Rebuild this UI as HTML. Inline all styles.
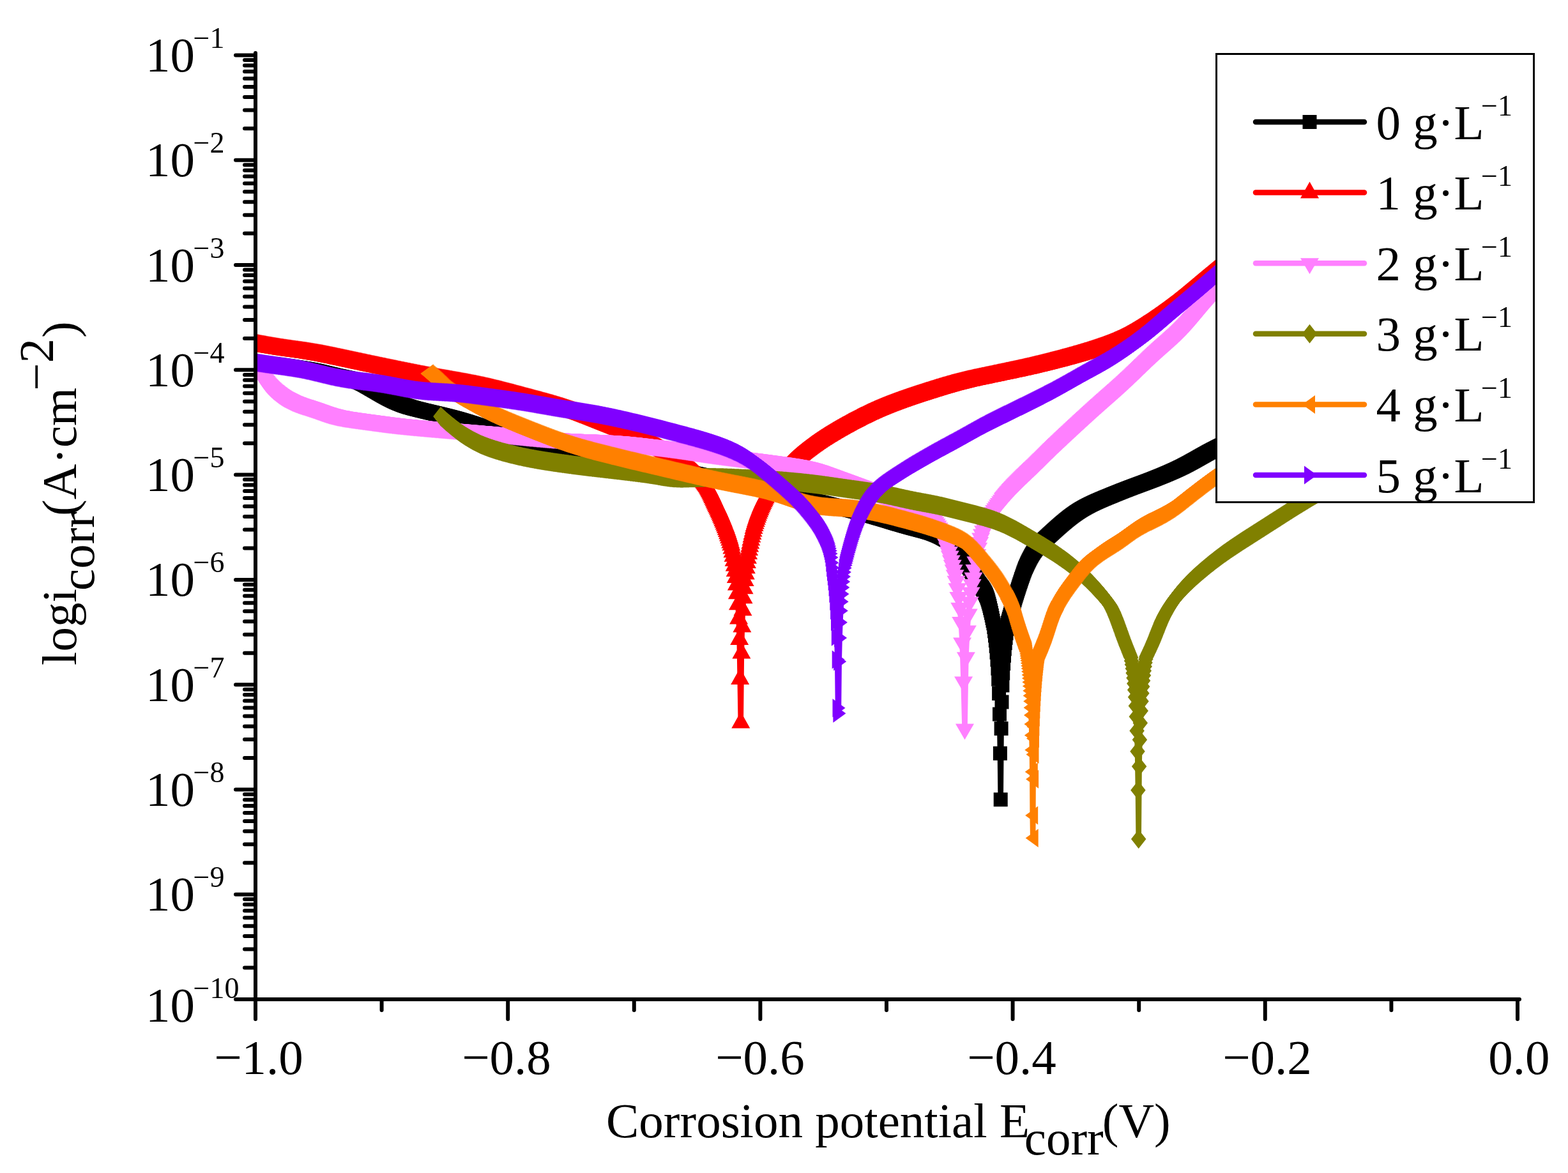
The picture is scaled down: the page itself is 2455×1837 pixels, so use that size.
<!DOCTYPE html><html><head><meta charset="utf-8"><title>Tafel plot</title><style>html,body{margin:0;padding:0;background:#fff;}svg{display:block}</style></head><body>
<svg width="2455" height="1837" viewBox="0 0 2455 1837" xmlns="http://www.w3.org/2000/svg">
<rect width="100%" height="100%" fill="#fff"/>
<defs><clipPath id="pc"><rect x="400" y="0" width="1976" height="1565"/></clipPath>
<marker id="m_black" markerUnits="userSpaceOnUse" markerWidth="40" markerHeight="40" refX="0" refY="0" viewBox="-20 -20 40 40" overflow="visible"><path d="M-11 -11H11V11H-11Z" fill="#000000"/></marker>
<marker id="m_red" markerUnits="userSpaceOnUse" markerWidth="40" markerHeight="40" refX="0" refY="0" viewBox="-20 -20 40 40" overflow="visible"><path d="M0 -17L14.5 9L-14.5 9Z" fill="#ff0000"/></marker>
<marker id="m_pink" markerUnits="userSpaceOnUse" markerWidth="40" markerHeight="40" refX="0" refY="0" viewBox="-20 -20 40 40" overflow="visible"><path d="M0 17L14.5 -8L-14.5 -8Z" fill="#ff80ff"/></marker>
<marker id="m_olive" markerUnits="userSpaceOnUse" markerWidth="40" markerHeight="40" refX="0" refY="0" viewBox="-20 -20 40 40" overflow="visible"><path d="M0 -15L11.75 0L0 15L-11.75 0Z" fill="#808000"/></marker>
<marker id="m_orange" markerUnits="userSpaceOnUse" markerWidth="40" markerHeight="40" refX="0" refY="0" viewBox="-20 -20 40 40" overflow="visible"><path d="M-11.5 0L8.5 -14.5L8.5 14.5Z" fill="#ff8000"/></marker>
<marker id="m_purple" markerUnits="userSpaceOnUse" markerWidth="40" markerHeight="40" refX="0" refY="0" viewBox="-20 -20 40 40" overflow="visible"><path d="M11.5 0L-8.5 -14.5L-8.5 14.5Z" fill="#8000ff"/></marker>
</defs><g clip-path="url(#pc)">
<polyline points="400.0,568.0 400.2,568.0 401.2,568.1 402.2,568.2 403.2,568.2 404.2,568.3 405.2,568.4 406.2,568.5 407.2,568.6 408.2,568.7 409.2,568.8 410.2,568.9 411.2,568.9 412.2,569.0 413.2,569.1 414.2,569.2 415.2,569.3 416.2,569.4 417.2,569.5 418.2,569.6 419.2,569.7 420.2,569.8 421.2,569.9 422.2,570.1 423.2,570.2 424.2,570.3 425.2,570.4 426.2,570.5 427.2,570.6 428.2,570.7 429.2,570.8 430.2,571.0 431.2,571.1 432.2,571.2 433.2,571.3 434.2,571.4 435.2,571.6 436.2,571.7 437.2,571.8 438.2,571.9 439.2,572.1 440.2,572.2 441.2,572.3 442.2,572.5 443.2,572.6 444.2,572.7 445.2,572.9 446.2,573.0 447.2,573.1 448.2,573.3 449.2,573.4 450.2,573.6 451.2,573.7 452.2,573.8 453.2,574.0 454.2,574.1 455.2,574.3 456.2,574.4 457.2,574.6 458.2,574.7 459.2,574.9 460.2,575.0 461.2,575.2 462.2,575.3 463.2,575.5 464.2,575.6 465.2,575.8 466.2,575.9 467.2,576.1 468.2,576.2 469.2,576.4 470.2,576.5 471.2,576.7 472.2,576.9 473.2,577.0 474.2,577.2 475.2,577.3 476.2,577.5 477.2,577.7 478.2,577.8 479.2,578.0 480.2,578.2 481.2,578.4 482.2,578.6 483.2,578.7 484.2,578.9 485.2,579.1 486.2,579.3 487.2,579.5 488.2,579.7 489.2,579.9 490.2,580.1 491.2,580.3 492.2,580.5 493.2,580.7 494.2,580.9 495.2,581.2 496.2,581.4 497.2,581.6 498.2,581.8 499.2,582.1 500.2,582.3 501.2,582.5 502.2,582.8 503.2,583.0 504.2,583.2 505.2,583.5 506.2,583.7 507.2,584.0 508.2,584.2 509.2,584.4 510.2,584.7 511.2,584.9 512.2,585.2 513.2,585.4 514.2,585.7 515.2,585.9 516.2,586.1 517.2,586.4 518.2,586.6 519.2,586.8 520.2,587.1 521.2,587.3 522.2,587.5 523.2,587.8 524.2,588.0 525.2,588.2 526.2,588.4 527.2,588.7 528.2,588.9 529.2,589.1 530.2,589.3 531.2,589.5 532.2,589.7 533.2,590.0 534.2,590.2 535.2,590.4 536.2,590.6 537.2,590.8 538.2,591.0 539.2,591.2 540.2,591.4 541.2,591.7 542.2,591.9 543.2,592.1 544.2,592.3 545.2,592.6 546.2,592.8 547.2,593.1 548.2,593.3 549.2,593.6 550.2,593.8 551.2,594.1 552.2,594.4 553.2,594.7 554.2,595.0 555.2,595.4 556.2,595.7 557.2,596.1 558.2,596.4 559.2,596.8 560.2,597.2 561.2,597.6 562.2,598.1 563.2,598.5 564.2,599.0 565.2,599.5 566.2,600.0 567.2,600.5 568.2,601.0 569.2,601.5 570.2,602.0 571.2,602.6 572.2,603.1 573.2,603.7 574.2,604.3 575.2,604.8 576.2,605.4 577.2,606.0 578.2,606.5 579.2,607.1 580.2,607.7 581.2,608.3 582.2,608.9 583.2,609.4 584.2,610.0 585.2,610.6 586.2,611.2 587.2,611.8 588.2,612.3 589.2,612.9 590.2,613.5 591.2,614.1 592.2,614.7 593.2,615.3 594.2,615.8 595.2,616.4 596.2,617.0 597.2,617.6 598.2,618.2 599.2,618.7 600.2,619.3 601.2,619.9 602.2,620.4 603.2,621.0 604.2,621.5 605.2,622.1 606.2,622.6 607.2,623.1 608.2,623.7 609.2,624.2 610.2,624.7 611.2,625.2 612.2,625.7 613.2,626.2 614.2,626.7 615.2,627.2 616.2,627.7 617.2,628.2 618.2,628.6 619.2,629.1 620.2,629.6 621.2,630.0 622.2,630.4 623.2,630.9 624.2,631.3 625.2,631.7 626.2,632.1 627.2,632.5 628.2,632.9 629.2,633.3 630.2,633.7 631.2,634.1 632.2,634.5 633.2,634.8 634.2,635.2 635.2,635.5 636.2,635.9 637.2,636.2 638.2,636.5 639.2,636.8 640.2,637.2 641.2,637.5 642.2,637.8 643.2,638.0 644.2,638.3 645.2,638.6 646.2,638.9 647.2,639.2 648.2,639.4 649.2,639.7 650.2,640.0 651.2,640.2 652.2,640.5 653.2,640.7 654.2,641.0 655.2,641.2 656.2,641.5 657.2,641.7 658.2,642.0 659.2,642.2 660.2,642.5 661.2,642.7 662.2,643.0 663.2,643.2 664.2,643.4 665.2,643.7 666.2,643.9 667.2,644.2 668.2,644.4 669.2,644.6 670.2,644.9 671.2,645.1 672.2,645.3 673.2,645.6 674.2,645.8 675.2,646.1 676.2,646.3 677.2,646.5 678.2,646.8 679.2,647.0 680.2,647.2 681.2,647.5 682.2,647.7 683.2,648.0 684.2,648.2 685.2,648.4 686.2,648.7 687.2,648.9 688.2,649.2 689.2,649.4 690.2,649.7 691.2,649.9 692.2,650.1 693.2,650.4 694.2,650.6 695.2,650.9 696.2,651.1 697.2,651.4 698.2,651.6 699.2,651.9 700.2,652.2 701.2,652.4 702.2,652.7 703.2,652.9 704.2,653.2 705.2,653.4 706.2,653.7 707.2,654.0 708.2,654.2 709.2,654.5 710.2,654.8 711.2,655.1 712.2,655.3 713.2,655.6 714.2,655.9 715.2,656.2 716.2,656.4 717.2,656.7 718.2,657.0 719.2,657.3 720.2,657.6 721.2,657.9 722.2,658.2 723.2,658.5 724.2,658.8 725.2,659.1 726.2,659.4 727.2,659.7 728.2,660.0 729.2,660.3 730.2,660.6 731.2,660.9 732.2,661.3 733.2,661.6 734.2,661.9 735.2,662.2 736.2,662.5 737.2,662.8 738.2,663.2 739.2,663.5 740.2,663.8 741.2,664.2 742.2,664.5 743.2,664.8 744.2,665.1 745.2,665.5 746.2,665.8 747.2,666.1 748.2,666.5 749.2,666.8 750.2,667.2 751.2,667.5 752.2,667.8 753.2,668.2 754.2,668.5 755.2,668.9 756.2,669.2 757.2,669.6 758.2,669.9 759.2,670.2 760.2,670.6 761.2,670.9 762.2,671.3 763.2,671.6 764.2,672.0 765.2,672.3 766.2,672.7 767.2,673.0 768.2,673.4 769.2,673.7 770.2,674.1 771.2,674.4 772.2,674.8 773.2,675.1 774.2,675.5 775.2,675.8 776.2,676.2 777.2,676.5 778.2,676.9 779.2,677.2 780.2,677.6 781.2,677.9 782.2,678.3 783.2,678.6 784.2,679.0 785.2,679.3 786.2,679.7 787.2,680.0 788.2,680.4 789.2,680.7 790.2,681.1 791.2,681.4 792.2,681.8 793.2,682.1 794.2,682.5 795.2,682.9 796.2,683.2 797.2,683.6 798.2,683.9 799.2,684.3 800.2,684.7 801.2,685.1 802.2,685.4 803.2,685.8 804.2,686.2 805.2,686.6 806.2,686.9 807.2,687.3 808.2,687.7 809.2,688.1 810.2,688.5 811.2,688.8 812.2,689.2 813.2,689.6 814.2,690.0 815.2,690.4 816.2,690.8 817.2,691.1 818.2,691.5 819.2,691.9 820.2,692.3 821.2,692.7 822.2,693.1 823.2,693.4 824.2,693.8 825.2,694.2 826.2,694.6 827.2,694.9 828.2,695.3 829.2,695.7 830.2,696.0 831.2,696.4 832.2,696.7 833.2,697.1 834.2,697.4 835.2,697.8 836.2,698.1 837.2,698.5 838.2,698.8 839.2,699.1 840.2,699.5 841.2,699.8 842.2,700.1 843.2,700.4 844.2,700.7 845.2,701.1 846.2,701.4 847.2,701.7 848.2,702.0 849.2,702.3 850.2,702.5 851.2,702.8 852.2,703.1 853.2,703.4 854.2,703.7 855.2,703.9 856.2,704.2 857.2,704.5 858.2,704.8 859.2,705.0 860.2,705.3 861.2,705.6 862.2,705.8 863.2,706.1 864.2,706.3 865.2,706.6 866.2,706.8 867.2,707.1 868.2,707.4 869.2,707.6 870.2,707.9 871.2,708.1 872.2,708.3 873.2,708.6 874.2,708.8 875.2,709.1 876.2,709.3 877.2,709.5 878.2,709.8 879.2,710.0 880.2,710.2 881.2,710.5 882.2,710.7 883.2,710.9 884.2,711.2 885.2,711.4 886.2,711.6 887.2,711.8 888.2,712.0 889.2,712.3 890.2,712.5 891.2,712.7 892.2,712.9 893.2,713.1 894.2,713.3 895.2,713.5 896.2,713.7 897.2,713.9 898.2,714.1 899.2,714.3 900.2,714.5 901.2,714.7 902.2,714.9 903.2,715.1 904.2,715.3 905.2,715.5 906.2,715.7 907.2,715.9 908.2,716.1 909.2,716.3 910.2,716.4 911.2,716.6 912.2,716.8 913.2,717.0 914.2,717.1 915.2,717.3 916.2,717.5 917.2,717.6 918.2,717.8 919.2,718.0 920.2,718.1 921.2,718.3 922.2,718.4 923.2,718.6 924.2,718.8 925.2,718.9 926.2,719.1 927.2,719.2 928.2,719.4 929.2,719.5 930.2,719.6 931.2,719.8 932.2,719.9 933.2,720.1 934.2,720.2 935.2,720.3 936.2,720.5 937.2,720.6 938.2,720.7 939.2,720.9 940.2,721.0 941.2,721.1 942.2,721.3 943.2,721.4 944.2,721.5 945.2,721.6 946.2,721.8 947.2,721.9 948.2,722.0 949.2,722.1 950.2,722.2 951.2,722.3 952.2,722.5 953.2,722.6 954.2,722.7 955.2,722.8 956.2,722.9 957.2,723.0 958.2,723.1 959.2,723.3 960.2,723.4 961.2,723.5 962.2,723.6 963.2,723.7 964.2,723.8 965.2,723.9 966.2,724.0 967.2,724.1 968.2,724.2 969.2,724.3 970.2,724.4 971.2,724.5 972.2,724.6 973.2,724.8 974.2,724.9 975.2,725.0 976.2,725.1 977.2,725.2 978.2,725.3 979.2,725.4 980.2,725.5 981.2,725.6 982.2,725.7 983.2,725.8 984.2,725.9 985.2,726.0 986.2,726.1 987.2,726.2 988.2,726.3 989.2,726.4 990.2,726.5 991.2,726.7 992.2,726.8 993.2,726.9 994.2,727.0 995.2,727.1 996.2,727.2 997.2,727.3 998.2,727.4 999.2,727.5 1000.2,727.6 1001.2,727.8 1002.2,727.9 1003.2,728.0 1004.2,728.1 1005.2,728.2 1006.2,728.3 1007.2,728.5 1008.2,728.6 1009.2,728.7 1010.2,728.8 1011.2,728.9 1012.2,729.1 1013.2,729.2 1014.2,729.3 1015.2,729.5 1016.2,729.6 1017.2,729.7 1018.2,729.9 1019.2,730.0 1020.2,730.1 1021.2,730.3 1022.2,730.4 1023.2,730.5 1024.2,730.7 1025.2,730.8 1026.2,731.0 1027.2,731.1 1028.2,731.3 1029.2,731.4 1030.2,731.6 1031.2,731.7 1032.2,731.9 1033.2,732.0 1034.2,732.2 1035.2,732.3 1036.2,732.5 1037.2,732.6 1038.2,732.8 1039.2,733.0 1040.2,733.1 1041.2,733.3 1042.2,733.5 1043.2,733.6 1044.2,733.8 1045.2,734.0 1046.2,734.1 1047.2,734.3 1048.2,734.5 1049.2,734.6 1050.2,734.8 1051.2,735.0 1052.2,735.2 1053.2,735.3 1054.2,735.5 1055.2,735.7 1056.2,735.9 1057.2,736.1 1058.2,736.2 1059.2,736.4 1060.2,736.6 1061.2,736.8 1062.2,737.0 1063.2,737.2 1064.2,737.4 1065.2,737.5 1066.2,737.7 1067.2,737.9 1068.2,738.1 1069.2,738.3 1070.2,738.5 1071.2,738.7 1072.2,738.9 1073.2,739.1 1074.2,739.3 1075.2,739.5 1076.2,739.7 1077.2,739.9 1078.2,740.1 1079.2,740.3 1080.2,740.5 1081.2,740.7 1082.2,740.9 1083.2,741.1 1084.2,741.3 1085.2,741.5 1086.2,741.7 1087.2,741.9 1088.2,742.1 1089.2,742.3 1090.2,742.5 1091.2,742.7 1092.2,743.0 1093.2,743.2 1094.2,743.4 1095.2,743.6 1096.2,743.8 1097.2,744.0 1098.2,744.2 1099.2,744.4 1100.2,744.7 1101.2,744.9 1102.2,745.1 1103.2,745.3 1104.2,745.5 1105.2,745.7 1106.2,746.0 1107.2,746.2 1108.2,746.4 1109.2,746.6 1110.2,746.8 1111.2,747.1 1112.2,747.3 1113.2,747.5 1114.2,747.7 1115.2,748.0 1116.2,748.2 1117.2,748.4 1118.2,748.6 1119.2,748.8 1120.2,749.1 1121.2,749.3 1122.2,749.5 1123.2,749.7 1124.2,750.0 1125.2,750.2 1126.2,750.4 1127.2,750.7 1128.2,750.9 1129.2,751.1 1130.2,751.3 1131.2,751.6 1132.2,751.8 1133.2,752.0 1134.2,752.3 1135.2,752.5 1136.2,752.7 1137.2,752.9 1138.2,753.2 1139.2,753.4 1140.2,753.6 1141.2,753.9 1142.2,754.1 1143.2,754.3 1144.2,754.6 1145.2,754.8 1146.2,755.0 1147.2,755.3 1148.2,755.5 1149.2,755.7 1150.2,755.9 1151.2,756.2 1152.2,756.4 1153.2,756.6 1154.2,756.9 1155.2,757.1 1156.2,757.3 1157.2,757.6 1158.2,757.8 1159.2,758.0 1160.2,758.3 1161.2,758.5 1162.2,758.7 1163.2,759.0 1164.2,759.2 1165.2,759.4 1166.2,759.7 1167.2,759.9 1168.2,760.1 1169.2,760.4 1170.2,760.6 1171.2,760.8 1172.2,761.1 1173.2,761.3 1174.2,761.5 1175.2,761.7 1176.2,762.0 1177.2,762.2 1178.2,762.4 1179.2,762.7 1180.2,762.9 1181.2,763.1 1182.2,763.4 1183.2,763.6 1184.2,763.8 1185.2,764.0 1186.2,764.3 1187.2,764.5 1188.2,764.7 1189.2,765.0 1190.2,765.2 1191.2,765.4 1192.2,765.6 1193.2,765.9 1194.2,766.1 1195.2,766.3 1196.2,766.6 1197.2,766.8 1198.2,767.0 1199.2,767.2 1200.2,767.5 1201.2,767.7 1202.2,767.9 1203.2,768.1 1204.2,768.4 1205.2,768.6 1206.2,768.8 1207.2,769.0 1208.2,769.3 1209.2,769.5 1210.2,769.7 1211.2,769.9 1212.2,770.2 1213.2,770.4 1214.2,770.6 1215.2,770.8 1216.2,771.1 1217.2,771.3 1218.2,771.5 1219.2,771.8 1220.2,772.0 1221.2,772.2 1222.2,772.4 1223.2,772.7 1224.2,772.9 1225.2,773.1 1226.2,773.3 1227.2,773.6 1228.2,773.8 1229.2,774.0 1230.2,774.3 1231.2,774.5 1232.2,774.7 1233.2,774.9 1234.2,775.2 1235.2,775.4 1236.2,775.6 1237.2,775.9 1238.2,776.1 1239.2,776.3 1240.2,776.6 1241.2,776.8 1242.2,777.0 1243.2,777.2 1244.2,777.5 1245.2,777.7 1246.2,777.9 1247.2,778.2 1248.2,778.4 1249.2,778.6 1250.2,778.9 1251.2,779.1 1252.2,779.3 1253.2,779.6 1254.2,779.8 1255.2,780.0 1256.2,780.3 1257.2,780.5 1258.2,780.7 1259.2,781.0 1260.2,781.2 1261.2,781.4 1262.2,781.7 1263.2,781.9 1264.2,782.1 1265.2,782.4 1266.2,782.6 1267.2,782.8 1268.2,783.1 1269.2,783.3 1270.2,783.6 1271.2,783.8 1272.2,784.0 1273.2,784.3 1274.2,784.5 1275.2,784.7 1276.2,785.0 1277.2,785.2 1278.2,785.5 1279.2,785.7 1280.2,785.9 1281.2,786.2 1282.2,786.4 1283.2,786.7 1284.2,786.9 1285.2,787.1 1286.2,787.4 1287.2,787.6 1288.2,787.9 1289.2,788.1 1290.2,788.4 1291.2,788.6 1292.2,788.8 1293.2,789.1 1294.2,789.3 1295.2,789.6 1296.2,789.8 1297.2,790.1 1298.2,790.3 1299.2,790.6 1300.2,790.8 1301.2,791.0 1302.2,791.3 1303.2,791.5 1304.2,791.8 1305.2,792.0 1306.2,792.3 1307.2,792.5 1308.2,792.8 1309.2,793.0 1310.2,793.3 1311.2,793.5 1312.2,793.8 1313.2,794.0 1314.2,794.3 1315.2,794.5 1316.2,794.8 1317.2,795.0 1318.2,795.3 1319.2,795.5 1320.2,795.8 1321.2,796.1 1322.2,796.3 1323.2,796.6 1324.2,796.8 1325.2,797.1 1326.2,797.3 1327.2,797.6 1328.2,797.8 1329.2,798.1 1330.2,798.4 1331.2,798.6 1332.2,798.9 1333.2,799.1 1334.2,799.4 1335.2,799.7 1336.2,799.9 1337.2,800.2 1338.2,800.4 1339.2,800.7 1340.2,801.0 1341.2,801.2 1342.2,801.5 1343.2,801.8 1344.2,802.0 1345.2,802.3 1346.2,802.6 1347.2,802.9 1348.2,803.1 1349.2,803.4 1350.2,803.7 1351.2,803.9 1352.2,804.2 1353.2,804.5 1354.2,804.8 1355.2,805.0 1356.2,805.3 1357.2,805.6 1358.2,805.9 1359.2,806.2 1360.2,806.4 1361.2,806.7 1362.2,807.0 1363.2,807.3 1364.2,807.6 1365.2,807.9 1366.2,808.2 1367.2,808.4 1368.2,808.7 1369.2,809.0 1370.2,809.3 1371.2,809.6 1372.2,809.9 1373.2,810.2 1374.2,810.5 1375.2,810.8 1376.2,811.1 1377.2,811.4 1378.2,811.6 1379.2,811.9 1380.2,812.2 1381.2,812.5 1382.2,812.8 1383.2,813.1 1384.2,813.4 1385.2,813.7 1386.2,814.0 1387.2,814.3 1388.2,814.6 1389.2,814.9 1390.2,815.2 1391.2,815.5 1392.2,815.8 1393.2,816.1 1394.2,816.4 1395.2,816.8 1396.2,817.1 1397.2,817.4 1398.2,817.7 1399.2,818.0 1400.2,818.3 1401.2,818.6 1402.2,818.9 1403.2,819.2 1404.2,819.5 1405.2,819.8 1406.2,820.1 1407.2,820.4 1408.2,820.7 1409.2,821.0 1410.2,821.2 1411.2,821.5 1412.2,821.8 1413.2,822.1 1414.2,822.4 1415.2,822.7 1416.2,823.0 1417.2,823.3 1418.2,823.6 1419.2,823.9 1420.2,824.1 1421.2,824.4 1422.2,824.7 1423.2,825.0 1424.2,825.3 1425.2,825.5 1426.2,825.8 1427.2,826.1 1428.2,826.4 1429.2,826.6 1430.2,826.9 1431.2,827.2 1432.2,827.4 1433.2,827.7 1434.2,828.0 1435.2,828.2 1436.2,828.5 1437.2,828.8 1438.2,829.0 1439.2,829.3 1440.2,829.5 1441.2,829.8 1442.2,830.1 1443.2,830.3 1444.2,830.6 1445.2,830.9 1446.2,831.1 1447.2,831.4 1448.2,831.7 1449.2,831.9 1450.2,832.2 1451.2,832.5 1452.2,832.8 1453.2,833.1 1454.2,833.4 1455.2,833.7 1456.2,834.0 1457.2,834.3 1458.2,834.7 1459.2,835.0 1460.2,835.4 1461.2,835.7 1462.2,836.1 1463.2,836.5 1464.2,836.9 1465.2,837.3 1466.2,837.7 1467.2,838.1 1468.2,838.5 1469.2,838.9 1470.2,839.4 1471.2,839.9 1472.2,840.3 1473.2,840.8 1474.2,841.3 1475.2,841.8 1476.2,842.4 1477.2,842.9 1478.2,843.5 1479.2,844.0 1480.2,844.6 1481.2,845.3 1482.2,845.9 1483.2,846.5 1484.2,847.2 1485.2,847.9 1486.2,848.6 1487.2,849.4 1488.2,850.1 1489.2,850.9 1490.2,851.7 1491.2,852.6 1492.2,853.5 1493.2,854.5 1494.2,855.5 1495.2,856.5 1496.2,857.7 1497.2,858.8 1498.2,860.0 1499.2,861.3 1500.2,862.6 1501.2,863.9 1502.2,865.3 1503.2,866.7 1504.2,868.1 1505.2,869.5 1506.2,871.0 1507.2,872.5 1508.2,873.9 1509.2,875.4 1510.2,876.9 1511.2,878.4 1512.2,879.9 1513.2,881.4 1514.2,883.0 1515.2,884.6 1516.2,886.2 1517.2,887.9 1518.2,889.6 1519.2,891.3 1520.2,893.0 1521.2,894.7 1522.2,896.5 1523.1,898.1 1524.0,899.6 1524.8,901.1 1525.7,902.7 1526.6,904.2 1527.4,905.7 1528.3,907.1 1529.2,908.6 1530.1,910.0 1530.9,911.4 1531.8,912.7 1532.7,914.0 1533.6,915.2 1534.4,916.3 1535.3,917.5 1536.2,918.7 1537.1,919.9 1537.9,921.1 1538.8,922.4 1539.7,923.8 1540.5,925.2 1541.4,926.8 1542.3,928.4 1543.2,930.2 1544.0,932.1 1544.9,934.2 1545.8,936.7 1546.7,939.3 1547.5,942.3 1548.4,945.4 1549.3,948.7 1550.1,952.3 1551.0,956.0 1551.9,959.8 1552.8,963.8 1553.6,967.9 1554.5,972.1 1555.4,976.2 1556.3,982.1 1557.1,988.4 1558.0,995.4 1558.9,1003.1 1559.7,1011.8 1560.6,1021.7 1561.5,1033.2 1562.4,1046.8 1563.2,1063.8 1564.1,1086.0 1565.0,1118.5 1565.9,1179.8 1566.7,1252.2 1567.6,1140.9 1568.5,1099.4 1569.4,1073.3 1570.2,1054.3 1571.1,1039.2 1572.0,1026.8 1572.8,1016.3 1573.7,1007.1 1574.6,998.9 1575.5,991.6 1576.3,985.0 1577.2,978.9 1578.1,975.0 1579.0,971.9 1579.8,968.9 1580.7,965.9 1581.6,962.9 1582.4,960.0 1583.3,957.0 1584.2,954.1 1585.1,951.2 1585.9,948.3 1586.8,945.4 1587.7,942.5 1588.6,939.7 1589.4,936.8 1590.3,934.0 1591.2,931.2 1592.0,928.4 1592.9,925.6 1593.8,922.8 1594.7,920.1 1595.5,917.4 1596.4,914.8 1597.3,912.1 1598.2,909.6 1599.0,906.9 1599.9,904.4 1600.8,901.8 1601.7,899.3 1602.5,896.8 1603.4,894.5 1604.3,892.2 1605.1,890.0 1606.0,888.0 1606.9,886.0 1607.8,884.1 1608.6,882.2 1609.5,880.4 1610.4,878.6 1611.3,876.8 1612.3,874.9 1613.3,873.0 1614.3,871.1 1615.3,869.4 1616.3,867.7 1617.3,866.1 1618.3,864.5 1619.3,863.1 1620.3,861.7 1621.3,860.3 1622.3,859.0 1623.3,857.8 1624.3,856.5 1625.3,855.4 1626.3,854.2 1627.3,853.1 1628.3,852.0 1629.3,851.0 1630.3,849.9 1631.3,848.9 1632.3,847.9 1633.3,847.0 1634.3,846.0 1635.3,845.0 1636.3,844.1 1637.3,843.2 1638.3,842.2 1639.3,841.3 1640.3,840.4 1641.3,839.5 1642.3,838.5 1643.3,837.6 1644.3,836.7 1645.3,835.8 1646.3,834.9 1647.3,834.0 1648.3,833.0 1649.3,832.1 1650.3,831.2 1651.3,830.3 1652.3,829.4 1653.3,828.5 1654.3,827.6 1655.3,826.7 1656.3,825.8 1657.3,824.9 1658.3,824.1 1659.3,823.2 1660.3,822.3 1661.3,821.4 1662.3,820.6 1663.3,819.7 1664.3,818.9 1665.3,818.0 1666.3,817.2 1667.3,816.4 1668.3,815.5 1669.3,814.7 1670.3,813.9 1671.3,813.1 1672.3,812.3 1673.3,811.5 1674.3,810.7 1675.3,809.9 1676.3,809.2 1677.3,808.4 1678.3,807.7 1679.3,806.9 1680.3,806.2 1681.3,805.5 1682.3,804.8 1683.3,804.1 1684.3,803.4 1685.3,802.7 1686.3,802.0 1687.3,801.4 1688.3,800.7 1689.3,800.1 1690.3,799.4 1691.3,798.8 1692.3,798.2 1693.3,797.6 1694.3,797.0 1695.3,796.4 1696.3,795.9 1697.3,795.3 1698.3,794.7 1699.3,794.2 1700.3,793.6 1701.3,793.1 1702.3,792.6 1703.3,792.1 1704.3,791.5 1705.3,791.0 1706.3,790.5 1707.3,790.0 1708.3,789.5 1709.3,789.0 1710.3,788.6 1711.3,788.1 1712.3,787.6 1713.3,787.1 1714.3,786.7 1715.3,786.2 1716.3,785.8 1717.3,785.3 1718.3,784.9 1719.3,784.4 1720.3,784.0 1721.3,783.6 1722.3,783.1 1723.3,782.7 1724.3,782.3 1725.3,781.8 1726.3,781.4 1727.3,781.0 1728.3,780.6 1729.3,780.2 1730.3,779.7 1731.3,779.3 1732.3,778.9 1733.3,778.5 1734.3,778.1 1735.3,777.7 1736.3,777.3 1737.3,776.9 1738.3,776.5 1739.3,776.1 1740.3,775.7 1741.3,775.2 1742.3,774.8 1743.3,774.4 1744.3,774.0 1745.3,773.6 1746.3,773.2 1747.3,772.8 1748.3,772.4 1749.3,772.0 1750.3,771.6 1751.3,771.2 1752.3,770.8 1753.3,770.4 1754.3,770.0 1755.3,769.6 1756.3,769.2 1757.3,768.8 1758.3,768.4 1759.3,768.0 1760.3,767.6 1761.3,767.3 1762.3,766.9 1763.3,766.5 1764.3,766.1 1765.3,765.7 1766.3,765.3 1767.3,764.9 1768.3,764.6 1769.3,764.2 1770.3,763.8 1771.3,763.4 1772.3,763.0 1773.3,762.7 1774.3,762.3 1775.3,761.9 1776.3,761.5 1777.3,761.2 1778.3,760.8 1779.3,760.4 1780.3,760.1 1781.3,759.7 1782.3,759.3 1783.3,758.9 1784.3,758.6 1785.3,758.2 1786.3,757.8 1787.3,757.5 1788.3,757.1 1789.3,756.7 1790.3,756.4 1791.3,756.0 1792.3,755.6 1793.3,755.2 1794.3,754.9 1795.3,754.5 1796.3,754.1 1797.3,753.7 1798.3,753.4 1799.3,753.0 1800.3,752.6 1801.3,752.2 1802.3,751.8 1803.3,751.5 1804.3,751.1 1805.3,750.7 1806.3,750.3 1807.3,749.9 1808.3,749.5 1809.3,749.1 1810.3,748.7 1811.3,748.3 1812.3,747.9 1813.3,747.5 1814.3,747.1 1815.3,746.7 1816.3,746.3 1817.3,745.9 1818.3,745.5 1819.3,745.1 1820.3,744.7 1821.3,744.3 1822.3,743.9 1823.3,743.4 1824.3,743.0 1825.3,742.6 1826.3,742.2 1827.3,741.7 1828.3,741.3 1829.3,740.9 1830.3,740.5 1831.3,740.0 1832.3,739.6 1833.3,739.1 1834.3,738.7 1835.3,738.3 1836.3,737.8 1837.3,737.4 1838.3,736.9 1839.3,736.5 1840.3,736.0 1841.3,735.6 1842.3,735.1 1843.3,734.6 1844.3,734.2 1845.3,733.7 1846.3,733.2 1847.3,732.7 1848.3,732.2 1849.3,731.8 1850.3,731.3 1851.3,730.8 1852.3,730.3 1853.3,729.8 1854.3,729.2 1855.3,728.7 1856.3,728.2 1857.3,727.7 1858.3,727.2 1859.3,726.6 1860.3,726.1 1861.3,725.6 1862.3,725.0 1863.3,724.5 1864.3,723.9 1865.3,723.4 1866.3,722.8 1867.3,722.3 1868.3,721.7 1869.3,721.2 1870.3,720.6 1871.3,720.1 1872.3,719.5 1873.3,718.9 1874.3,718.4 1875.3,717.8 1876.3,717.2 1877.3,716.7 1878.3,716.1 1879.3,715.5 1880.3,715.0 1881.3,714.4 1882.3,713.8 1883.3,713.3 1884.3,712.7 1885.3,712.2 1886.3,711.6 1887.3,711.0 1888.3,710.5 1889.3,709.9 1890.3,709.4 1891.3,708.8 1892.3,708.3 1893.3,707.7 1894.3,707.2 1895.3,706.7 1896.3,706.1 1897.3,705.6 1898.3,705.1 1899.3,704.5 1900.3,704.0 1901.3,703.5 1902.3,703.0 1903.3,702.5 1904.3,702.0 1905.3,701.4 1906.3,700.9 1907.3,700.4 1908.3,699.9 1909.3,699.4 1910.3,698.9 1911.3,698.4 1912.3,697.9 1913.3,697.4 1914.3,696.9 1915.3,696.5 1916.3,696.0 1917.3,695.5 1918.3,695.0 1919.3,694.5 1920.3,694.0 1921.3,693.5 1922.3,693.1 1923.3,692.6 1924.3,692.1 1925.3,691.6 1926.3,691.1 1927.3,690.7 1928.3,690.2 1929.3,689.7 1930.3,689.2 1931.3,688.8 1932.3,688.3 1933.3,687.8 1934.3,687.3 1935.3,686.9 1936.3,686.4 1937.3,685.9 1938.3,685.4 1939.3,685.0 1940.3,684.5 1941.3,684.0 1942.3,683.5 1943.3,683.1 1944.3,682.6 1945.3,682.1 1946.3,681.6 1947.3,681.1 1948.3,680.7 1949.3,680.2 1950.3,679.7 1951.3,679.2 1952.3,678.7 1953.3,678.3 1954.3,677.8 1955.3,677.3 1956.3,676.8 1957.3,676.3 1958.3,675.8 1959.3,675.3 1960.3,674.8 1961.3,674.4 1962.3,673.9 1963.3,673.4 1964.3,672.9 1965.3,672.4 1966.3,671.9 1967.3,671.4 1968.3,670.9 1969.3,670.4 1970.3,669.9 1971.3,669.4 1972.3,668.9 1973.3,668.4 1974.3,667.9 1975.3,667.4 1976.3,666.9 1977.3,666.4 1978.3,665.9 1979.3,665.4 1980.3,664.9 1981.3,664.4 1982.3,663.9 1983.3,663.4 1984.3,662.9 1985.3,662.4 1986.3,661.9 1987.3,661.4 1988.3,660.9 1989.3,660.4 1990.3,659.9 1991.3,659.4 1992.3,658.9 1993.3,658.4 1994.3,657.9 1995.3,657.4 1996.3,656.9 1997.3,656.4 1998.3,655.9 1999.3,655.4" fill="none" stroke="#000000" stroke-width="8.5" stroke-linejoin="round" marker-start="url(#m_black)" marker-mid="url(#m_black)" marker-end="url(#m_black)"/>
<polyline points="400.0,539.4 400.9,539.5 401.9,539.7 402.9,539.9 403.9,540.1 404.9,540.3 405.9,540.5 406.9,540.7 407.9,540.9 408.9,541.0 409.9,541.2 410.9,541.4 411.9,541.6 412.9,541.8 413.9,542.0 414.9,542.1 415.9,542.3 416.9,542.5 417.9,542.7 418.9,542.9 419.9,543.0 420.9,543.2 421.9,543.4 422.9,543.6 423.9,543.7 424.9,543.9 425.9,544.1 426.9,544.3 427.9,544.4 428.9,544.6 429.9,544.8 430.9,544.9 431.9,545.1 432.9,545.3 433.9,545.4 434.9,545.6 435.9,545.8 436.9,545.9 437.9,546.1 438.9,546.2 439.9,546.4 440.9,546.5 441.9,546.7 442.9,546.8 443.9,547.0 444.9,547.2 445.9,547.3 446.9,547.4 447.9,547.6 448.9,547.7 449.9,547.9 450.9,548.0 451.9,548.2 452.9,548.3 453.9,548.5 454.9,548.6 455.9,548.7 456.9,548.9 457.9,549.0 458.9,549.2 459.9,549.3 460.9,549.4 461.9,549.6 462.9,549.7 463.9,549.9 464.9,550.0 465.9,550.1 466.9,550.3 467.9,550.4 468.9,550.5 469.9,550.7 470.9,550.8 471.9,551.0 472.9,551.1 473.9,551.3 474.9,551.4 475.9,551.5 476.9,551.7 477.9,551.8 478.9,552.0 479.9,552.1 480.9,552.3 481.9,552.4 482.9,552.6 483.9,552.7 484.9,552.9 485.9,553.0 486.9,553.2 487.9,553.4 488.9,553.5 489.9,553.7 490.9,553.9 491.9,554.0 492.9,554.2 493.9,554.4 494.9,554.5 495.9,554.7 496.9,554.9 497.9,555.1 498.9,555.2 499.9,555.4 500.9,555.6 501.9,555.8 502.9,556.0 503.9,556.1 504.9,556.3 505.9,556.5 506.9,556.7 507.9,556.9 508.9,557.1 509.9,557.3 510.9,557.5 511.9,557.7 512.9,557.9 513.9,558.1 514.9,558.3 515.9,558.5 516.9,558.7 517.9,558.9 518.9,559.1 519.9,559.3 520.9,559.5 521.9,559.7 522.9,559.9 523.9,560.1 524.9,560.3 525.9,560.5 526.9,560.7 527.9,561.0 528.9,561.2 529.9,561.4 530.9,561.6 531.9,561.8 532.9,562.0 533.9,562.2 534.9,562.4 535.9,562.6 536.9,562.9 537.9,563.1 538.9,563.3 539.9,563.5 540.9,563.7 541.9,563.9 542.9,564.1 543.9,564.4 544.9,564.6 545.9,564.8 546.9,565.0 547.9,565.2 548.9,565.4 549.9,565.6 550.9,565.9 551.9,566.1 552.9,566.3 553.9,566.5 554.9,566.7 555.9,566.9 556.9,567.1 557.9,567.4 558.9,567.6 559.9,567.8 560.9,568.0 561.9,568.2 562.9,568.4 563.9,568.6 564.9,568.8 565.9,569.1 566.9,569.3 567.9,569.5 568.9,569.7 569.9,569.9 570.9,570.1 571.9,570.3 572.9,570.5 573.9,570.8 574.9,571.0 575.9,571.2 576.9,571.4 577.9,571.6 578.9,571.8 579.9,572.0 580.9,572.2 581.9,572.4 582.9,572.7 583.9,572.9 584.9,573.1 585.9,573.3 586.9,573.5 587.9,573.7 588.9,573.9 589.9,574.1 590.9,574.3 591.9,574.5 592.9,574.7 593.9,575.0 594.9,575.2 595.9,575.4 596.9,575.6 597.9,575.8 598.9,576.0 599.9,576.2 600.9,576.4 601.9,576.6 602.9,576.8 603.9,577.0 604.9,577.2 605.9,577.4 606.9,577.7 607.9,577.9 608.9,578.1 609.9,578.3 610.9,578.5 611.9,578.7 612.9,578.9 613.9,579.1 614.9,579.3 615.9,579.5 616.9,579.7 617.9,579.9 618.9,580.1 619.9,580.3 620.9,580.5 621.9,580.7 622.9,581.0 623.9,581.2 624.9,581.4 625.9,581.6 626.9,581.8 627.9,582.0 628.9,582.2 629.9,582.4 630.9,582.6 631.9,582.8 632.9,583.0 633.9,583.2 634.9,583.4 635.9,583.6 636.9,583.8 637.9,584.0 638.9,584.2 639.9,584.4 640.9,584.6 641.9,584.8 642.9,585.0 643.9,585.2 644.9,585.4 645.9,585.6 646.9,585.8 647.9,586.0 648.9,586.2 649.9,586.4 650.9,586.6 651.9,586.8 652.9,587.0 653.9,587.2 654.9,587.4 655.9,587.6 656.9,587.8 657.9,588.0 658.9,588.2 659.9,588.4 660.9,588.6 661.9,588.8 662.9,588.9 663.9,589.1 664.9,589.3 665.9,589.5 666.9,589.7 667.9,589.9 668.9,590.1 669.9,590.3 670.9,590.5 671.9,590.6 672.9,590.8 673.9,591.0 674.9,591.2 675.9,591.4 676.9,591.6 677.9,591.7 678.9,591.9 679.9,592.1 680.9,592.3 681.9,592.5 682.9,592.6 683.9,592.8 684.9,593.0 685.9,593.2 686.9,593.3 687.9,593.5 688.9,593.7 689.9,593.9 690.9,594.0 691.9,594.2 692.9,594.4 693.9,594.6 694.9,594.7 695.9,594.9 696.9,595.1 697.9,595.3 698.9,595.4 699.9,595.6 700.9,595.8 701.9,596.0 702.9,596.1 703.9,596.3 704.9,596.5 705.9,596.7 706.9,596.8 707.9,597.0 708.9,597.2 709.9,597.4 710.9,597.5 711.9,597.7 712.9,597.9 713.9,598.1 714.9,598.2 715.9,598.4 716.9,598.6 717.9,598.8 718.9,599.0 719.9,599.1 720.9,599.3 721.9,599.5 722.9,599.7 723.9,599.9 724.9,600.0 725.9,600.2 726.9,600.4 727.9,600.6 728.9,600.8 729.9,601.0 730.9,601.1 731.9,601.3 732.9,601.5 733.9,601.7 734.9,601.9 735.9,602.1 736.9,602.3 737.9,602.5 738.9,602.7 739.9,602.9 740.9,603.1 741.9,603.2 742.9,603.4 743.9,603.6 744.9,603.8 745.9,604.0 746.9,604.2 747.9,604.4 748.9,604.6 749.9,604.9 750.9,605.1 751.9,605.3 752.9,605.5 753.9,605.7 754.9,605.9 755.9,606.1 756.9,606.3 757.9,606.5 758.9,606.8 759.9,607.0 760.9,607.2 761.9,607.4 762.9,607.6 763.9,607.9 764.9,608.1 765.9,608.3 766.9,608.5 767.9,608.8 768.9,609.0 769.9,609.2 770.9,609.5 771.9,609.7 772.9,609.9 773.9,610.2 774.9,610.4 775.9,610.7 776.9,610.9 777.9,611.2 778.9,611.4 779.9,611.6 780.9,611.9 781.9,612.1 782.9,612.4 783.9,612.6 784.9,612.9 785.9,613.1 786.9,613.4 787.9,613.7 788.9,613.9 789.9,614.2 790.9,614.4 791.9,614.7 792.9,614.9 793.9,615.2 794.9,615.5 795.9,615.7 796.9,616.0 797.9,616.3 798.9,616.5 799.9,616.8 800.9,617.0 801.9,617.3 802.9,617.6 803.9,617.8 804.9,618.1 805.9,618.4 806.9,618.6 807.9,618.9 808.9,619.2 809.9,619.4 810.9,619.7 811.9,620.0 812.9,620.3 813.9,620.5 814.9,620.8 815.9,621.1 816.9,621.3 817.9,621.6 818.9,621.9 819.9,622.1 820.9,622.4 821.9,622.7 822.9,622.9 823.9,623.2 824.9,623.5 825.9,623.7 826.9,624.0 827.9,624.3 828.9,624.5 829.9,624.8 830.9,625.1 831.9,625.3 832.9,625.6 833.9,625.9 834.9,626.1 835.9,626.4 836.9,626.7 837.9,626.9 838.9,627.2 839.9,627.5 840.9,627.7 841.9,628.0 842.9,628.3 843.9,628.5 844.9,628.8 845.9,629.1 846.9,629.3 847.9,629.6 848.9,629.9 849.9,630.2 850.9,630.4 851.9,630.7 852.9,631.0 853.9,631.3 854.9,631.5 855.9,631.8 856.9,632.1 857.9,632.4 858.9,632.6 859.9,632.9 860.9,633.2 861.9,633.5 862.9,633.8 863.9,634.0 864.9,634.3 865.9,634.6 866.9,634.9 867.9,635.2 868.9,635.5 869.9,635.8 870.9,636.1 871.9,636.4 872.9,636.7 873.9,637.0 874.9,637.3 875.9,637.6 876.9,637.9 877.9,638.2 878.9,638.5 879.9,638.8 880.9,639.1 881.9,639.4 882.9,639.7 883.9,640.1 884.9,640.4 885.9,640.7 886.9,641.0 887.9,641.4 888.9,641.7 889.9,642.0 890.9,642.4 891.9,642.7 892.9,643.0 893.9,643.4 894.9,643.7 895.9,644.1 896.9,644.4 897.9,644.8 898.9,645.1 899.9,645.5 900.9,645.8 901.9,646.2 902.9,646.5 903.9,646.9 904.9,647.3 905.9,647.6 906.9,648.0 907.9,648.4 908.9,648.8 909.9,649.1 910.9,649.5 911.9,649.9 912.9,650.3 913.9,650.7 914.9,651.0 915.9,651.4 916.9,651.8 917.9,652.2 918.9,652.6 919.9,653.0 920.9,653.4 921.9,653.8 922.9,654.1 923.9,654.5 924.9,654.9 925.9,655.3 926.9,655.7 927.9,656.1 928.9,656.5 929.9,656.9 930.9,657.3 931.9,657.7 932.9,658.1 933.9,658.5 934.9,658.9 935.9,659.3 936.9,659.7 937.9,660.1 938.9,660.5 939.9,660.9 940.9,661.3 941.9,661.7 942.9,662.1 943.9,662.5 944.9,662.9 945.9,663.3 946.9,663.7 947.9,664.1 948.9,664.5 949.9,664.9 950.9,665.3 951.9,665.7 952.9,666.1 953.9,666.5 954.9,666.9 955.9,667.2 956.9,667.6 957.9,668.0 958.9,668.4 959.9,668.8 960.9,669.2 961.9,669.6 962.9,670.0 963.9,670.4 964.9,670.8 965.9,671.2 966.9,671.6 967.9,672.0 968.9,672.4 969.9,672.8 970.9,673.1 971.9,673.5 972.9,673.9 973.9,674.3 974.9,674.7 975.9,675.1 976.9,675.5 977.9,675.9 978.9,676.3 979.9,676.8 980.9,677.2 981.9,677.6 982.9,678.0 983.9,678.4 984.9,678.8 985.9,679.2 986.9,679.6 987.9,680.1 988.9,680.5 989.9,680.9 990.9,681.4 991.9,681.8 992.9,682.2 993.9,682.7 994.9,683.1 995.9,683.5 996.9,684.0 997.9,684.4 998.9,684.9 999.9,685.3 1000.9,685.8 1001.9,686.3 1002.9,686.7 1003.9,687.2 1004.9,687.7 1005.9,688.2 1006.9,688.6 1007.9,689.1 1008.9,689.6 1009.9,690.1 1010.9,690.6 1011.9,691.1 1012.9,691.6 1013.9,692.2 1014.9,692.7 1015.9,693.2 1016.9,693.7 1017.9,694.3 1018.9,694.8 1019.9,695.3 1020.9,695.9 1021.9,696.4 1022.9,697.0 1023.9,697.6 1024.9,698.1 1025.9,698.7 1026.9,699.3 1027.9,699.9 1028.9,700.4 1029.9,701.0 1030.9,701.6 1031.9,702.2 1032.9,702.8 1033.9,703.4 1034.9,704.0 1035.9,704.6 1036.9,705.2 1037.9,705.8 1038.9,706.5 1039.9,707.1 1040.9,707.7 1041.9,708.3 1042.9,709.0 1043.9,709.6 1044.9,710.2 1045.9,710.9 1046.9,711.5 1047.9,712.1 1048.9,712.8 1049.9,713.4 1050.9,714.1 1051.9,714.7 1052.9,715.4 1053.9,716.0 1054.9,716.7 1055.9,717.4 1056.9,718.0 1057.9,718.7 1058.9,719.3 1059.9,720.0 1060.9,720.7 1061.9,721.3 1062.9,722.0 1063.9,722.7 1064.9,723.3 1065.9,724.0 1066.9,724.7 1067.9,725.4 1068.9,726.0 1069.9,726.7 1070.9,727.4 1071.9,728.1 1072.9,728.8 1073.9,729.5 1074.9,730.2 1075.9,730.9 1076.9,731.7 1077.9,732.4 1078.9,733.1 1079.9,733.9 1080.9,734.6 1081.9,735.4 1082.9,736.2 1083.9,737.0 1084.9,737.8 1085.9,738.6 1086.9,739.5 1087.9,740.3 1088.9,741.2 1089.9,742.1 1090.9,743.0 1091.9,743.9 1092.9,744.9 1093.9,745.8 1094.9,746.8 1095.9,747.8 1096.9,748.8 1097.9,749.9 1098.9,751.0 1099.9,752.1 1100.9,753.3 1102.0,754.6 1103.1,756.0 1104.2,757.4 1105.2,758.9 1106.3,760.4 1107.4,762.1 1108.4,763.9 1109.5,765.9 1110.6,767.9 1111.6,770.0 1112.7,772.2 1113.8,774.5 1114.9,776.8 1115.9,779.1 1117.0,781.5 1118.1,783.8 1119.1,786.2 1120.2,788.4 1121.3,790.7 1122.3,793.0 1123.4,795.3 1124.5,797.6 1125.6,800.0 1126.6,802.3 1127.7,804.8 1128.8,807.2 1129.8,809.7 1130.9,812.3 1132.0,814.9 1133.0,817.6 1134.1,820.4 1135.2,823.2 1136.3,826.1 1137.3,829.1 1138.4,832.1 1139.5,835.3 1140.5,838.6 1141.6,842.0 1142.7,845.6 1143.7,849.4 1144.8,853.3 1145.9,858.5 1147.0,864.3 1148.0,870.7 1149.1,877.7 1150.2,885.4 1151.2,894.1 1152.3,904.0 1153.4,915.5 1154.4,929.2 1155.5,946.2 1156.6,968.5 1157.7,1001.1 1158.7,1063.1 1159.8,1131.5 1160.9,1022.5 1161.9,981.3 1163.0,955.3 1164.1,936.3 1165.1,921.3 1166.2,908.9 1167.3,898.4 1168.4,889.2 1169.4,881.0 1170.5,873.7 1171.6,867.1 1172.6,861.0 1173.7,855.5 1174.8,850.4 1175.8,845.4 1176.9,840.6 1178.0,835.9 1179.1,831.4 1180.1,827.1 1181.2,823.1 1182.3,819.4 1183.3,816.0 1184.4,812.7 1185.5,809.6 1186.5,806.5 1187.6,803.6 1188.7,800.7 1189.8,798.0 1190.8,795.3 1191.9,792.8 1193.0,790.3 1194.0,787.9 1195.1,785.6 1196.2,783.4 1197.2,781.2 1198.3,779.1 1199.4,777.1 1200.5,775.2 1201.5,773.3 1202.6,771.4 1203.7,769.6 1204.7,767.8 1205.8,766.1 1206.9,764.3 1207.9,762.7 1209.0,761.0 1210.1,759.4 1211.2,757.8 1212.2,756.2 1213.3,754.7 1214.4,753.2 1215.4,751.8 1216.5,750.3 1217.6,748.9 1218.6,747.5 1219.6,746.3 1220.6,745.0 1221.6,743.8 1222.6,742.6 1223.6,741.4 1224.6,740.2 1225.6,739.1 1226.6,738.0 1227.6,736.9 1228.6,735.7 1229.6,734.7 1230.6,733.6 1231.6,732.5 1232.6,731.5 1233.6,730.5 1234.6,729.5 1235.6,728.5 1236.6,727.5 1237.6,726.5 1238.6,725.5 1239.6,724.6 1240.6,723.7 1241.6,722.7 1242.6,721.8 1243.6,720.9 1244.6,720.0 1245.6,719.2 1246.6,718.3 1247.6,717.4 1248.6,716.6 1249.6,715.7 1250.6,714.9 1251.6,714.1 1252.6,713.3 1253.6,712.5 1254.6,711.7 1255.6,710.9 1256.6,710.1 1257.6,709.3 1258.6,708.5 1259.6,707.7 1260.6,707.0 1261.6,706.2 1262.6,705.4 1263.6,704.7 1264.6,703.9 1265.6,703.2 1266.6,702.4 1267.6,701.7 1268.6,701.0 1269.6,700.2 1270.6,699.5 1271.6,698.8 1272.6,698.1 1273.6,697.4 1274.6,696.7 1275.6,696.0 1276.6,695.3 1277.6,694.6 1278.6,693.9 1279.6,693.3 1280.6,692.6 1281.6,691.9 1282.6,691.3 1283.6,690.6 1284.6,689.9 1285.6,689.3 1286.6,688.6 1287.6,688.0 1288.6,687.4 1289.6,686.7 1290.6,686.1 1291.6,685.5 1292.6,684.8 1293.6,684.2 1294.6,683.6 1295.6,683.0 1296.6,682.4 1297.6,681.8 1298.6,681.2 1299.6,680.5 1300.6,679.9 1301.6,679.4 1302.6,678.8 1303.6,678.2 1304.6,677.6 1305.6,677.0 1306.6,676.4 1307.6,675.8 1308.6,675.3 1309.6,674.7 1310.6,674.1 1311.6,673.5 1312.6,673.0 1313.6,672.4 1314.6,671.8 1315.6,671.3 1316.6,670.7 1317.6,670.2 1318.6,669.6 1319.6,669.1 1320.6,668.5 1321.6,667.9 1322.6,667.4 1323.6,666.9 1324.6,666.3 1325.6,665.8 1326.6,665.2 1327.6,664.7 1328.6,664.1 1329.6,663.6 1330.6,663.1 1331.6,662.5 1332.6,662.0 1333.6,661.5 1334.6,661.0 1335.6,660.4 1336.6,659.9 1337.6,659.4 1338.6,658.9 1339.6,658.4 1340.6,657.9 1341.6,657.4 1342.6,656.8 1343.6,656.3 1344.6,655.8 1345.6,655.3 1346.6,654.8 1347.6,654.3 1348.6,653.8 1349.6,653.4 1350.6,652.9 1351.6,652.4 1352.6,651.9 1353.6,651.4 1354.6,650.9 1355.6,650.5 1356.6,650.0 1357.6,649.5 1358.6,649.0 1359.6,648.6 1360.6,648.1 1361.6,647.7 1362.6,647.2 1363.6,646.7 1364.6,646.3 1365.6,645.8 1366.6,645.4 1367.6,644.9 1368.6,644.5 1369.6,644.1 1370.6,643.6 1371.6,643.2 1372.6,642.8 1373.6,642.3 1374.6,641.9 1375.6,641.5 1376.6,641.1 1377.6,640.7 1378.6,640.2 1379.6,639.8 1380.6,639.4 1381.6,639.0 1382.6,638.6 1383.6,638.2 1384.6,637.8 1385.6,637.4 1386.6,637.0 1387.6,636.6 1388.6,636.2 1389.6,635.8 1390.6,635.4 1391.6,635.1 1392.6,634.7 1393.6,634.3 1394.6,633.9 1395.6,633.5 1396.6,633.2 1397.6,632.8 1398.6,632.4 1399.6,632.0 1400.6,631.7 1401.6,631.3 1402.6,630.9 1403.6,630.6 1404.6,630.2 1405.6,629.9 1406.6,629.5 1407.6,629.1 1408.6,628.8 1409.6,628.4 1410.6,628.1 1411.6,627.7 1412.6,627.4 1413.6,627.0 1414.6,626.7 1415.6,626.3 1416.6,626.0 1417.6,625.7 1418.6,625.3 1419.6,625.0 1420.6,624.6 1421.6,624.3 1422.6,624.0 1423.6,623.6 1424.6,623.3 1425.6,622.9 1426.6,622.6 1427.6,622.3 1428.6,622.0 1429.6,621.6 1430.6,621.3 1431.6,621.0 1432.6,620.6 1433.6,620.3 1434.6,620.0 1435.6,619.6 1436.6,619.3 1437.6,619.0 1438.6,618.7 1439.6,618.3 1440.6,618.0 1441.6,617.7 1442.6,617.4 1443.6,617.1 1444.6,616.7 1445.6,616.4 1446.6,616.1 1447.6,615.8 1448.6,615.5 1449.6,615.1 1450.6,614.8 1451.6,614.5 1452.6,614.2 1453.6,613.9 1454.6,613.5 1455.6,613.2 1456.6,612.9 1457.6,612.6 1458.6,612.3 1459.6,612.0 1460.6,611.7 1461.6,611.4 1462.6,611.0 1463.6,610.7 1464.6,610.4 1465.6,610.1 1466.6,609.8 1467.6,609.5 1468.6,609.2 1469.6,608.9 1470.6,608.6 1471.6,608.3 1472.6,608.0 1473.6,607.7 1474.6,607.4 1475.6,607.1 1476.6,606.8 1477.6,606.5 1478.6,606.2 1479.6,605.9 1480.6,605.7 1481.6,605.4 1482.6,605.1 1483.6,604.8 1484.6,604.5 1485.6,604.2 1486.6,604.0 1487.6,603.7 1488.6,603.4 1489.6,603.1 1490.6,602.8 1491.6,602.6 1492.6,602.3 1493.6,602.0 1494.6,601.8 1495.6,601.5 1496.6,601.2 1497.6,601.0 1498.6,600.7 1499.6,600.5 1500.6,600.2 1501.6,599.9 1502.6,599.7 1503.6,599.4 1504.6,599.2 1505.6,598.9 1506.6,598.7 1507.6,598.5 1508.6,598.2 1509.6,598.0 1510.6,597.7 1511.6,597.5 1512.6,597.3 1513.6,597.0 1514.6,596.8 1515.6,596.6 1516.6,596.3 1517.6,596.1 1518.6,595.9 1519.6,595.7 1520.6,595.4 1521.6,595.2 1522.6,595.0 1523.6,594.8 1524.6,594.6 1525.6,594.3 1526.6,594.1 1527.6,593.9 1528.6,593.7 1529.6,593.5 1530.6,593.3 1531.6,593.1 1532.6,592.9 1533.6,592.6 1534.6,592.4 1535.6,592.2 1536.6,592.0 1537.6,591.8 1538.6,591.6 1539.6,591.4 1540.6,591.2 1541.6,591.0 1542.6,590.8 1543.6,590.5 1544.6,590.3 1545.6,590.1 1546.6,589.9 1547.6,589.7 1548.6,589.5 1549.6,589.3 1550.6,589.1 1551.6,588.9 1552.6,588.7 1553.6,588.5 1554.6,588.2 1555.6,588.0 1556.6,587.8 1557.6,587.6 1558.6,587.4 1559.6,587.2 1560.6,587.0 1561.6,586.8 1562.6,586.6 1563.6,586.3 1564.6,586.1 1565.6,585.9 1566.6,585.7 1567.6,585.5 1568.6,585.3 1569.6,585.1 1570.6,584.9 1571.6,584.7 1572.6,584.4 1573.6,584.2 1574.6,584.0 1575.6,583.8 1576.6,583.6 1577.6,583.4 1578.6,583.2 1579.6,583.0 1580.6,582.8 1581.6,582.6 1582.6,582.3 1583.6,582.1 1584.6,581.9 1585.6,581.7 1586.6,581.5 1587.6,581.3 1588.6,581.1 1589.6,580.9 1590.6,580.6 1591.6,580.4 1592.6,580.2 1593.6,580.0 1594.6,579.8 1595.6,579.6 1596.6,579.3 1597.6,579.1 1598.6,578.9 1599.6,578.7 1600.6,578.5 1601.6,578.2 1602.6,578.0 1603.6,577.8 1604.6,577.6 1605.6,577.3 1606.6,577.1 1607.6,576.9 1608.6,576.6 1609.6,576.4 1610.6,576.2 1611.6,575.9 1612.6,575.7 1613.6,575.5 1614.6,575.2 1615.6,575.0 1616.6,574.8 1617.6,574.5 1618.6,574.3 1619.6,574.1 1620.6,573.8 1621.6,573.6 1622.6,573.3 1623.6,573.1 1624.6,572.9 1625.6,572.6 1626.6,572.4 1627.6,572.1 1628.6,571.9 1629.6,571.6 1630.6,571.4 1631.6,571.1 1632.6,570.9 1633.6,570.6 1634.6,570.4 1635.6,570.1 1636.6,569.9 1637.6,569.6 1638.6,569.4 1639.6,569.1 1640.6,568.9 1641.6,568.6 1642.6,568.4 1643.6,568.1 1644.6,567.8 1645.6,567.6 1646.6,567.3 1647.6,567.1 1648.6,566.8 1649.6,566.5 1650.6,566.3 1651.6,566.0 1652.6,565.8 1653.6,565.5 1654.6,565.2 1655.6,565.0 1656.6,564.7 1657.6,564.4 1658.6,564.2 1659.6,563.9 1660.6,563.6 1661.6,563.4 1662.6,563.1 1663.6,562.8 1664.6,562.5 1665.6,562.3 1666.6,562.0 1667.6,561.7 1668.6,561.5 1669.6,561.2 1670.6,560.9 1671.6,560.6 1672.6,560.4 1673.6,560.1 1674.6,559.8 1675.6,559.5 1676.6,559.2 1677.6,559.0 1678.6,558.7 1679.6,558.4 1680.6,558.1 1681.6,557.8 1682.6,557.6 1683.6,557.3 1684.6,557.0 1685.6,556.7 1686.6,556.4 1687.6,556.1 1688.6,555.8 1689.6,555.5 1690.6,555.2 1691.6,554.9 1692.6,554.6 1693.6,554.3 1694.6,554.0 1695.6,553.7 1696.6,553.4 1697.6,553.1 1698.6,552.8 1699.6,552.5 1700.6,552.2 1701.6,551.9 1702.6,551.6 1703.6,551.3 1704.6,550.9 1705.6,550.6 1706.6,550.3 1707.6,550.0 1708.6,549.7 1709.6,549.3 1710.6,549.0 1711.6,548.7 1712.6,548.3 1713.6,548.0 1714.6,547.7 1715.6,547.3 1716.6,547.0 1717.6,546.7 1718.6,546.3 1719.6,546.0 1720.6,545.6 1721.6,545.3 1722.6,544.9 1723.6,544.6 1724.6,544.2 1725.6,543.9 1726.6,543.5 1727.6,543.2 1728.6,542.8 1729.6,542.4 1730.6,542.1 1731.6,541.7 1732.6,541.3 1733.6,540.9 1734.6,540.6 1735.6,540.2 1736.6,539.8 1737.6,539.4 1738.6,539.0 1739.6,538.6 1740.6,538.2 1741.6,537.8 1742.6,537.4 1743.6,536.9 1744.6,536.5 1745.6,536.1 1746.6,535.6 1747.6,535.2 1748.6,534.8 1749.6,534.3 1750.6,533.8 1751.6,533.4 1752.6,532.9 1753.6,532.4 1754.6,532.0 1755.6,531.5 1756.6,531.0 1757.6,530.5 1758.6,530.0 1759.6,529.5 1760.6,528.9 1761.6,528.4 1762.6,527.9 1763.6,527.4 1764.6,526.8 1765.6,526.3 1766.6,525.7 1767.6,525.2 1768.6,524.6 1769.6,524.0 1770.6,523.5 1771.6,522.9 1772.6,522.3 1773.6,521.7 1774.6,521.1 1775.6,520.5 1776.6,519.9 1777.6,519.3 1778.6,518.7 1779.6,518.1 1780.6,517.5 1781.6,516.9 1782.6,516.2 1783.6,515.6 1784.6,515.0 1785.6,514.4 1786.6,513.7 1787.6,513.1 1788.6,512.4 1789.6,511.8 1790.6,511.1 1791.6,510.5 1792.6,509.8 1793.6,509.2 1794.6,508.5 1795.6,507.9 1796.6,507.2 1797.6,506.5 1798.6,505.9 1799.6,505.2 1800.6,504.5 1801.6,503.8 1802.6,503.1 1803.6,502.4 1804.6,501.8 1805.6,501.1 1806.6,500.4 1807.6,499.7 1808.6,499.0 1809.6,498.3 1810.6,497.6 1811.6,496.9 1812.6,496.2 1813.6,495.4 1814.6,494.7 1815.6,494.0 1816.6,493.3 1817.6,492.6 1818.6,491.9 1819.6,491.1 1820.6,490.4 1821.6,489.7 1822.6,489.0 1823.6,488.2 1824.6,487.5 1825.6,486.8 1826.6,486.0 1827.6,485.3 1828.6,484.5 1829.6,483.8 1830.6,483.0 1831.6,482.3 1832.6,481.5 1833.6,480.8 1834.6,480.0 1835.6,479.2 1836.6,478.5 1837.6,477.7 1838.6,476.9 1839.6,476.1 1840.6,475.3 1841.6,474.5 1842.6,473.7 1843.6,472.9 1844.6,472.1 1845.6,471.3 1846.6,470.5 1847.6,469.7 1848.6,468.9 1849.6,468.1 1850.6,467.2 1851.6,466.4 1852.6,465.6 1853.6,464.8 1854.6,463.9 1855.6,463.1 1856.6,462.3 1857.6,461.4 1858.6,460.6 1859.6,459.7 1860.6,458.9 1861.6,458.1 1862.6,457.2 1863.6,456.4 1864.6,455.5 1865.6,454.7 1866.6,453.9 1867.6,453.0 1868.6,452.2 1869.6,451.4 1870.6,450.5 1871.6,449.7 1872.6,448.8 1873.6,448.0 1874.6,447.2 1875.6,446.3 1876.6,445.5 1877.6,444.7 1878.6,443.8 1879.6,443.0 1880.6,442.2 1881.6,441.3 1882.6,440.5 1883.6,439.7 1884.6,438.8 1885.6,438.0 1886.6,437.2 1887.6,436.3 1888.6,435.5 1889.6,434.7 1890.6,433.9 1891.6,433.0 1892.6,432.2 1893.6,431.4 1894.6,430.5 1895.6,429.7 1896.6,428.9 1897.6,428.1 1898.6,427.2 1899.6,426.4 1900.6,425.6 1901.6,424.8 1902.6,424.0 1903.6,423.1 1904.6,422.3 1905.6,421.5 1906.6,420.7 1907.6,419.9 1908.6,419.1 1909.6,418.2 1910.6,417.4 1911.6,416.6 1912.6,415.8 1913.6,415.0 1914.6,414.2 1915.6,413.4 1916.6,412.6 1917.6,411.7 1918.6,410.9 1919.6,410.1 1920.6,409.3 1921.6,408.5 1922.6,407.7 1923.6,406.9 1924.6,406.1 1925.6,405.3 1926.6,404.5 1927.6,403.7 1928.6,402.9 1929.6,402.1 1930.6,401.3 1931.6,400.5 1932.6,399.7 1933.6,398.9 1934.6,398.1 1935.6,397.3 1936.6,396.5 1937.6,395.7 1938.6,394.9 1939.6,394.1 1940.6,393.3 1941.6,392.5 1942.6,391.7 1943.6,390.9 1944.6,390.1 1945.6,389.3 1946.6,388.5 1947.6,387.7 1948.6,386.9 1949.6,386.1 1950.6,385.3 1951.6,384.6 1952.6,383.8 1953.6,383.0 1954.6,382.2 1955.6,381.4 1956.6,380.6 1957.6,379.8 1958.6,379.0 1959.6,378.2" fill="none" stroke="#ff0000" stroke-width="8.5" stroke-linejoin="round" marker-start="url(#m_red)" marker-mid="url(#m_red)" marker-end="url(#m_red)"/>
<polyline points="400.0,572.0 400.7,573.2 401.7,574.9 402.7,576.6 403.7,578.3 404.7,579.9 405.7,581.5 406.7,583.0 407.7,584.6 408.7,586.1 409.7,587.5 410.7,589.0 411.7,590.4 412.7,591.8 413.7,593.2 414.7,594.5 415.7,595.9 416.7,597.1 417.7,598.4 418.7,599.6 419.7,600.7 420.7,601.8 421.7,602.8 422.7,603.8 423.7,604.8 424.7,605.8 425.7,606.7 426.7,607.6 427.7,608.5 428.7,609.4 429.7,610.2 430.7,611.0 431.7,611.8 432.7,612.6 433.7,613.4 434.7,614.1 435.7,614.9 436.7,615.6 437.7,616.4 438.7,617.1 439.7,617.7 440.7,618.4 441.7,619.1 442.7,619.7 443.7,620.3 444.7,620.9 445.7,621.4 446.7,622.0 447.7,622.5 448.7,623.1 449.7,623.6 450.7,624.1 451.7,624.6 452.7,625.1 453.7,625.6 454.7,626.1 455.7,626.6 456.7,627.0 457.7,627.5 458.7,627.9 459.7,628.3 460.7,628.7 461.7,629.1 462.7,629.5 463.7,629.9 464.7,630.3 465.7,630.6 466.7,631.0 467.7,631.4 468.7,631.7 469.7,632.0 470.7,632.4 471.7,632.7 472.7,633.0 473.7,633.4 474.7,633.7 475.7,634.0 476.7,634.3 477.7,634.6 478.7,635.0 479.7,635.3 480.7,635.6 481.7,635.9 482.7,636.2 483.7,636.6 484.7,636.9 485.7,637.2 486.7,637.5 487.7,637.9 488.7,638.2 489.7,638.6 490.7,638.9 491.7,639.2 492.7,639.6 493.7,639.9 494.7,640.3 495.7,640.7 496.7,641.0 497.7,641.4 498.7,641.7 499.7,642.1 500.7,642.5 501.7,642.8 502.7,643.2 503.7,643.5 504.7,643.9 505.7,644.2 506.7,644.6 507.7,644.9 508.7,645.3 509.7,645.6 510.7,645.9 511.7,646.2 512.7,646.5 513.7,646.8 514.7,647.2 515.7,647.4 516.7,647.7 517.7,648.0 518.7,648.3 519.7,648.5 520.7,648.8 521.7,649.1 522.7,649.3 523.7,649.5 524.7,649.8 525.7,650.0 526.7,650.2 527.7,650.4 528.7,650.7 529.7,650.9 530.7,651.1 531.7,651.3 532.7,651.5 533.7,651.6 534.7,651.8 535.7,652.0 536.7,652.2 537.7,652.4 538.7,652.5 539.7,652.7 540.7,652.9 541.7,653.0 542.7,653.2 543.7,653.3 544.7,653.5 545.7,653.6 546.7,653.8 547.7,653.9 548.7,654.1 549.7,654.2 550.7,654.4 551.7,654.5 552.7,654.7 553.7,654.8 554.7,654.9 555.7,655.1 556.7,655.2 557.7,655.4 558.7,655.5 559.7,655.6 560.7,655.8 561.7,655.9 562.7,656.0 563.7,656.2 564.7,656.3 565.7,656.4 566.7,656.6 567.7,656.7 568.7,656.9 569.7,657.0 570.7,657.1 571.7,657.3 572.7,657.4 573.7,657.5 574.7,657.7 575.7,657.8 576.7,657.9 577.7,658.1 578.7,658.2 579.7,658.3 580.7,658.5 581.7,658.6 582.7,658.8 583.7,658.9 584.7,659.0 585.7,659.2 586.7,659.3 587.7,659.4 588.7,659.6 589.7,659.7 590.7,659.8 591.7,660.0 592.7,660.1 593.7,660.2 594.7,660.4 595.7,660.5 596.7,660.6 597.7,660.8 598.7,660.9 599.7,661.0 600.7,661.2 601.7,661.3 602.7,661.4 603.7,661.5 604.7,661.7 605.7,661.8 606.7,661.9 607.7,662.0 608.7,662.2 609.7,662.3 610.7,662.4 611.7,662.5 612.7,662.6 613.7,662.8 614.7,662.9 615.7,663.0 616.7,663.1 617.7,663.2 618.7,663.3 619.7,663.5 620.7,663.6 621.7,663.7 622.7,663.8 623.7,663.9 624.7,664.0 625.7,664.1 626.7,664.2 627.7,664.3 628.7,664.4 629.7,664.5 630.7,664.6 631.7,664.7 632.7,664.8 633.7,664.9 634.7,665.0 635.7,665.1 636.7,665.2 637.7,665.3 638.7,665.4 639.7,665.5 640.7,665.6 641.7,665.7 642.7,665.8 643.7,665.9 644.7,666.0 645.7,666.1 646.7,666.2 647.7,666.3 648.7,666.4 649.7,666.5 650.7,666.6 651.7,666.6 652.7,666.7 653.7,666.8 654.7,666.9 655.7,667.0 656.7,667.1 657.7,667.2 658.7,667.3 659.7,667.4 660.7,667.5 661.7,667.5 662.7,667.6 663.7,667.7 664.7,667.8 665.7,667.9 666.7,668.0 667.7,668.1 668.7,668.2 669.7,668.3 670.7,668.3 671.7,668.4 672.7,668.5 673.7,668.6 674.7,668.7 675.7,668.8 676.7,668.9 677.7,669.0 678.7,669.0 679.7,669.1 680.7,669.2 681.7,669.3 682.7,669.4 683.7,669.5 684.7,669.6 685.7,669.6 686.7,669.7 687.7,669.8 688.7,669.9 689.7,670.0 690.7,670.1 691.7,670.2 692.7,670.2 693.7,670.3 694.7,670.4 695.7,670.5 696.7,670.6 697.7,670.7 698.7,670.7 699.7,670.8 700.7,670.9 701.7,671.0 702.7,671.1 703.7,671.2 704.7,671.3 705.7,671.3 706.7,671.4 707.7,671.5 708.7,671.6 709.7,671.7 710.7,671.8 711.7,671.8 712.7,671.9 713.7,672.0 714.7,672.1 715.7,672.2 716.7,672.3 717.7,672.3 718.7,672.4 719.7,672.5 720.7,672.6 721.7,672.7 722.7,672.8 723.7,672.8 724.7,672.9 725.7,673.0 726.7,673.1 727.7,673.2 728.7,673.3 729.7,673.3 730.7,673.4 731.7,673.5 732.7,673.6 733.7,673.7 734.7,673.8 735.7,673.8 736.7,673.9 737.7,674.0 738.7,674.1 739.7,674.2 740.7,674.3 741.7,674.4 742.7,674.4 743.7,674.5 744.7,674.6 745.7,674.7 746.7,674.8 747.7,674.9 748.7,675.0 749.7,675.0 750.7,675.1 751.7,675.2 752.7,675.3 753.7,675.4 754.7,675.5 755.7,675.6 756.7,675.6 757.7,675.7 758.7,675.8 759.7,675.9 760.7,676.0 761.7,676.1 762.7,676.2 763.7,676.3 764.7,676.4 765.7,676.5 766.7,676.5 767.7,676.6 768.7,676.7 769.7,676.8 770.7,676.9 771.7,677.0 772.7,677.1 773.7,677.2 774.7,677.3 775.7,677.4 776.7,677.5 777.7,677.6 778.7,677.7 779.7,677.8 780.7,677.9 781.7,678.0 782.7,678.1 783.7,678.2 784.7,678.3 785.7,678.4 786.7,678.5 787.7,678.6 788.7,678.7 789.7,678.8 790.7,678.9 791.7,679.0 792.7,679.1 793.7,679.2 794.7,679.3 795.7,679.4 796.7,679.5 797.7,679.6 798.7,679.7 799.7,679.8 800.7,679.9 801.7,680.0 802.7,680.1 803.7,680.2 804.7,680.3 805.7,680.4 806.7,680.5 807.7,680.6 808.7,680.7 809.7,680.8 810.7,680.9 811.7,681.0 812.7,681.1 813.7,681.2 814.7,681.3 815.7,681.4 816.7,681.5 817.7,681.6 818.7,681.7 819.7,681.8 820.7,681.9 821.7,682.0 822.7,682.1 823.7,682.2 824.7,682.3 825.7,682.4 826.7,682.5 827.7,682.6 828.7,682.7 829.7,682.8 830.7,682.9 831.7,682.9 832.7,683.0 833.7,683.1 834.7,683.2 835.7,683.3 836.7,683.4 837.7,683.5 838.7,683.6 839.7,683.7 840.7,683.8 841.7,683.9 842.7,684.0 843.7,684.1 844.7,684.1 845.7,684.2 846.7,684.3 847.7,684.4 848.7,684.5 849.7,684.6 850.7,684.7 851.7,684.8 852.7,684.8 853.7,684.9 854.7,685.0 855.7,685.1 856.7,685.2 857.7,685.2 858.7,685.3 859.7,685.4 860.7,685.5 861.7,685.6 862.7,685.6 863.7,685.7 864.7,685.8 865.7,685.9 866.7,685.9 867.7,686.0 868.7,686.1 869.7,686.1 870.7,686.2 871.7,686.3 872.7,686.3 873.7,686.4 874.7,686.5 875.7,686.5 876.7,686.6 877.7,686.7 878.7,686.7 879.7,686.8 880.7,686.9 881.7,686.9 882.7,687.0 883.7,687.0 884.7,687.1 885.7,687.1 886.7,687.2 887.7,687.2 888.7,687.3 889.7,687.3 890.7,687.4 891.7,687.4 892.7,687.5 893.7,687.5 894.7,687.6 895.7,687.6 896.7,687.7 897.7,687.7 898.7,687.8 899.7,687.8 900.7,687.8 901.7,687.9 902.7,687.9 903.7,688.0 904.7,688.0 905.7,688.1 906.7,688.1 907.7,688.1 908.7,688.2 909.7,688.2 910.7,688.2 911.7,688.3 912.7,688.3 913.7,688.4 914.7,688.4 915.7,688.4 916.7,688.5 917.7,688.5 918.7,688.6 919.7,688.6 920.7,688.6 921.7,688.7 922.7,688.7 923.7,688.8 924.7,688.8 925.7,688.8 926.7,688.9 927.7,688.9 928.7,689.0 929.7,689.0 930.7,689.0 931.7,689.1 932.7,689.1 933.7,689.2 934.7,689.2 935.7,689.3 936.7,689.3 937.7,689.4 938.7,689.4 939.7,689.4 940.7,689.5 941.7,689.5 942.7,689.6 943.7,689.7 944.7,689.7 945.7,689.8 946.7,689.8 947.7,689.9 948.7,689.9 949.7,690.0 950.7,690.1 951.7,690.1 952.7,690.2 953.7,690.2 954.7,690.3 955.7,690.4 956.7,690.4 957.7,690.5 958.7,690.6 959.7,690.7 960.7,690.7 961.7,690.8 962.7,690.9 963.7,691.0 964.7,691.0 965.7,691.1 966.7,691.2 967.7,691.3 968.7,691.4 969.7,691.5 970.7,691.5 971.7,691.6 972.7,691.7 973.7,691.8 974.7,691.9 975.7,692.0 976.7,692.1 977.7,692.2 978.7,692.3 979.7,692.4 980.7,692.5 981.7,692.6 982.7,692.7 983.7,692.8 984.7,692.9 985.7,693.0 986.7,693.1 987.7,693.2 988.7,693.3 989.7,693.4 990.7,693.5 991.7,693.6 992.7,693.8 993.7,693.9 994.7,694.0 995.7,694.1 996.7,694.2 997.7,694.3 998.7,694.4 999.7,694.6 1000.7,694.7 1001.7,694.8 1002.7,694.9 1003.7,695.0 1004.7,695.1 1005.7,695.3 1006.7,695.4 1007.7,695.5 1008.7,695.6 1009.7,695.7 1010.7,695.9 1011.7,696.0 1012.7,696.1 1013.7,696.2 1014.7,696.4 1015.7,696.5 1016.7,696.6 1017.7,696.7 1018.7,696.8 1019.7,697.0 1020.7,697.1 1021.7,697.2 1022.7,697.3 1023.7,697.5 1024.7,697.6 1025.7,697.7 1026.7,697.8 1027.7,698.0 1028.7,698.1 1029.7,698.2 1030.7,698.3 1031.7,698.5 1032.7,698.6 1033.7,698.7 1034.7,698.8 1035.7,699.0 1036.7,699.1 1037.7,699.2 1038.7,699.3 1039.7,699.5 1040.7,699.6 1041.7,699.7 1042.7,699.8 1043.7,700.0 1044.7,700.1 1045.7,700.2 1046.7,700.4 1047.7,700.5 1048.7,700.6 1049.7,700.8 1050.7,700.9 1051.7,701.0 1052.7,701.2 1053.7,701.3 1054.7,701.4 1055.7,701.6 1056.7,701.7 1057.7,701.8 1058.7,702.0 1059.7,702.1 1060.7,702.3 1061.7,702.4 1062.7,702.5 1063.7,702.7 1064.7,702.8 1065.7,703.0 1066.7,703.1 1067.7,703.3 1068.7,703.4 1069.7,703.5 1070.7,703.7 1071.7,703.8 1072.7,704.0 1073.7,704.1 1074.7,704.3 1075.7,704.4 1076.7,704.6 1077.7,704.7 1078.7,704.9 1079.7,705.0 1080.7,705.2 1081.7,705.3 1082.7,705.5 1083.7,705.6 1084.7,705.8 1085.7,705.9 1086.7,706.1 1087.7,706.3 1088.7,706.4 1089.7,706.6 1090.7,706.7 1091.7,706.9 1092.7,707.0 1093.7,707.2 1094.7,707.3 1095.7,707.5 1096.7,707.6 1097.7,707.8 1098.7,707.9 1099.7,708.1 1100.7,708.2 1101.7,708.4 1102.7,708.5 1103.7,708.7 1104.7,708.8 1105.7,709.0 1106.7,709.1 1107.7,709.3 1108.7,709.4 1109.7,709.5 1110.7,709.7 1111.7,709.8 1112.7,710.0 1113.7,710.1 1114.7,710.3 1115.7,710.4 1116.7,710.5 1117.7,710.7 1118.7,710.8 1119.7,710.9 1120.7,711.1 1121.7,711.2 1122.7,711.4 1123.7,711.5 1124.7,711.6 1125.7,711.8 1126.7,711.9 1127.7,712.0 1128.7,712.1 1129.7,712.3 1130.7,712.4 1131.7,712.5 1132.7,712.7 1133.7,712.8 1134.7,712.9 1135.7,713.0 1136.7,713.2 1137.7,713.3 1138.7,713.4 1139.7,713.6 1140.7,713.7 1141.7,713.8 1142.7,713.9 1143.7,714.1 1144.7,714.2 1145.7,714.3 1146.7,714.4 1147.7,714.6 1148.7,714.7 1149.7,714.8 1150.7,714.9 1151.7,715.0 1152.7,715.2 1153.7,715.3 1154.7,715.4 1155.7,715.5 1156.7,715.7 1157.7,715.8 1158.7,715.9 1159.7,716.0 1160.7,716.2 1161.7,716.3 1162.7,716.4 1163.7,716.5 1164.7,716.6 1165.7,716.8 1166.7,716.9 1167.7,717.0 1168.7,717.1 1169.7,717.3 1170.7,717.4 1171.7,717.5 1172.7,717.6 1173.7,717.8 1174.7,717.9 1175.7,718.0 1176.7,718.1 1177.7,718.3 1178.7,718.4 1179.7,718.5 1180.7,718.6 1181.7,718.8 1182.7,718.9 1183.7,719.0 1184.7,719.2 1185.7,719.3 1186.7,719.4 1187.7,719.5 1188.7,719.7 1189.7,719.8 1190.7,719.9 1191.7,720.1 1192.7,720.2 1193.7,720.3 1194.7,720.5 1195.7,720.6 1196.7,720.7 1197.7,720.9 1198.7,721.0 1199.7,721.1 1200.7,721.3 1201.7,721.4 1202.7,721.5 1203.7,721.7 1204.7,721.8 1205.7,721.9 1206.7,722.1 1207.7,722.2 1208.7,722.3 1209.7,722.5 1210.7,722.6 1211.7,722.7 1212.7,722.9 1213.7,723.0 1214.7,723.2 1215.7,723.3 1216.7,723.4 1217.7,723.6 1218.7,723.7 1219.7,723.8 1220.7,724.0 1221.7,724.1 1222.7,724.3 1223.7,724.4 1224.7,724.5 1225.7,724.7 1226.7,724.8 1227.7,725.0 1228.7,725.1 1229.7,725.3 1230.7,725.4 1231.7,725.6 1232.7,725.7 1233.7,725.9 1234.7,726.0 1235.7,726.2 1236.7,726.3 1237.7,726.5 1238.7,726.7 1239.7,726.8 1240.7,727.0 1241.7,727.2 1242.7,727.3 1243.7,727.5 1244.7,727.7 1245.7,727.9 1246.7,728.0 1247.7,728.2 1248.7,728.4 1249.7,728.6 1250.7,728.8 1251.7,729.0 1252.7,729.2 1253.7,729.4 1254.7,729.6 1255.7,729.8 1256.7,730.0 1257.7,730.2 1258.7,730.4 1259.7,730.7 1260.7,730.9 1261.7,731.1 1262.7,731.4 1263.7,731.6 1264.7,731.9 1265.7,732.1 1266.7,732.4 1267.7,732.6 1268.7,732.9 1269.7,733.2 1270.7,733.5 1271.7,733.7 1272.7,734.0 1273.7,734.3 1274.7,734.6 1275.7,734.9 1276.7,735.2 1277.7,735.5 1278.7,735.9 1279.7,736.2 1280.7,736.5 1281.7,736.8 1282.7,737.2 1283.7,737.5 1284.7,737.8 1285.7,738.2 1286.7,738.5 1287.7,738.9 1288.7,739.2 1289.7,739.6 1290.7,740.0 1291.7,740.3 1292.7,740.7 1293.7,741.0 1294.7,741.4 1295.7,741.8 1296.7,742.1 1297.7,742.5 1298.7,742.9 1299.7,743.2 1300.7,743.6 1301.7,744.0 1302.7,744.3 1303.7,744.7 1304.7,745.1 1305.7,745.4 1306.7,745.8 1307.7,746.2 1308.7,746.5 1309.7,746.9 1310.7,747.2 1311.7,747.6 1312.7,748.0 1313.7,748.3 1314.7,748.7 1315.7,749.1 1316.7,749.4 1317.7,749.8 1318.7,750.1 1319.7,750.5 1320.7,750.9 1321.7,751.2 1322.7,751.6 1323.7,752.0 1324.7,752.3 1325.7,752.7 1326.7,753.0 1327.7,753.4 1328.7,753.8 1329.7,754.1 1330.7,754.5 1331.7,754.9 1332.7,755.2 1333.7,755.6 1334.7,756.0 1335.7,756.3 1336.7,756.7 1337.7,757.1 1338.7,757.4 1339.7,757.8 1340.7,758.2 1341.7,758.5 1342.7,758.9 1343.7,759.3 1344.7,759.7 1345.7,760.0 1346.7,760.4 1347.7,760.8 1348.7,761.2 1349.7,761.5 1350.7,761.9 1351.7,762.3 1352.7,762.7 1353.7,763.1 1354.7,763.4 1355.7,763.8 1356.7,764.2 1357.7,764.6 1358.7,765.0 1359.7,765.4 1360.7,765.8 1361.7,766.1 1362.7,766.5 1363.7,766.9 1364.7,767.3 1365.7,767.7 1366.7,768.1 1367.7,768.5 1368.7,768.9 1369.7,769.3 1370.7,769.7 1371.7,770.1 1372.7,770.5 1373.7,770.9 1374.7,771.3 1375.7,771.7 1376.7,772.1 1377.7,772.5 1378.7,772.9 1379.7,773.3 1380.7,773.8 1381.7,774.2 1382.7,774.6 1383.7,775.0 1384.7,775.4 1385.7,775.9 1386.7,776.3 1387.7,776.7 1388.7,777.1 1389.7,777.6 1390.7,778.0 1391.7,778.4 1392.7,778.9 1393.7,779.3 1394.7,779.8 1395.7,780.2 1396.7,780.7 1397.7,781.1 1398.7,781.6 1399.7,782.0 1400.7,782.5 1401.7,783.0 1402.7,783.4 1403.7,783.9 1404.7,784.4 1405.7,784.8 1406.7,785.3 1407.7,785.8 1408.7,786.3 1409.7,786.8 1410.7,787.3 1411.7,787.8 1412.7,788.3 1413.7,788.8 1414.7,789.3 1415.7,789.8 1416.7,790.3 1417.7,790.8 1418.7,791.3 1419.7,791.8 1420.7,792.3 1421.7,792.8 1422.7,793.3 1423.7,793.8 1424.7,794.3 1425.7,794.8 1426.7,795.3 1427.7,795.8 1428.7,796.3 1429.7,796.7 1430.7,797.2 1431.7,797.7 1432.7,798.1 1433.7,798.6 1434.7,799.0 1435.7,799.5 1436.7,799.9 1437.7,800.3 1438.7,800.7 1439.7,801.1 1440.7,801.5 1441.7,801.9 1442.7,802.3 1443.7,802.8 1444.7,803.2 1445.7,803.6 1446.7,804.1 1447.7,804.5 1448.7,805.0 1449.7,805.5 1450.7,806.0 1452.6,807.1 1454.5,808.3 1456.5,809.6 1458.4,811.1 1460.3,813.0 1462.3,815.1 1464.2,817.6 1466.1,820.3 1468.0,823.3 1470.0,826.5 1471.9,829.9 1473.8,833.5 1475.8,837.4 1477.7,841.4 1479.6,845.9 1481.6,851.4 1483.5,857.6 1485.4,864.0 1487.3,870.6 1489.3,877.5 1491.2,884.7 1493.1,892.3 1495.1,900.2 1497.0,909.8 1498.9,921.2 1500.9,934.9 1502.8,951.8 1504.7,974.0 1506.6,1006.4 1508.6,1067.6 1510.5,1141.4 1512.4,1029.3 1514.4,987.6 1516.3,961.5 1518.2,942.4 1520.2,927.4 1522.1,915.0 1524.0,904.4 1525.9,892.1 1527.9,879.5 1529.8,867.9 1531.7,857.7 1533.7,849.1 1535.6,842.4 1537.5,836.5 1539.5,831.2 1541.4,826.4 1543.3,822.1 1545.2,818.2 1547.2,814.6 1549.1,811.3 1551.0,808.1 1553.0,805.0 1554.9,802.0 1556.8,799.0 1558.8,796.2 1560.7,793.4 1562.6,790.6 1564.5,787.9 1566.5,785.3 1568.4,782.8 1570.3,780.3 1571.3,779.1 1572.3,777.8 1573.3,776.6 1574.3,775.4 1575.3,774.2 1576.3,773.0 1577.3,771.8 1578.3,770.6 1579.3,769.5 1580.3,768.4 1581.3,767.2 1582.3,766.1 1583.3,765.0 1584.3,763.9 1585.3,762.8 1586.3,761.7 1587.3,760.7 1588.3,759.6 1589.3,758.6 1590.3,757.5 1591.3,756.5 1592.3,755.5 1593.3,754.4 1594.3,753.4 1595.3,752.4 1596.3,751.4 1597.3,750.4 1598.3,749.4 1599.3,748.4 1600.3,747.5 1601.3,746.5 1602.3,745.5 1603.3,744.5 1604.3,743.6 1605.3,742.6 1606.3,741.7 1607.3,740.7 1608.3,739.7 1609.3,738.8 1610.3,737.8 1611.3,736.9 1612.3,735.9 1613.3,735.0 1614.3,734.0 1615.3,733.1 1616.3,732.1 1617.3,731.2 1618.3,730.2 1619.3,729.3 1620.3,728.3 1621.3,727.4 1622.3,726.4 1623.3,725.4 1624.3,724.5 1625.3,723.5 1626.3,722.5 1627.3,721.6 1628.3,720.6 1629.3,719.6 1630.3,718.6 1631.3,717.7 1632.3,716.7 1633.3,715.7 1634.3,714.7 1635.3,713.7 1636.3,712.7 1637.3,711.7 1638.3,710.7 1639.3,709.7 1640.3,708.7 1641.3,707.8 1642.3,706.8 1643.3,705.8 1644.3,704.8 1645.3,703.8 1646.3,702.8 1647.3,701.9 1648.3,700.9 1649.3,699.9 1650.3,698.9 1651.3,698.0 1652.3,697.0 1653.3,696.0 1654.3,695.1 1655.3,694.1 1656.3,693.2 1657.3,692.2 1658.3,691.3 1659.3,690.3 1660.3,689.4 1661.3,688.4 1662.3,687.5 1663.3,686.6 1664.3,685.6 1665.3,684.7 1666.3,683.7 1667.3,682.8 1668.3,681.9 1669.3,680.9 1670.3,680.0 1671.3,679.1 1672.3,678.1 1673.3,677.2 1674.3,676.3 1675.3,675.3 1676.3,674.4 1677.3,673.5 1678.3,672.5 1679.3,671.6 1680.3,670.7 1681.3,669.7 1682.3,668.8 1683.3,667.9 1684.3,667.0 1685.3,666.0 1686.3,665.1 1687.3,664.2 1688.3,663.2 1689.3,662.3 1690.3,661.4 1691.3,660.5 1692.3,659.5 1693.3,658.6 1694.3,657.7 1695.3,656.8 1696.3,655.9 1697.3,654.9 1698.3,654.0 1699.3,653.1 1700.3,652.2 1701.3,651.3 1702.3,650.4 1703.3,649.4 1704.3,648.5 1705.3,647.6 1706.3,646.7 1707.3,645.8 1708.3,644.9 1709.3,644.0 1710.3,643.1 1711.3,642.2 1712.3,641.3 1713.3,640.3 1714.3,639.4 1715.3,638.5 1716.3,637.6 1717.3,636.7 1718.3,635.8 1719.3,634.9 1720.3,634.0 1721.3,633.1 1722.3,632.2 1723.3,631.4 1724.3,630.5 1725.3,629.6 1726.3,628.7 1727.3,627.8 1728.3,626.9 1729.3,626.0 1730.3,625.1 1731.3,624.2 1732.3,623.4 1733.3,622.5 1734.3,621.6 1735.3,620.7 1736.3,619.8 1737.3,618.9 1738.3,618.1 1739.3,617.2 1740.3,616.3 1741.3,615.4 1742.3,614.5 1743.3,613.7 1744.3,612.8 1745.3,611.9 1746.3,611.0 1747.3,610.1 1748.3,609.2 1749.3,608.4 1750.3,607.5 1751.3,606.6 1752.3,605.7 1753.3,604.8 1754.3,603.9 1755.3,603.0 1756.3,602.1 1757.3,601.2 1758.3,600.3 1759.3,599.4 1760.3,598.5 1761.3,597.6 1762.3,596.7 1763.3,595.8 1764.3,594.8 1765.3,593.9 1766.3,593.0 1767.3,592.1 1768.3,591.1 1769.3,590.2 1770.3,589.3 1771.3,588.3 1772.3,587.4 1773.3,586.4 1774.3,585.5 1775.3,584.6 1776.3,583.6 1777.3,582.6 1778.3,581.7 1779.3,580.7 1780.3,579.8 1781.3,578.8 1782.3,577.9 1783.3,576.9 1784.3,575.9 1785.3,575.0 1786.3,574.0 1787.3,573.0 1788.3,572.1 1789.3,571.1 1790.3,570.1 1791.3,569.2 1792.3,568.2 1793.3,567.2 1794.3,566.3 1795.3,565.3 1796.3,564.3 1797.3,563.4 1798.3,562.4 1799.3,561.5 1800.3,560.5 1801.3,559.5 1802.3,558.6 1803.3,557.6 1804.3,556.7 1805.3,555.7 1806.3,554.8 1807.3,553.9 1808.3,552.9 1809.3,552.0 1810.3,551.1 1811.3,550.2 1812.3,549.2 1813.3,548.3 1814.3,547.4 1815.3,546.5 1816.3,545.6 1817.3,544.7 1818.3,543.8 1819.3,542.9 1820.3,542.0 1821.3,541.1 1822.3,540.2 1823.3,539.3 1824.3,538.4 1825.3,537.6 1826.3,536.7 1827.3,535.8 1828.3,534.9 1829.3,534.0 1830.3,533.2 1831.3,532.3 1832.3,531.4 1833.3,530.5 1834.3,529.6 1835.3,528.7 1836.3,527.8 1837.3,526.9 1838.3,526.0 1839.3,525.1 1840.3,524.2 1841.3,523.3 1842.3,522.4 1843.3,521.5 1844.3,520.5 1845.3,519.6 1846.3,518.7 1847.3,517.7 1848.3,516.7 1849.3,515.8 1850.3,514.8 1851.3,513.8 1852.3,512.8 1853.3,511.8 1854.3,510.8 1855.3,509.8 1856.3,508.7 1857.3,507.7 1858.3,506.6 1859.3,505.6 1860.3,504.5 1861.3,503.4 1862.3,502.3 1863.3,501.2 1864.3,500.1 1865.3,499.0 1866.3,497.8 1867.3,496.7 1868.3,495.5 1869.3,494.4 1870.3,493.2 1871.3,492.1 1872.3,490.9 1873.3,489.7 1874.3,488.5 1875.3,487.3 1876.3,486.2 1877.3,485.0 1878.3,483.8 1879.3,482.6 1880.3,481.4 1881.3,480.2 1882.3,479.0 1883.3,477.8 1884.3,476.6 1885.3,475.4 1886.3,474.2 1887.3,473.0 1888.3,471.8 1889.3,470.7 1890.3,469.5 1891.3,468.3 1892.3,467.1 1893.3,466.0 1894.3,464.8 1895.3,463.7 1896.3,462.5 1897.3,461.4 1898.3,460.3 1899.3,459.1 1900.3,458.0 1901.3,456.9 1902.3,455.8 1903.3,454.7 1904.3,453.6 1905.3,452.5 1906.3,451.4 1907.3,450.3 1908.3,449.3 1909.3,448.2 1910.3,447.1 1911.3,446.0 1912.3,445.0 1913.3,443.9 1914.3,442.9 1915.3,441.8 1916.3,440.8 1917.3,439.7 1918.3,438.7 1919.3,437.6 1920.3,436.6 1921.3,435.6 1922.3,434.5 1923.3,433.5 1924.3,432.5 1925.3,431.5 1926.3,430.5 1927.3,429.4 1928.3,428.4 1929.3,427.4 1930.3,426.4 1931.3,425.4 1932.3,424.4 1933.3,423.4 1934.3,422.4 1935.3,421.4 1936.3,420.5 1937.3,419.5 1938.3,418.5 1939.3,417.5 1940.3,416.6 1941.3,415.6 1942.3,414.6 1943.3,413.7 1944.3,412.7 1945.3,411.7 1946.3,410.8 1947.3,409.8 1948.3,408.9 1949.3,407.9 1950.3,407.0 1951.3,406.1 1952.3,405.1 1953.3,404.2 1954.3,403.2 1955.3,402.3 1956.3,401.3 1957.3,400.4 1958.3,399.4 1959.3,398.5" fill="none" stroke="#ff80ff" stroke-width="8.5" stroke-linejoin="round" marker-start="url(#m_pink)" marker-mid="url(#m_pink)" marker-end="url(#m_pink)"/>
<polyline points="690.0,652.1 690.4,652.5 691.4,653.5 692.4,654.4 693.4,655.3 694.4,656.3 695.4,657.2 696.4,658.1 697.4,659.0 698.4,659.9 699.4,660.7 700.4,661.6 701.4,662.4 702.4,663.2 703.4,664.1 704.4,664.9 705.4,665.7 706.4,666.5 707.4,667.4 708.4,668.2 709.4,669.0 710.4,669.8 711.4,670.6 712.4,671.4 713.4,672.2 714.4,673.0 715.4,673.7 716.4,674.5 717.4,675.3 718.4,676.0 719.4,676.7 720.4,677.5 721.4,678.2 722.4,678.9 723.4,679.6 724.4,680.3 725.4,680.9 726.4,681.6 727.4,682.2 728.4,682.9 729.4,683.5 730.4,684.1 731.4,684.7 732.4,685.3 733.4,685.9 734.4,686.5 735.4,687.1 736.4,687.7 737.4,688.2 738.4,688.8 739.4,689.4 740.4,689.9 741.4,690.5 742.4,691.0 743.4,691.5 744.4,692.1 745.4,692.6 746.4,693.1 747.4,693.6 748.4,694.1 749.4,694.5 750.4,695.0 751.4,695.5 752.4,695.9 753.4,696.4 754.4,696.8 755.4,697.2 756.4,697.6 757.4,698.0 758.4,698.4 759.4,698.8 760.4,699.2 761.4,699.6 762.4,700.0 763.4,700.3 764.4,700.7 765.4,701.1 766.4,701.4 767.4,701.8 768.4,702.1 769.4,702.5 770.4,702.8 771.4,703.1 772.4,703.4 773.4,703.8 774.4,704.1 775.4,704.4 776.4,704.7 777.4,705.0 778.4,705.3 779.4,705.6 780.4,705.9 781.4,706.2 782.4,706.5 783.4,706.8 784.4,707.1 785.4,707.4 786.4,707.7 787.4,708.0 788.4,708.2 789.4,708.5 790.4,708.8 791.4,709.0 792.4,709.3 793.4,709.6 794.4,709.8 795.4,710.1 796.4,710.4 797.4,710.6 798.4,710.9 799.4,711.1 800.4,711.4 801.4,711.6 802.4,711.8 803.4,712.1 804.4,712.3 805.4,712.6 806.4,712.8 807.4,713.0 808.4,713.3 809.4,713.5 810.4,713.7 811.4,713.9 812.4,714.2 813.4,714.4 814.4,714.6 815.4,714.8 816.4,715.0 817.4,715.2 818.4,715.5 819.4,715.7 820.4,715.9 821.4,716.1 822.4,716.3 823.4,716.5 824.4,716.7 825.4,716.9 826.4,717.1 827.4,717.3 828.4,717.5 829.4,717.7 830.4,717.9 831.4,718.1 832.4,718.2 833.4,718.4 834.4,718.6 835.4,718.8 836.4,719.0 837.4,719.2 838.4,719.3 839.4,719.5 840.4,719.7 841.4,719.9 842.4,720.0 843.4,720.2 844.4,720.4 845.4,720.6 846.4,720.7 847.4,720.9 848.4,721.1 849.4,721.2 850.4,721.4 851.4,721.6 852.4,721.7 853.4,721.9 854.4,722.0 855.4,722.2 856.4,722.3 857.4,722.5 858.4,722.7 859.4,722.8 860.4,723.0 861.4,723.1 862.4,723.3 863.4,723.4 864.4,723.6 865.4,723.7 866.4,723.9 867.4,724.0 868.4,724.2 869.4,724.3 870.4,724.4 871.4,724.6 872.4,724.7 873.4,724.9 874.4,725.0 875.4,725.2 876.4,725.3 877.4,725.4 878.4,725.6 879.4,725.7 880.4,725.9 881.4,726.0 882.4,726.1 883.4,726.3 884.4,726.4 885.4,726.6 886.4,726.7 887.4,726.8 888.4,727.0 889.4,727.1 890.4,727.2 891.4,727.4 892.4,727.5 893.4,727.6 894.4,727.8 895.4,727.9 896.4,728.0 897.4,728.2 898.4,728.3 899.4,728.4 900.4,728.6 901.4,728.7 902.4,728.8 903.4,729.0 904.4,729.1 905.4,729.2 906.4,729.3 907.4,729.5 908.4,729.6 909.4,729.7 910.4,729.8 911.4,730.0 912.4,730.1 913.4,730.2 914.4,730.3 915.4,730.4 916.4,730.6 917.4,730.7 918.4,730.8 919.4,730.9 920.4,731.0 921.4,731.2 922.4,731.3 923.4,731.4 924.4,731.5 925.4,731.6 926.4,731.8 927.4,731.9 928.4,732.0 929.4,732.1 930.4,732.2 931.4,732.3 932.4,732.5 933.4,732.6 934.4,732.7 935.4,732.8 936.4,732.9 937.4,733.0 938.4,733.1 939.4,733.3 940.4,733.4 941.4,733.5 942.4,733.6 943.4,733.7 944.4,733.8 945.4,734.0 946.4,734.1 947.4,734.2 948.4,734.3 949.4,734.4 950.4,734.5 951.4,734.6 952.4,734.8 953.4,734.9 954.4,735.0 955.4,735.1 956.4,735.2 957.4,735.3 958.4,735.4 959.4,735.6 960.4,735.7 961.4,735.8 962.4,735.9 963.4,736.0 964.4,736.1 965.4,736.3 966.4,736.4 967.4,736.5 968.4,736.6 969.4,736.7 970.4,736.8 971.4,737.0 972.4,737.1 973.4,737.2 974.4,737.3 975.4,737.4 976.4,737.5 977.4,737.7 978.4,737.8 979.4,737.9 980.4,738.0 981.4,738.1 982.4,738.3 983.4,738.4 984.4,738.5 985.4,738.6 986.4,738.7 987.4,738.9 988.4,739.0 989.4,739.1 990.4,739.2 991.4,739.4 992.4,739.5 993.4,739.6 994.4,739.7 995.4,739.9 996.4,740.0 997.4,740.1 998.4,740.2 999.4,740.4 1000.4,740.5 1001.4,740.6 1002.4,740.8 1003.4,740.9 1004.4,741.0 1005.4,741.2 1006.4,741.3 1007.4,741.4 1008.4,741.6 1009.4,741.7 1010.4,741.8 1011.4,742.0 1012.4,742.1 1013.4,742.3 1014.4,742.4 1015.4,742.6 1016.4,742.7 1017.4,742.9 1018.4,743.0 1019.4,743.2 1020.4,743.3 1021.4,743.5 1022.4,743.7 1023.4,743.8 1024.4,744.0 1025.4,744.1 1026.4,744.3 1027.4,744.5 1028.4,744.6 1029.4,744.8 1030.4,745.0 1031.4,745.2 1032.4,745.3 1033.4,745.5 1034.4,745.7 1035.4,745.9 1036.4,746.0 1037.4,746.2 1038.4,746.4 1039.4,746.5 1040.4,746.7 1041.4,746.8 1042.4,747.0 1043.4,747.1 1044.4,747.3 1045.4,747.4 1046.4,747.6 1047.4,747.7 1048.4,747.8 1049.4,747.9 1050.4,748.0 1051.4,748.1 1052.4,748.2 1053.4,748.3 1054.4,748.4 1055.4,748.5 1056.4,748.5 1057.4,748.6 1058.4,748.6 1059.4,748.7 1060.4,748.7 1061.4,748.8 1062.4,748.8 1063.4,748.8 1064.4,748.8 1065.4,748.9 1066.4,748.9 1067.4,748.9 1068.4,748.9 1069.4,748.9 1070.4,748.8 1071.4,748.8 1072.4,748.8 1073.4,748.8 1074.4,748.8 1075.4,748.7 1076.4,748.7 1077.4,748.7 1078.4,748.7 1079.4,748.6 1080.4,748.6 1081.4,748.6 1082.4,748.5 1083.4,748.5 1084.4,748.4 1085.4,748.4 1086.4,748.4 1087.4,748.3 1088.4,748.3 1089.4,748.3 1090.4,748.2 1091.4,748.2 1092.4,748.1 1093.4,748.1 1094.4,748.1 1095.4,748.0 1096.4,748.0 1097.4,748.0 1098.4,748.0 1099.4,747.9 1100.4,747.9 1101.4,747.9 1102.4,747.9 1103.4,747.8 1104.4,747.8 1105.4,747.8 1106.4,747.8 1107.4,747.8 1108.4,747.8 1109.4,747.8 1110.4,747.8 1111.4,747.8 1112.4,747.8 1113.4,747.8 1114.4,747.8 1115.4,747.8 1116.4,747.8 1117.4,747.8 1118.4,747.8 1119.4,747.8 1120.4,747.8 1121.4,747.9 1122.4,747.9 1123.4,747.9 1124.4,747.9 1125.4,747.9 1126.4,748.0 1127.4,748.0 1128.4,748.0 1129.4,748.0 1130.4,748.1 1131.4,748.1 1132.4,748.1 1133.4,748.2 1134.4,748.2 1135.4,748.2 1136.4,748.3 1137.4,748.3 1138.4,748.3 1139.4,748.4 1140.4,748.4 1141.4,748.5 1142.4,748.5 1143.4,748.6 1144.4,748.6 1145.4,748.6 1146.4,748.7 1147.4,748.7 1148.4,748.8 1149.4,748.8 1150.4,748.9 1151.4,748.9 1152.4,748.9 1153.4,749.0 1154.4,749.0 1155.4,749.1 1156.4,749.1 1157.4,749.2 1158.4,749.2 1159.4,749.3 1160.4,749.3 1161.4,749.4 1162.4,749.4 1163.4,749.4 1164.4,749.5 1165.4,749.5 1166.4,749.6 1167.4,749.6 1168.4,749.7 1169.4,749.7 1170.4,749.8 1171.4,749.8 1172.4,749.9 1173.4,749.9 1174.4,750.0 1175.4,750.0 1176.4,750.0 1177.4,750.1 1178.4,750.1 1179.4,750.2 1180.4,750.2 1181.4,750.3 1182.4,750.3 1183.4,750.4 1184.4,750.5 1185.4,750.5 1186.4,750.6 1187.4,750.6 1188.4,750.7 1189.4,750.7 1190.4,750.8 1191.4,750.8 1192.4,750.9 1193.4,751.0 1194.4,751.0 1195.4,751.1 1196.4,751.2 1197.4,751.2 1198.4,751.3 1199.4,751.3 1200.4,751.4 1201.4,751.5 1202.4,751.5 1203.4,751.6 1204.4,751.7 1205.4,751.7 1206.4,751.8 1207.4,751.9 1208.4,751.9 1209.4,752.0 1210.4,752.1 1211.4,752.2 1212.4,752.2 1213.4,752.3 1214.4,752.4 1215.4,752.5 1216.4,752.5 1217.4,752.6 1218.4,752.7 1219.4,752.8 1220.4,752.8 1221.4,752.9 1222.4,753.0 1223.4,753.1 1224.4,753.1 1225.4,753.2 1226.4,753.3 1227.4,753.4 1228.4,753.5 1229.4,753.6 1230.4,753.6 1231.4,753.7 1232.4,753.8 1233.4,753.9 1234.4,754.0 1235.4,754.1 1236.4,754.2 1237.4,754.2 1238.4,754.3 1239.4,754.4 1240.4,754.5 1241.4,754.6 1242.4,754.7 1243.4,754.8 1244.4,754.9 1245.4,755.0 1246.4,755.1 1247.4,755.2 1248.4,755.3 1249.4,755.3 1250.4,755.4 1251.4,755.5 1252.4,755.6 1253.4,755.7 1254.4,755.8 1255.4,755.9 1256.4,756.0 1257.4,756.2 1258.4,756.3 1259.4,756.4 1260.4,756.5 1261.4,756.6 1262.4,756.7 1263.4,756.8 1264.4,756.9 1265.4,757.0 1266.4,757.1 1267.4,757.2 1268.4,757.4 1269.4,757.5 1270.4,757.6 1271.4,757.7 1272.4,757.8 1273.4,757.9 1274.4,758.1 1275.4,758.2 1276.4,758.3 1277.4,758.4 1278.4,758.6 1279.4,758.7 1280.4,758.8 1281.4,758.9 1282.4,759.1 1283.4,759.2 1284.4,759.3 1285.4,759.5 1286.4,759.6 1287.4,759.7 1288.4,759.9 1289.4,760.0 1290.4,760.1 1291.4,760.3 1292.4,760.4 1293.4,760.6 1294.4,760.7 1295.4,760.8 1296.4,761.0 1297.4,761.1 1298.4,761.3 1299.4,761.4 1300.4,761.6 1301.4,761.7 1302.4,761.8 1303.4,762.0 1304.4,762.1 1305.4,762.3 1306.4,762.4 1307.4,762.6 1308.4,762.7 1309.4,762.8 1310.4,763.0 1311.4,763.1 1312.4,763.3 1313.4,763.4 1314.4,763.6 1315.4,763.7 1316.4,763.8 1317.4,764.0 1318.4,764.1 1319.4,764.3 1320.4,764.4 1321.4,764.6 1322.4,764.7 1323.4,764.8 1324.4,765.0 1325.4,765.1 1326.4,765.3 1327.4,765.4 1328.4,765.5 1329.4,765.7 1330.4,765.8 1331.4,765.9 1332.4,766.1 1333.4,766.2 1334.4,766.4 1335.4,766.5 1336.4,766.6 1337.4,766.8 1338.4,766.9 1339.4,767.0 1340.4,767.2 1341.4,767.3 1342.4,767.5 1343.4,767.6 1344.4,767.7 1345.4,767.9 1346.4,768.0 1347.4,768.2 1348.4,768.3 1349.4,768.4 1350.4,768.6 1351.4,768.7 1352.4,768.9 1353.4,769.0 1354.4,769.2 1355.4,769.3 1356.4,769.4 1357.4,769.6 1358.4,769.7 1359.4,769.9 1360.4,770.0 1361.4,770.2 1362.4,770.3 1363.4,770.5 1364.4,770.7 1365.4,770.8 1366.4,771.0 1367.4,771.1 1368.4,771.3 1369.4,771.5 1370.4,771.6 1371.4,771.8 1372.4,772.0 1373.4,772.2 1374.4,772.3 1375.4,772.5 1376.4,772.7 1377.4,772.9 1378.4,773.1 1379.4,773.2 1380.4,773.4 1381.4,773.6 1382.4,773.8 1383.4,774.0 1384.4,774.2 1385.4,774.4 1386.4,774.6 1387.4,774.8 1388.4,775.0 1389.4,775.2 1390.4,775.5 1391.4,775.7 1392.4,775.9 1393.4,776.1 1394.4,776.3 1395.4,776.5 1396.4,776.8 1397.4,777.0 1398.4,777.2 1399.4,777.4 1400.4,777.7 1401.4,777.9 1402.4,778.1 1403.4,778.3 1404.4,778.6 1405.4,778.8 1406.4,779.0 1407.4,779.2 1408.4,779.5 1409.4,779.7 1410.4,779.9 1411.4,780.1 1412.4,780.4 1413.4,780.6 1414.4,780.8 1415.4,781.0 1416.4,781.3 1417.4,781.5 1418.4,781.7 1419.4,781.9 1420.4,782.1 1421.4,782.3 1422.4,782.5 1423.4,782.8 1424.4,783.0 1425.4,783.2 1426.4,783.4 1427.4,783.6 1428.4,783.8 1429.4,784.0 1430.4,784.2 1431.4,784.4 1432.4,784.6 1433.4,784.8 1434.4,785.0 1435.4,785.2 1436.4,785.4 1437.4,785.5 1438.4,785.7 1439.4,785.9 1440.4,786.1 1441.4,786.3 1442.4,786.5 1443.4,786.7 1444.4,786.9 1445.4,787.0 1446.4,787.2 1447.4,787.4 1448.4,787.6 1449.4,787.8 1450.4,788.0 1451.4,788.2 1452.4,788.3 1453.4,788.5 1454.4,788.7 1455.4,788.9 1456.4,789.1 1457.4,789.3 1458.4,789.5 1459.4,789.7 1460.4,789.9 1461.4,790.1 1462.4,790.3 1463.4,790.5 1464.4,790.7 1465.4,790.9 1466.4,791.1 1467.4,791.3 1468.4,791.5 1469.4,791.7 1470.4,792.0 1471.4,792.2 1472.4,792.4 1473.4,792.6 1474.4,792.8 1475.4,793.1 1476.4,793.3 1477.4,793.5 1478.4,793.8 1479.4,794.0 1480.4,794.2 1481.4,794.5 1482.4,794.7 1483.4,794.9 1484.4,795.2 1485.4,795.4 1486.4,795.7 1487.4,795.9 1488.4,796.2 1489.4,796.4 1490.4,796.7 1491.4,796.9 1492.4,797.2 1493.4,797.4 1494.4,797.7 1495.4,797.9 1496.4,798.2 1497.4,798.4 1498.4,798.7 1499.4,798.9 1500.4,799.2 1501.4,799.4 1502.4,799.7 1503.4,800.0 1504.4,800.2 1505.4,800.5 1506.4,800.7 1507.4,801.0 1508.4,801.2 1509.4,801.5 1510.4,801.7 1511.4,802.0 1512.4,802.3 1513.4,802.5 1514.4,802.8 1515.4,803.0 1516.4,803.3 1517.4,803.5 1518.4,803.8 1519.4,804.0 1520.4,804.3 1521.4,804.5 1522.4,804.8 1523.4,805.1 1524.4,805.3 1525.4,805.6 1526.4,805.8 1527.4,806.1 1528.4,806.3 1529.4,806.6 1530.4,806.9 1531.4,807.1 1532.4,807.4 1533.4,807.7 1534.4,807.9 1535.4,808.2 1536.4,808.5 1537.4,808.8 1538.4,809.0 1539.4,809.3 1540.4,809.6 1541.4,809.9 1542.4,810.2 1543.4,810.5 1544.4,810.8 1545.4,811.1 1546.4,811.4 1547.4,811.7 1548.4,812.0 1549.4,812.3 1550.4,812.6 1551.4,813.0 1552.4,813.3 1553.4,813.6 1554.4,814.0 1555.4,814.3 1556.4,814.6 1557.4,815.0 1558.4,815.4 1559.4,815.7 1560.4,816.1 1561.4,816.5 1562.4,816.9 1563.4,817.2 1564.4,817.6 1565.4,818.0 1566.4,818.5 1567.4,818.9 1568.4,819.3 1569.4,819.7 1570.4,820.2 1571.4,820.6 1572.4,821.0 1573.4,821.5 1574.4,822.0 1575.4,822.4 1576.4,822.9 1577.4,823.4 1578.4,823.9 1579.4,824.4 1580.4,824.9 1581.4,825.4 1582.4,825.9 1583.4,826.4 1584.4,826.9 1585.4,827.4 1586.4,827.9 1587.4,828.5 1588.4,829.0 1589.4,829.5 1590.4,830.1 1591.4,830.6 1592.4,831.2 1593.4,831.7 1594.4,832.3 1595.4,832.8 1596.4,833.4 1597.4,834.0 1598.4,834.5 1599.4,835.1 1600.4,835.7 1601.4,836.2 1602.4,836.8 1603.4,837.4 1604.4,838.0 1605.4,838.6 1606.4,839.1 1607.4,839.7 1608.4,840.3 1609.4,840.9 1610.4,841.5 1611.4,842.1 1612.4,842.6 1613.4,843.2 1614.4,843.8 1615.4,844.4 1616.4,845.0 1617.4,845.6 1618.4,846.2 1619.4,846.8 1620.4,847.3 1621.4,847.9 1622.4,848.5 1623.4,849.1 1624.4,849.7 1625.4,850.3 1626.4,850.9 1627.4,851.5 1628.4,852.1 1629.4,852.7 1630.4,853.3 1631.4,853.9 1632.4,854.5 1633.4,855.1 1634.4,855.7 1635.4,856.3 1636.4,856.9 1637.4,857.6 1638.4,858.2 1639.4,858.8 1640.4,859.4 1641.4,860.0 1642.4,860.7 1643.4,861.3 1644.4,861.9 1645.4,862.6 1646.4,863.2 1647.4,863.8 1648.4,864.5 1649.4,865.1 1650.4,865.8 1651.4,866.5 1652.4,867.1 1653.4,867.8 1654.4,868.4 1655.4,869.1 1656.4,869.8 1657.4,870.5 1658.4,871.2 1659.4,871.9 1660.4,872.5 1661.4,873.2 1662.4,873.9 1663.4,874.7 1664.4,875.4 1665.4,876.1 1666.4,876.8 1667.4,877.5 1668.4,878.3 1669.4,879.0 1670.4,879.8 1671.4,880.5 1672.4,881.3 1673.4,882.0 1674.4,882.8 1675.4,883.6 1676.4,884.4 1677.4,885.2 1678.4,886.0 1679.4,886.8 1680.4,887.6 1681.4,888.4 1682.4,889.2 1683.4,890.0 1684.4,890.9 1685.4,891.7 1686.4,892.6 1687.4,893.4 1688.4,894.3 1689.4,895.2 1690.4,896.0 1691.4,896.9 1692.4,897.8 1693.4,898.7 1694.4,899.6 1695.4,900.6 1696.4,901.5 1697.4,902.4 1698.4,903.4 1699.4,904.3 1700.4,905.3 1701.4,906.3 1702.4,907.2 1703.4,908.2 1704.4,909.2 1705.4,910.2 1706.4,911.2 1707.4,912.2 1708.4,913.3 1709.4,914.3 1710.4,915.3 1711.4,916.4 1712.4,917.5 1713.4,918.5 1714.4,919.6 1715.4,920.7 1716.4,921.8 1717.4,922.9 1718.4,924.0 1719.4,925.1 1720.4,926.2 1721.4,927.3 1722.4,928.5 1723.4,929.6 1724.4,930.8 1725.4,932.0 1726.4,933.1 1727.4,934.3 1728.4,935.5 1729.4,936.7 1730.4,937.9 1731.4,939.1 1732.4,940.4 1733.4,941.7 1734.4,943.0 1735.4,944.4 1736.3,945.7 1737.1,947.0 1738.0,948.3 1738.9,949.8 1739.7,951.3 1740.6,952.9 1741.4,954.6 1742.3,956.4 1743.2,958.2 1744.0,960.1 1744.9,962.2 1745.7,964.2 1746.6,966.4 1747.5,968.5 1748.3,970.8 1749.2,973.0 1750.0,975.3 1750.9,977.7 1751.8,980.0 1752.6,982.4 1753.5,984.8 1754.3,987.2 1755.2,989.6 1756.1,992.0 1756.9,994.4 1757.8,996.8 1758.6,999.1 1759.5,1001.4 1760.4,1003.7 1761.2,1006.0 1762.1,1008.2 1762.9,1010.4 1763.8,1012.5 1764.7,1014.7 1765.5,1016.8 1766.4,1019.0 1767.2,1021.2 1768.1,1023.3 1769.0,1025.5 1769.8,1027.7 1770.7,1029.8 1771.5,1035.0 1772.4,1040.8 1773.3,1047.1 1774.1,1054.1 1775.0,1061.8 1775.8,1070.5 1776.7,1080.4 1777.6,1091.8 1778.4,1105.5 1779.3,1122.3 1780.1,1144.5 1781.0,1176.8 1781.9,1237.5 1782.7,1314.0 1783.6,1200.3 1784.4,1158.5 1785.3,1132.3 1786.2,1113.2 1787.0,1098.2 1787.9,1085.7 1788.7,1075.2 1789.6,1065.9 1790.5,1057.8 1791.3,1050.5 1792.2,1043.8 1793.0,1037.8 1793.9,1032.2 1794.8,1029.0 1795.6,1027.2 1796.5,1025.4 1797.3,1023.6 1798.2,1021.8 1799.1,1019.9 1799.9,1018.1 1800.8,1016.2 1801.6,1014.3 1802.5,1012.5 1803.4,1010.5 1804.2,1008.6 1805.1,1006.6 1805.9,1004.6 1806.8,1002.5 1807.7,1000.3 1808.5,998.2 1809.4,996.0 1810.2,993.8 1811.1,991.6 1812.0,989.4 1812.8,987.2 1813.7,985.1 1814.5,982.9 1815.4,980.8 1816.3,978.7 1817.1,976.6 1818.0,974.6 1818.8,972.6 1819.7,970.7 1820.6,968.9 1821.4,967.1 1822.3,965.5 1823.1,963.8 1824.0,962.2 1824.9,960.6 1825.7,959.1 1826.6,957.5 1827.4,956.0 1828.3,954.6 1829.2,953.1 1830.0,951.7 1831.0,950.1 1832.0,948.5 1833.0,946.9 1834.0,945.4 1835.0,943.9 1836.0,942.5 1837.0,941.1 1838.0,939.7 1839.0,938.3 1840.0,937.0 1841.0,935.7 1842.0,934.4 1843.0,933.1 1844.0,931.9 1845.0,930.7 1846.0,929.5 1847.0,928.3 1848.0,927.2 1849.0,926.0 1850.0,924.9 1851.0,923.8 1852.0,922.7 1853.0,921.6 1854.0,920.5 1855.0,919.4 1856.0,918.4 1857.0,917.3 1858.0,916.3 1859.0,915.3 1860.0,914.3 1861.0,913.3 1862.0,912.3 1863.0,911.3 1864.0,910.3 1865.0,909.4 1866.0,908.4 1867.0,907.5 1868.0,906.5 1869.0,905.6 1870.0,904.7 1871.0,903.7 1872.0,902.8 1873.0,901.9 1874.0,901.0 1875.0,900.2 1876.0,899.3 1877.0,898.4 1878.0,897.5 1879.0,896.7 1880.0,895.8 1881.0,894.9 1882.0,894.1 1883.0,893.2 1884.0,892.4 1885.0,891.5 1886.0,890.7 1887.0,889.9 1888.0,889.0 1889.0,888.2 1890.0,887.4 1891.0,886.6 1892.0,885.8 1893.0,885.0 1894.0,884.1 1895.0,883.3 1896.0,882.5 1897.0,881.7 1898.0,880.9 1899.0,880.2 1900.0,879.4 1901.0,878.6 1902.0,877.8 1903.0,877.0 1904.0,876.3 1905.0,875.5 1906.0,874.7 1907.0,874.0 1908.0,873.2 1909.0,872.5 1910.0,871.7 1911.0,871.0 1912.0,870.2 1913.0,869.5 1914.0,868.8 1915.0,868.1 1916.0,867.3 1917.0,866.6 1918.0,865.9 1919.0,865.2 1920.0,864.5 1921.0,863.8 1922.0,863.1 1923.0,862.4 1924.0,861.7 1925.0,861.0 1926.0,860.3 1927.0,859.6 1928.0,858.9 1929.0,858.2 1930.0,857.6 1931.0,856.9 1932.0,856.2 1933.0,855.5 1934.0,854.9 1935.0,854.2 1936.0,853.5 1937.0,852.9 1938.0,852.2 1939.0,851.5 1940.0,850.9 1941.0,850.2 1942.0,849.6 1943.0,848.9 1944.0,848.3 1945.0,847.6 1946.0,847.0 1947.0,846.3 1948.0,845.7 1949.0,845.1 1950.0,844.4 1951.0,843.8 1952.0,843.1 1953.0,842.5 1954.0,841.9 1955.0,841.2 1956.0,840.6 1957.0,839.9 1958.0,839.3 1959.0,838.7 1960.0,838.0 1961.0,837.4 1962.0,836.8 1963.0,836.1 1964.0,835.5 1965.0,834.8 1966.0,834.2 1967.0,833.6 1968.0,832.9 1969.0,832.3 1970.0,831.6 1971.0,831.0 1972.0,830.4 1973.0,829.7 1974.0,829.1 1975.0,828.4 1976.0,827.8 1977.0,827.2 1978.0,826.5 1979.0,825.9 1980.0,825.2 1981.0,824.6 1982.0,824.0 1983.0,823.3 1984.0,822.7 1985.0,822.0 1986.0,821.4 1987.0,820.8 1988.0,820.1 1989.0,819.5 1990.0,818.8 1991.0,818.2 1992.0,817.6 1993.0,816.9 1994.0,816.3 1995.0,815.6 1996.0,815.0 1997.0,814.4 1998.0,813.7 1999.0,813.1 2000.0,812.4 2001.0,811.8 2002.0,811.2 2003.0,810.5 2004.0,809.9 2005.0,809.2 2006.0,808.6 2007.0,807.9 2008.0,807.3 2009.0,806.7 2010.0,806.0 2011.0,805.4 2012.0,804.7 2013.0,804.1 2014.0,803.5 2015.0,802.8 2016.0,802.2 2017.0,801.6 2018.0,800.9 2019.0,800.3 2020.0,799.6 2021.0,799.0 2022.0,798.4 2023.0,797.7 2024.0,797.1 2025.0,796.5 2026.0,795.8 2027.0,795.2 2028.0,794.6 2029.0,794.0 2030.0,793.3 2031.0,792.7 2032.0,792.1 2033.0,791.5 2034.0,790.8 2035.0,790.2 2036.0,789.6 2037.0,789.0 2038.0,788.4 2039.0,787.7 2040.0,787.1 2041.0,786.5 2042.0,785.9 2043.0,785.3 2044.0,784.7 2045.0,784.1 2046.0,783.5 2047.0,782.9 2048.0,782.2 2049.0,781.6 2050.0,781.0 2051.0,780.4 2052.0,779.8 2053.0,779.2 2054.0,778.6 2055.0,778.0 2056.0,777.4 2057.0,776.8 2058.0,776.3 2059.0,775.7 2060.0,775.1 2061.0,774.5 2062.0,773.9 2063.0,773.3 2064.0,772.7 2065.0,772.1 2066.0,771.5 2067.0,770.9 2068.0,770.4 2069.0,769.8 2070.0,769.2 2071.0,768.6 2072.0,768.0 2073.0,767.4 2074.0,766.8 2075.0,766.3 2076.0,765.7 2077.0,765.1 2078.0,764.5 2079.0,764.0 2080.0,763.4 2081.0,762.8 2082.0,762.2 2083.0,761.7 2084.0,761.1 2085.0,760.5 2086.0,759.9 2087.0,759.4 2088.0,758.8 2089.0,758.2 2090.0,757.6 2091.0,757.1 2092.0,756.5 2093.0,755.9 2094.0,755.4 2095.0,754.8 2096.0,754.2 2097.0,753.7 2098.0,753.1 2099.0,752.5" fill="none" stroke="#808000" stroke-width="8.5" stroke-linejoin="round" marker-start="url(#m_olive)" marker-mid="url(#m_olive)" marker-end="url(#m_olive)"/>
<polyline points="670.0,585.0 670.1,585.0 671.1,585.9 672.1,586.7 673.1,587.6 674.1,588.4 675.1,589.3 676.1,590.1 677.1,591.0 678.1,591.9 679.1,592.7 680.1,593.6 681.1,594.5 682.1,595.4 683.1,596.3 684.1,597.2 685.1,598.0 686.1,599.0 687.1,599.9 688.1,600.9 689.1,601.9 690.1,602.8 691.1,603.8 692.1,604.8 693.1,605.8 694.1,606.8 695.1,607.8 696.1,608.7 697.1,609.6 698.1,610.4 699.1,611.3 700.1,612.0 701.1,612.8 702.1,613.5 703.1,614.2 704.1,614.8 705.1,615.5 706.1,616.2 707.1,616.8 708.1,617.4 709.1,618.1 710.1,618.7 711.1,619.3 712.1,619.9 713.1,620.5 714.1,621.1 715.1,621.6 716.1,622.2 717.1,622.8 718.1,623.4 719.1,623.9 720.1,624.5 721.1,625.0 722.1,625.6 723.1,626.1 724.1,626.7 725.1,627.3 726.1,627.8 727.1,628.4 728.1,628.9 729.1,629.5 730.1,630.0 731.1,630.6 732.1,631.2 733.1,631.7 734.1,632.3 735.1,632.8 736.1,633.4 737.1,633.9 738.1,634.5 739.1,635.0 740.1,635.6 741.1,636.1 742.1,636.7 743.1,637.2 744.1,637.7 745.1,638.3 746.1,638.8 747.1,639.4 748.1,639.9 749.1,640.4 750.1,640.9 751.1,641.4 752.1,642.0 753.1,642.5 754.1,643.0 755.1,643.5 756.1,644.0 757.1,644.5 758.1,645.0 759.1,645.5 760.1,645.9 761.1,646.4 762.1,646.9 763.1,647.4 764.1,647.8 765.1,648.3 766.1,648.8 767.1,649.2 768.1,649.7 769.1,650.2 770.1,650.6 771.1,651.1 772.1,651.5 773.1,652.0 774.1,652.4 775.1,652.9 776.1,653.3 777.1,653.7 778.1,654.2 779.1,654.6 780.1,655.1 781.1,655.5 782.1,655.9 783.1,656.3 784.1,656.8 785.1,657.2 786.1,657.6 787.1,658.0 788.1,658.5 789.1,658.9 790.1,659.3 791.1,659.7 792.1,660.1 793.1,660.6 794.1,661.0 795.1,661.4 796.1,661.8 797.1,662.2 798.1,662.6 799.1,663.0 800.1,663.5 801.1,663.9 802.1,664.3 803.1,664.7 804.1,665.1 805.1,665.5 806.1,665.9 807.1,666.3 808.1,666.7 809.1,667.1 810.1,667.5 811.1,667.9 812.1,668.3 813.1,668.7 814.1,669.1 815.1,669.5 816.1,669.9 817.1,670.3 818.1,670.7 819.1,671.1 820.1,671.5 821.1,671.9 822.1,672.3 823.1,672.7 824.1,673.1 825.1,673.5 826.1,673.9 827.1,674.3 828.1,674.7 829.1,675.1 830.1,675.5 831.1,675.9 832.1,676.3 833.1,676.6 834.1,677.0 835.1,677.4 836.1,677.8 837.1,678.2 838.1,678.6 839.1,679.0 840.1,679.4 841.1,679.8 842.1,680.2 843.1,680.6 844.1,680.9 845.1,681.3 846.1,681.7 847.1,682.1 848.1,682.5 849.1,682.9 850.1,683.2 851.1,683.6 852.1,684.0 853.1,684.4 854.1,684.8 855.1,685.1 856.1,685.5 857.1,685.9 858.1,686.2 859.1,686.6 860.1,687.0 861.1,687.4 862.1,687.7 863.1,688.1 864.1,688.4 865.1,688.8 866.1,689.2 867.1,689.5 868.1,689.9 869.1,690.2 870.1,690.6 871.1,690.9 872.1,691.3 873.1,691.6 874.1,692.0 875.1,692.3 876.1,692.7 877.1,693.0 878.1,693.4 879.1,693.7 880.1,694.0 881.1,694.4 882.1,694.7 883.1,695.0 884.1,695.3 885.1,695.7 886.1,696.0 887.1,696.3 888.1,696.6 889.1,696.9 890.1,697.2 891.1,697.6 892.1,697.9 893.1,698.2 894.1,698.5 895.1,698.8 896.1,699.1 897.1,699.4 898.1,699.7 899.1,700.0 900.1,700.3 901.1,700.6 902.1,700.9 903.1,701.2 904.1,701.4 905.1,701.7 906.1,702.0 907.1,702.3 908.1,702.6 909.1,702.9 910.1,703.1 911.1,703.4 912.1,703.7 913.1,704.0 914.1,704.3 915.1,704.5 916.1,704.8 917.1,705.1 918.1,705.3 919.1,705.6 920.1,705.9 921.1,706.2 922.1,706.4 923.1,706.7 924.1,706.9 925.1,707.2 926.1,707.5 927.1,707.7 928.1,708.0 929.1,708.3 930.1,708.5 931.1,708.8 932.1,709.0 933.1,709.3 934.1,709.6 935.1,709.8 936.1,710.1 937.1,710.3 938.1,710.6 939.1,710.8 940.1,711.1 941.1,711.3 942.1,711.6 943.1,711.8 944.1,712.1 945.1,712.3 946.1,712.6 947.1,712.8 948.1,713.1 949.1,713.4 950.1,713.6 951.1,713.9 952.1,714.1 953.1,714.3 954.1,714.6 955.1,714.8 956.1,715.1 957.1,715.3 958.1,715.6 959.1,715.8 960.1,716.1 961.1,716.3 962.1,716.6 963.1,716.8 964.1,717.1 965.1,717.3 966.1,717.6 967.1,717.8 968.1,718.0 969.1,718.3 970.1,718.5 971.1,718.8 972.1,719.0 973.1,719.2 974.1,719.5 975.1,719.7 976.1,720.0 977.1,720.2 978.1,720.4 979.1,720.7 980.1,720.9 981.1,721.2 982.1,721.4 983.1,721.6 984.1,721.9 985.1,722.1 986.1,722.3 987.1,722.6 988.1,722.8 989.1,723.0 990.1,723.3 991.1,723.5 992.1,723.7 993.1,724.0 994.1,724.2 995.1,724.5 996.1,724.7 997.1,724.9 998.1,725.2 999.1,725.4 1000.1,725.6 1001.1,725.9 1002.1,726.1 1003.1,726.3 1004.1,726.6 1005.1,726.8 1006.1,727.0 1007.1,727.3 1008.1,727.5 1009.1,727.7 1010.1,728.0 1011.1,728.2 1012.1,728.4 1013.1,728.7 1014.1,728.9 1015.1,729.1 1016.1,729.4 1017.1,729.6 1018.1,729.9 1019.1,730.1 1020.1,730.3 1021.1,730.6 1022.1,730.8 1023.1,731.0 1024.1,731.3 1025.1,731.5 1026.1,731.7 1027.1,732.0 1028.1,732.2 1029.1,732.5 1030.1,732.7 1031.1,732.9 1032.1,733.2 1033.1,733.4 1034.1,733.6 1035.1,733.9 1036.1,734.1 1037.1,734.4 1038.1,734.6 1039.1,734.8 1040.1,735.1 1041.1,735.3 1042.1,735.5 1043.1,735.8 1044.1,736.0 1045.1,736.3 1046.1,736.5 1047.1,736.7 1048.1,737.0 1049.1,737.2 1050.1,737.4 1051.1,737.7 1052.1,737.9 1053.1,738.1 1054.1,738.4 1055.1,738.6 1056.1,738.9 1057.1,739.1 1058.1,739.3 1059.1,739.6 1060.1,739.8 1061.1,740.0 1062.1,740.3 1063.1,740.5 1064.1,740.7 1065.1,741.0 1066.1,741.2 1067.1,741.4 1068.1,741.7 1069.1,741.9 1070.1,742.1 1071.1,742.4 1072.1,742.6 1073.1,742.8 1074.1,743.1 1075.1,743.3 1076.1,743.5 1077.1,743.8 1078.1,744.0 1079.1,744.2 1080.1,744.5 1081.1,744.7 1082.1,744.9 1083.1,745.2 1084.1,745.4 1085.1,745.6 1086.1,745.8 1087.1,746.1 1088.1,746.3 1089.1,746.5 1090.1,746.8 1091.1,747.0 1092.1,747.2 1093.1,747.4 1094.1,747.7 1095.1,747.9 1096.1,748.1 1097.1,748.3 1098.1,748.6 1099.1,748.8 1100.1,749.0 1101.1,749.2 1102.1,749.4 1103.1,749.7 1104.1,749.9 1105.1,750.1 1106.1,750.3 1107.1,750.5 1108.1,750.8 1109.1,751.0 1110.1,751.2 1111.1,751.4 1112.1,751.6 1113.1,751.8 1114.1,752.0 1115.1,752.2 1116.1,752.4 1117.1,752.7 1118.1,752.9 1119.1,753.1 1120.1,753.3 1121.1,753.5 1122.1,753.7 1123.1,753.9 1124.1,754.1 1125.1,754.3 1126.1,754.5 1127.1,754.7 1128.1,754.9 1129.1,755.1 1130.1,755.3 1131.1,755.5 1132.1,755.7 1133.1,755.9 1134.1,756.1 1135.1,756.3 1136.1,756.5 1137.1,756.7 1138.1,756.9 1139.1,757.1 1140.1,757.3 1141.1,757.5 1142.1,757.7 1143.1,757.9 1144.1,758.1 1145.1,758.3 1146.1,758.4 1147.1,758.6 1148.1,758.8 1149.1,759.0 1150.1,759.2 1151.1,759.4 1152.1,759.6 1153.1,759.8 1154.1,760.0 1155.1,760.2 1156.1,760.4 1157.1,760.6 1158.1,760.8 1159.1,761.0 1160.1,761.2 1161.1,761.4 1162.1,761.6 1163.1,761.8 1164.1,762.0 1165.1,762.2 1166.1,762.4 1167.1,762.6 1168.1,762.8 1169.1,763.0 1170.1,763.2 1171.1,763.4 1172.1,763.6 1173.1,763.8 1174.1,764.0 1175.1,764.3 1176.1,764.5 1177.1,764.7 1178.1,764.9 1179.1,765.2 1180.1,765.4 1181.1,765.6 1182.1,765.8 1183.1,766.1 1184.1,766.3 1185.1,766.6 1186.1,766.8 1187.1,767.1 1188.1,767.3 1189.1,767.6 1190.1,767.8 1191.1,768.1 1192.1,768.3 1193.1,768.6 1194.1,768.9 1195.1,769.2 1196.1,769.4 1197.1,769.7 1198.1,770.0 1199.1,770.3 1200.1,770.6 1201.1,770.9 1202.1,771.2 1203.1,771.5 1204.1,771.8 1205.1,772.1 1206.1,772.4 1207.1,772.7 1208.1,773.0 1209.1,773.3 1210.1,773.6 1211.1,774.0 1212.1,774.3 1213.1,774.6 1214.1,775.0 1215.1,775.3 1216.1,775.6 1217.1,776.0 1218.1,776.3 1219.1,776.6 1220.1,777.0 1221.1,777.3 1222.1,777.7 1223.1,778.0 1224.1,778.3 1225.1,778.7 1226.1,779.0 1227.1,779.4 1228.1,779.7 1229.1,780.1 1230.1,780.4 1231.1,780.8 1232.1,781.1 1233.1,781.4 1234.1,781.8 1235.1,782.1 1236.1,782.5 1237.1,782.8 1238.1,783.1 1239.1,783.4 1240.1,783.8 1241.1,784.1 1242.1,784.4 1243.1,784.7 1244.1,785.1 1245.1,785.4 1246.1,785.7 1247.1,786.0 1248.1,786.3 1249.1,786.6 1250.1,786.9 1251.1,787.1 1252.1,787.4 1253.1,787.7 1254.1,788.0 1255.1,788.2 1256.1,788.5 1257.1,788.7 1258.1,789.0 1259.1,789.2 1260.1,789.4 1261.1,789.7 1262.1,789.9 1263.1,790.1 1264.1,790.3 1265.1,790.5 1266.1,790.7 1267.1,790.9 1268.1,791.1 1269.1,791.3 1270.1,791.5 1271.1,791.6 1272.1,791.8 1273.1,792.0 1274.1,792.1 1275.1,792.3 1276.1,792.4 1277.1,792.5 1278.1,792.7 1279.1,792.8 1280.1,792.9 1281.1,793.0 1282.1,793.1 1283.1,793.2 1284.1,793.3 1285.1,793.4 1286.1,793.5 1287.1,793.6 1288.1,793.7 1289.1,793.8 1290.1,793.9 1291.1,794.0 1292.1,794.0 1293.1,794.1 1294.1,794.2 1295.1,794.2 1296.1,794.3 1297.1,794.4 1298.1,794.4 1299.1,794.5 1300.1,794.6 1301.1,794.6 1302.1,794.7 1303.1,794.7 1304.1,794.8 1305.1,794.9 1306.1,794.9 1307.1,795.0 1308.1,795.0 1309.1,795.1 1310.1,795.2 1311.1,795.2 1312.1,795.3 1313.1,795.4 1314.1,795.4 1315.1,795.5 1316.1,795.6 1317.1,795.7 1318.1,795.8 1319.1,795.8 1320.1,795.9 1321.1,796.0 1322.1,796.1 1323.1,796.2 1324.1,796.3 1325.1,796.4 1326.1,796.5 1327.1,796.6 1328.1,796.7 1329.1,796.8 1330.1,797.0 1331.1,797.1 1332.1,797.2 1333.1,797.3 1334.1,797.5 1335.1,797.6 1336.1,797.7 1337.1,797.9 1338.1,798.0 1339.1,798.2 1340.1,798.3 1341.1,798.5 1342.1,798.6 1343.1,798.8 1344.1,799.0 1345.1,799.1 1346.1,799.3 1347.1,799.5 1348.1,799.6 1349.1,799.8 1350.1,800.0 1351.1,800.2 1352.1,800.4 1353.1,800.6 1354.1,800.8 1355.1,801.0 1356.1,801.2 1357.1,801.4 1358.1,801.6 1359.1,801.8 1360.1,802.0 1361.1,802.2 1362.1,802.4 1363.1,802.6 1364.1,802.9 1365.1,803.1 1366.1,803.3 1367.1,803.5 1368.1,803.8 1369.1,804.0 1370.1,804.2 1371.1,804.4 1372.1,804.7 1373.1,804.9 1374.1,805.1 1375.1,805.4 1376.1,805.6 1377.1,805.9 1378.1,806.1 1379.1,806.3 1380.1,806.6 1381.1,806.8 1382.1,807.1 1383.1,807.3 1384.1,807.6 1385.1,807.8 1386.1,808.1 1387.1,808.3 1388.1,808.6 1389.1,808.8 1390.1,809.1 1391.1,809.3 1392.1,809.6 1393.1,809.9 1394.1,810.1 1395.1,810.4 1396.1,810.6 1397.1,810.9 1398.1,811.2 1399.1,811.4 1400.1,811.7 1401.1,811.9 1402.1,812.2 1403.1,812.5 1404.1,812.7 1405.1,813.0 1406.1,813.3 1407.1,813.5 1408.1,813.8 1409.1,814.1 1410.1,814.3 1411.1,814.6 1412.1,814.9 1413.1,815.1 1414.1,815.4 1415.1,815.7 1416.1,815.9 1417.1,816.2 1418.1,816.5 1419.1,816.8 1420.1,817.0 1421.1,817.3 1422.1,817.6 1423.1,817.9 1424.1,818.2 1425.1,818.4 1426.1,818.7 1427.1,819.0 1428.1,819.3 1429.1,819.6 1430.1,819.9 1431.1,820.1 1432.1,820.4 1433.1,820.7 1434.1,821.0 1435.1,821.3 1436.1,821.6 1437.1,821.9 1438.1,822.2 1439.1,822.5 1440.1,822.8 1441.1,823.1 1442.1,823.4 1443.1,823.7 1444.1,824.1 1445.1,824.4 1446.1,824.7 1447.1,825.0 1448.1,825.3 1449.1,825.7 1450.1,826.0 1451.1,826.3 1452.1,826.6 1453.1,827.0 1454.1,827.3 1455.1,827.7 1456.1,828.0 1457.1,828.3 1458.1,828.7 1459.1,829.0 1460.1,829.4 1461.1,829.7 1462.1,830.1 1463.1,830.4 1464.1,830.8 1465.1,831.1 1466.1,831.5 1467.1,831.8 1468.1,832.2 1469.1,832.5 1470.1,832.9 1471.1,833.3 1472.1,833.6 1473.1,834.0 1474.1,834.4 1475.1,834.7 1476.1,835.1 1477.1,835.5 1478.1,835.9 1479.1,836.3 1480.1,836.7 1481.1,837.1 1482.1,837.5 1483.1,837.9 1484.1,838.3 1485.1,838.7 1486.1,839.1 1487.1,839.5 1488.1,840.0 1489.1,840.4 1490.1,840.9 1491.1,841.3 1492.1,841.8 1493.1,842.3 1494.1,842.7 1495.1,843.2 1496.1,843.7 1497.1,844.3 1498.1,844.8 1499.1,845.3 1500.1,845.9 1501.1,846.5 1502.1,847.1 1503.1,847.7 1504.1,848.3 1505.1,849.0 1506.1,849.6 1507.1,850.3 1508.1,851.0 1509.1,851.8 1510.1,852.5 1511.1,853.3 1512.1,854.1 1513.1,854.9 1514.1,855.8 1515.1,856.7 1516.1,857.6 1517.1,858.5 1518.1,859.4 1519.1,860.4 1520.1,861.3 1521.1,862.3 1522.1,863.3 1523.1,864.4 1524.1,865.4 1525.1,866.5 1526.1,867.5 1527.1,868.6 1528.1,869.8 1529.1,870.9 1530.1,872.0 1531.1,873.2 1532.1,874.3 1533.1,875.5 1534.1,876.7 1535.1,877.9 1536.1,879.1 1537.1,880.3 1538.1,881.5 1539.1,882.7 1540.1,883.9 1541.1,885.1 1542.1,886.3 1543.1,887.5 1544.1,888.7 1545.1,889.9 1546.1,891.1 1547.1,892.4 1548.1,893.6 1549.1,894.9 1550.1,896.1 1551.1,897.4 1552.1,898.7 1553.1,900.0 1554.1,901.3 1555.1,902.7 1556.1,904.0 1557.1,905.4 1558.1,906.8 1559.1,908.2 1560.1,909.6 1561.1,911.1 1562.1,912.6 1563.1,914.1 1564.1,915.6 1565.1,917.2 1566.1,918.7 1567.1,920.3 1568.1,921.9 1569.1,923.6 1570.1,925.2 1571.1,926.9 1572.1,928.6 1573.1,930.3 1574.1,932.0 1575.1,933.8 1576.1,935.6 1577.1,937.4 1577.5,938.2 1577.9,939.0 1578.4,939.8 1578.8,940.7 1579.2,941.5 1579.7,942.4 1580.1,943.3 1580.5,944.1 1581.0,945.0 1581.4,945.9 1581.8,946.8 1582.3,947.8 1582.7,948.7 1583.2,949.7 1583.6,950.6 1584.0,951.6 1584.5,952.6 1584.9,953.6 1585.3,954.7 1585.8,955.7 1586.2,956.8 1586.6,957.8 1587.1,958.9 1587.5,960.1 1588.0,961.2 1588.4,962.5 1588.8,963.8 1589.3,965.1 1589.7,966.6 1590.1,968.0 1590.6,969.5 1591.0,971.0 1591.4,972.5 1591.9,974.1 1592.3,975.6 1592.7,977.1 1593.2,978.6 1593.6,980.1 1594.1,981.6 1594.5,983.0 1594.9,984.4 1595.4,985.7 1595.8,987.1 1596.2,988.5 1596.7,989.9 1597.1,991.2 1597.5,992.6 1598.0,993.9 1598.4,995.2 1598.9,996.6 1599.3,997.9 1599.7,999.2 1600.2,1000.5 1600.6,1001.8 1601.0,1003.0 1601.5,1004.3 1601.9,1005.6 1602.3,1006.8 1602.8,1008.1 1603.2,1009.3 1603.6,1010.5 1604.1,1011.7 1604.5,1013.0 1605.0,1014.2 1605.4,1015.4 1605.8,1016.5 1606.3,1017.7 1606.7,1018.9 1607.1,1020.7 1607.6,1023.9 1608.0,1027.3 1608.4,1030.8 1608.9,1034.6 1609.3,1038.5 1609.8,1042.7 1610.2,1047.1 1610.6,1051.8 1611.1,1056.9 1611.5,1062.3 1611.9,1068.2 1612.4,1074.6 1612.8,1081.7 1613.2,1089.5 1613.7,1098.3 1614.1,1108.3 1614.5,1120.0 1615.0,1134.0 1615.4,1151.4 1615.9,1174.4 1616.3,1208.7 1616.7,1277.1 1617.2,1312.6 1617.6,1220.3 1618.0,1181.4 1618.5,1156.4 1618.9,1137.9 1619.3,1123.2 1619.8,1111.0 1620.2,1100.6 1620.7,1091.6 1621.1,1083.5 1621.5,1076.3 1622.0,1069.7 1622.4,1063.7 1622.8,1058.2 1623.3,1053.0 1623.7,1048.2 1624.1,1043.7 1624.6,1039.5 1625.0,1035.5 1625.4,1031.7 1625.9,1028.1 1626.3,1024.7 1626.8,1021.5 1627.2,1019.3 1627.6,1018.3 1628.1,1017.3 1628.5,1016.3 1628.9,1015.2 1629.4,1014.2 1629.8,1013.2 1630.2,1012.2 1630.7,1011.1 1631.1,1010.1 1631.6,1009.1 1632.0,1008.0 1632.4,1006.9 1632.9,1005.9 1633.3,1004.8 1633.7,1003.7 1634.2,1002.6 1634.6,1001.5 1635.0,1000.4 1635.5,999.3 1635.9,998.2 1636.3,997.1 1636.8,995.9 1637.2,994.8 1637.7,993.6 1638.1,992.4 1638.5,991.1 1639.0,989.9 1639.4,988.6 1639.8,987.3 1640.3,986.0 1640.7,984.7 1641.1,983.4 1641.6,982.1 1642.0,980.7 1642.5,979.4 1642.9,978.0 1643.3,976.7 1643.8,975.3 1644.2,973.9 1644.6,972.6 1645.1,971.2 1645.5,969.9 1645.9,968.6 1646.4,967.2 1646.8,965.9 1647.2,964.6 1647.7,963.3 1648.1,962.1 1648.6,960.8 1649.0,959.6 1649.4,958.4 1649.9,957.2 1650.3,956.0 1650.7,954.9 1651.2,953.8 1651.6,952.7 1652.0,951.7 1652.5,950.7 1652.9,949.7 1653.4,948.8 1653.8,947.9 1654.2,947.0 1654.7,946.1 1655.1,945.2 1655.5,944.4 1656.0,943.5 1656.4,942.7 1656.8,941.8 1657.3,941.0 1658.3,939.1 1659.3,937.3 1660.3,935.6 1661.3,933.8 1662.3,932.1 1663.3,930.5 1664.3,928.8 1665.3,927.2 1666.3,925.7 1667.3,924.1 1668.3,922.6 1669.3,921.1 1670.3,919.7 1671.3,918.2 1672.3,916.8 1673.3,915.4 1674.3,914.0 1675.3,912.6 1676.3,911.3 1677.3,909.9 1678.3,908.6 1679.3,907.3 1680.3,905.9 1681.3,904.6 1682.3,903.3 1683.3,902.0 1684.3,900.7 1685.3,899.3 1686.3,898.0 1687.3,896.7 1688.3,895.4 1689.3,894.1 1690.3,892.8 1691.3,891.6 1692.3,890.3 1693.3,889.1 1694.3,887.9 1695.3,886.7 1696.3,885.5 1697.3,884.3 1698.3,883.2 1699.3,882.1 1700.3,881.0 1701.3,880.0 1702.3,878.9 1703.3,877.9 1704.3,877.0 1705.3,876.0 1706.3,875.1 1707.3,874.2 1708.3,873.3 1709.3,872.5 1710.3,871.6 1711.3,870.8 1712.3,870.0 1713.3,869.2 1714.3,868.4 1715.3,867.7 1716.3,866.9 1717.3,866.2 1718.3,865.5 1719.3,864.8 1720.3,864.1 1721.3,863.4 1722.3,862.7 1723.3,862.0 1724.3,861.4 1725.3,860.7 1726.3,860.1 1727.3,859.4 1728.3,858.8 1729.3,858.2 1730.3,857.5 1731.3,856.9 1732.3,856.3 1733.3,855.7 1734.3,855.0 1735.3,854.4 1736.3,853.8 1737.3,853.2 1738.3,852.5 1739.3,851.9 1740.3,851.3 1741.3,850.6 1742.3,850.0 1743.3,849.4 1744.3,848.7 1745.3,848.1 1746.3,847.4 1747.3,846.7 1748.3,846.0 1749.3,845.4 1750.3,844.7 1751.3,844.0 1752.3,843.3 1753.3,842.6 1754.3,841.9 1755.3,841.1 1756.3,840.4 1757.3,839.7 1758.3,839.0 1759.3,838.2 1760.3,837.5 1761.3,836.8 1762.3,836.0 1763.3,835.3 1764.3,834.6 1765.3,833.9 1766.3,833.1 1767.3,832.4 1768.3,831.7 1769.3,831.0 1770.3,830.3 1771.3,829.6 1772.3,829.0 1773.3,828.3 1774.3,827.7 1775.3,827.0 1776.3,826.4 1777.3,825.8 1778.3,825.2 1779.3,824.6 1780.3,824.0 1781.3,823.4 1782.3,822.9 1783.3,822.3 1784.3,821.8 1785.3,821.2 1786.3,820.7 1787.3,820.2 1788.3,819.6 1789.3,819.1 1790.3,818.6 1791.3,818.1 1792.3,817.6 1793.3,817.1 1794.3,816.7 1795.3,816.2 1796.3,815.7 1797.3,815.2 1798.3,814.7 1799.3,814.2 1800.3,813.7 1801.3,813.2 1802.3,812.8 1803.3,812.3 1804.3,811.8 1805.3,811.3 1806.3,810.8 1807.3,810.3 1808.3,809.8 1809.3,809.2 1810.3,808.7 1811.3,808.2 1812.3,807.7 1813.3,807.1 1814.3,806.6 1815.3,806.0 1816.3,805.5 1817.3,804.9 1818.3,804.4 1819.3,803.8 1820.3,803.2 1821.3,802.6 1822.3,802.0 1823.3,801.4 1824.3,800.8 1825.3,800.2 1826.3,799.6 1827.3,799.0 1828.3,798.3 1829.3,797.7 1830.3,797.0 1831.3,796.4 1832.3,795.7 1833.3,795.0 1834.3,794.3 1835.3,793.6 1836.3,792.9 1837.3,792.2 1838.3,791.5 1839.3,790.8 1840.3,790.0 1841.3,789.3 1842.3,788.5 1843.3,787.8 1844.3,787.0 1845.3,786.2 1846.3,785.5 1847.3,784.7 1848.3,783.9 1849.3,783.1 1850.3,782.3 1851.3,781.5 1852.3,780.7 1853.3,779.9 1854.3,779.1 1855.3,778.3 1856.3,777.5 1857.3,776.7 1858.3,776.0 1859.3,775.2 1860.3,774.4 1861.3,773.6 1862.3,772.8 1863.3,772.0 1864.3,771.2 1865.3,770.4 1866.3,769.6 1867.3,768.8 1868.3,768.1 1869.3,767.3 1870.3,766.5 1871.3,765.7 1872.3,765.0 1873.3,764.2 1874.3,763.4 1875.3,762.7 1876.3,761.9 1877.3,761.1 1878.3,760.4 1879.3,759.6 1880.3,758.8 1881.3,758.1 1882.3,757.3 1883.3,756.6 1884.3,755.8 1885.3,755.1 1886.3,754.3 1887.3,753.6 1888.3,752.8 1889.3,752.1 1890.3,751.3 1891.3,750.6 1892.3,749.9 1893.3,749.1 1894.3,748.4 1895.3,747.7 1896.3,747.0 1897.3,746.2 1898.3,745.5 1899.3,744.8 1900.3,744.1 1901.3,743.4 1902.3,742.7 1903.3,742.0 1904.3,741.3 1905.3,740.6 1906.3,739.9 1907.3,739.2 1908.3,738.5 1909.3,737.8 1910.3,737.1 1911.3,736.5 1912.3,735.8 1913.3,735.1 1914.3,734.4 1915.3,733.7 1916.3,733.1 1917.3,732.4 1918.3,731.7 1919.3,731.0 1920.3,730.4 1921.3,729.7 1922.3,729.0 1923.3,728.4 1924.3,727.7 1925.3,727.0 1926.3,726.4 1927.3,725.7 1928.3,725.1 1929.3,724.4 1930.3,723.7 1931.3,723.1 1932.3,722.4 1933.3,721.8 1934.3,721.1 1935.3,720.5 1936.3,719.8 1937.3,719.2 1938.3,718.6 1939.3,717.9 1940.3,717.3 1941.3,716.6 1942.3,716.0 1943.3,715.4 1944.3,714.7 1945.3,714.1 1946.3,713.5 1947.3,712.8 1948.3,712.2 1949.3,711.6 1950.3,711.0 1951.3,710.3 1952.3,709.7 1953.3,709.1 1954.3,708.5 1955.3,707.8 1956.3,707.2 1957.3,706.6 1958.3,705.9 1959.3,705.3" fill="none" stroke="#ff8000" stroke-width="8.5" stroke-linejoin="round" marker-start="url(#m_orange)" marker-mid="url(#m_orange)" marker-end="url(#m_orange)"/>
<polyline points="400.0,566.5 400.1,566.5 401.1,566.6 402.1,566.8 403.1,566.9 404.1,567.1 405.1,567.2 406.1,567.4 407.1,567.5 408.1,567.7 409.1,567.8 410.1,568.0 411.1,568.1 412.1,568.3 413.1,568.4 414.1,568.5 415.1,568.7 416.1,568.8 417.1,569.0 418.1,569.1 419.1,569.3 420.1,569.4 421.1,569.6 422.1,569.7 423.1,569.9 424.1,570.0 425.1,570.2 426.1,570.3 427.1,570.4 428.1,570.6 429.1,570.7 430.1,570.9 431.1,571.0 432.1,571.2 433.1,571.3 434.1,571.4 435.1,571.6 436.1,571.7 437.1,571.9 438.1,572.0 439.1,572.2 440.1,572.3 441.1,572.4 442.1,572.6 443.1,572.7 444.1,572.9 445.1,573.0 446.1,573.1 447.1,573.3 448.1,573.4 449.1,573.6 450.1,573.7 451.1,573.8 452.1,574.0 453.1,574.1 454.1,574.3 455.1,574.4 456.1,574.6 457.1,574.7 458.1,574.9 459.1,575.0 460.1,575.2 461.1,575.3 462.1,575.5 463.1,575.6 464.1,575.8 465.1,575.9 466.1,576.1 467.1,576.2 468.1,576.4 469.1,576.6 470.1,576.7 471.1,576.9 472.1,577.1 473.1,577.2 474.1,577.4 475.1,577.6 476.1,577.8 477.1,578.0 478.1,578.1 479.1,578.3 480.1,578.5 481.1,578.7 482.1,578.9 483.1,579.1 484.1,579.3 485.1,579.5 486.1,579.7 487.1,579.9 488.1,580.2 489.1,580.4 490.1,580.6 491.1,580.8 492.1,581.0 493.1,581.3 494.1,581.5 495.1,581.7 496.1,582.0 497.1,582.2 498.1,582.4 499.1,582.7 500.1,582.9 501.1,583.2 502.1,583.4 503.1,583.6 504.1,583.9 505.1,584.1 506.1,584.4 507.1,584.6 508.1,584.9 509.1,585.1 510.1,585.4 511.1,585.6 512.1,585.9 513.1,586.1 514.1,586.4 515.1,586.6 516.1,586.8 517.1,587.1 518.1,587.3 519.1,587.6 520.1,587.8 521.1,588.0 522.1,588.3 523.1,588.5 524.1,588.7 525.1,588.9 526.1,589.2 527.1,589.4 528.1,589.6 529.1,589.8 530.1,590.0 531.1,590.2 532.1,590.5 533.1,590.7 534.1,590.9 535.1,591.1 536.1,591.3 537.1,591.5 538.1,591.6 539.1,591.8 540.1,592.0 541.1,592.2 542.1,592.4 543.1,592.6 544.1,592.7 545.1,592.9 546.1,593.1 547.1,593.2 548.1,593.4 549.1,593.6 550.1,593.7 551.1,593.9 552.1,594.0 553.1,594.2 554.1,594.4 555.1,594.5 556.1,594.6 557.1,594.8 558.1,594.9 559.1,595.1 560.1,595.2 561.1,595.3 562.1,595.5 563.1,595.6 564.1,595.7 565.1,595.9 566.1,596.0 567.1,596.1 568.1,596.3 569.1,596.4 570.1,596.5 571.1,596.6 572.1,596.8 573.1,596.9 574.1,597.0 575.1,597.1 576.1,597.2 577.1,597.4 578.1,597.5 579.1,597.6 580.1,597.7 581.1,597.8 582.1,598.0 583.1,598.1 584.1,598.2 585.1,598.3 586.1,598.5 587.1,598.6 588.1,598.7 589.1,598.8 590.1,599.0 591.1,599.1 592.1,599.2 593.1,599.4 594.1,599.5 595.1,599.7 596.1,599.8 597.1,599.9 598.1,600.1 599.1,600.2 600.1,600.4 601.1,600.5 602.1,600.7 603.1,600.8 604.1,601.0 605.1,601.2 606.1,601.3 607.1,601.5 608.1,601.6 609.1,601.8 610.1,602.0 611.1,602.2 612.1,602.3 613.1,602.5 614.1,602.7 615.1,602.9 616.1,603.0 617.1,603.2 618.1,603.4 619.1,603.6 620.1,603.8 621.1,604.0 622.1,604.2 623.1,604.4 624.1,604.6 625.1,604.8 626.1,605.0 627.1,605.1 628.1,605.3 629.1,605.5 630.1,605.7 631.1,605.9 632.1,606.1 633.1,606.3 634.1,606.5 635.1,606.7 636.1,606.9 637.1,607.1 638.1,607.3 639.1,607.5 640.1,607.7 641.1,607.9 642.1,608.1 643.1,608.2 644.1,608.4 645.1,608.6 646.1,608.8 647.1,609.0 648.1,609.1 649.1,609.3 650.1,609.5 651.1,609.6 652.1,609.8 653.1,610.0 654.1,610.1 655.1,610.3 656.1,610.4 657.1,610.6 658.1,610.7 659.1,610.9 660.1,611.0 661.1,611.1 662.1,611.3 663.1,611.4 664.1,611.5 665.1,611.6 666.1,611.7 667.1,611.8 668.1,612.0 669.1,612.1 670.1,612.2 671.1,612.3 672.1,612.3 673.1,612.4 674.1,612.5 675.1,612.6 676.1,612.7 677.1,612.8 678.1,612.9 679.1,612.9 680.1,613.0 681.1,613.1 682.1,613.1 683.1,613.2 684.1,613.3 685.1,613.3 686.1,613.4 687.1,613.5 688.1,613.5 689.1,613.6 690.1,613.6 691.1,613.7 692.1,613.7 693.1,613.8 694.1,613.8 695.1,613.9 696.1,614.0 697.1,614.0 698.1,614.1 699.1,614.1 700.1,614.2 701.1,614.2 702.1,614.3 703.1,614.3 704.1,614.4 705.1,614.4 706.1,614.5 707.1,614.6 708.1,614.6 709.1,614.7 710.1,614.8 711.1,614.8 712.1,614.9 713.1,615.0 714.1,615.0 715.1,615.1 716.1,615.2 717.1,615.2 718.1,615.3 719.1,615.4 720.1,615.5 721.1,615.6 722.1,615.7 723.1,615.7 724.1,615.8 725.1,615.9 726.1,616.0 727.1,616.1 728.1,616.2 729.1,616.3 730.1,616.4 731.1,616.5 732.1,616.6 733.1,616.7 734.1,616.8 735.1,616.9 736.1,617.1 737.1,617.2 738.1,617.3 739.1,617.4 740.1,617.5 741.1,617.6 742.1,617.8 743.1,617.9 744.1,618.0 745.1,618.1 746.1,618.3 747.1,618.4 748.1,618.5 749.1,618.7 750.1,618.8 751.1,618.9 752.1,619.0 753.1,619.2 754.1,619.3 755.1,619.4 756.1,619.6 757.1,619.7 758.1,619.8 759.1,620.0 760.1,620.1 761.1,620.3 762.1,620.4 763.1,620.5 764.1,620.7 765.1,620.8 766.1,620.9 767.1,621.1 768.1,621.2 769.1,621.3 770.1,621.5 771.1,621.6 772.1,621.8 773.1,621.9 774.1,622.0 775.1,622.2 776.1,622.3 777.1,622.4 778.1,622.6 779.1,622.7 780.1,622.8 781.1,623.0 782.1,623.1 783.1,623.2 784.1,623.4 785.1,623.5 786.1,623.7 787.1,623.8 788.1,623.9 789.1,624.1 790.1,624.2 791.1,624.3 792.1,624.5 793.1,624.6 794.1,624.7 795.1,624.9 796.1,625.0 797.1,625.2 798.1,625.3 799.1,625.4 800.1,625.6 801.1,625.7 802.1,625.9 803.1,626.0 804.1,626.1 805.1,626.3 806.1,626.4 807.1,626.6 808.1,626.7 809.1,626.9 810.1,627.0 811.1,627.2 812.1,627.3 813.1,627.5 814.1,627.6 815.1,627.8 816.1,627.9 817.1,628.1 818.1,628.2 819.1,628.4 820.1,628.5 821.1,628.7 822.1,628.8 823.1,629.0 824.1,629.2 825.1,629.3 826.1,629.5 827.1,629.6 828.1,629.8 829.1,630.0 830.1,630.1 831.1,630.3 832.1,630.5 833.1,630.6 834.1,630.8 835.1,631.0 836.1,631.1 837.1,631.3 838.1,631.5 839.1,631.6 840.1,631.8 841.1,632.0 842.1,632.1 843.1,632.3 844.1,632.5 845.1,632.7 846.1,632.8 847.1,633.0 848.1,633.2 849.1,633.4 850.1,633.5 851.1,633.7 852.1,633.9 853.1,634.1 854.1,634.2 855.1,634.4 856.1,634.6 857.1,634.8 858.1,634.9 859.1,635.1 860.1,635.3 861.1,635.5 862.1,635.6 863.1,635.8 864.1,636.0 865.1,636.2 866.1,636.3 867.1,636.5 868.1,636.7 869.1,636.8 870.1,637.0 871.1,637.2 872.1,637.4 873.1,637.5 874.1,637.7 875.1,637.9 876.1,638.0 877.1,638.2 878.1,638.4 879.1,638.6 880.1,638.7 881.1,638.9 882.1,639.1 883.1,639.2 884.1,639.4 885.1,639.5 886.1,639.7 887.1,639.9 888.1,640.0 889.1,640.2 890.1,640.4 891.1,640.5 892.1,640.7 893.1,640.8 894.1,641.0 895.1,641.2 896.1,641.3 897.1,641.5 898.1,641.6 899.1,641.8 900.1,641.9 901.1,642.1 902.1,642.3 903.1,642.4 904.1,642.6 905.1,642.7 906.1,642.9 907.1,643.0 908.1,643.2 909.1,643.3 910.1,643.5 911.1,643.6 912.1,643.8 913.1,644.0 914.1,644.1 915.1,644.3 916.1,644.4 917.1,644.6 918.1,644.7 919.1,644.9 920.1,645.1 921.1,645.2 922.1,645.4 923.1,645.5 924.1,645.7 925.1,645.9 926.1,646.0 927.1,646.2 928.1,646.4 929.1,646.5 930.1,646.7 931.1,646.9 932.1,647.0 933.1,647.2 934.1,647.4 935.1,647.5 936.1,647.7 937.1,647.9 938.1,648.1 939.1,648.2 940.1,648.4 941.1,648.6 942.1,648.8 943.1,649.0 944.1,649.1 945.1,649.3 946.1,649.5 947.1,649.7 948.1,649.9 949.1,650.1 950.1,650.3 951.1,650.5 952.1,650.7 953.1,650.9 954.1,651.1 955.1,651.3 956.1,651.5 957.1,651.7 958.1,651.9 959.1,652.1 960.1,652.3 961.1,652.5 962.1,652.7 963.1,652.9 964.1,653.1 965.1,653.3 966.1,653.5 967.1,653.7 968.1,653.9 969.1,654.1 970.1,654.4 971.1,654.6 972.1,654.8 973.1,655.0 974.1,655.2 975.1,655.4 976.1,655.7 977.1,655.9 978.1,656.1 979.1,656.3 980.1,656.6 981.1,656.8 982.1,657.0 983.1,657.2 984.1,657.5 985.1,657.7 986.1,657.9 987.1,658.1 988.1,658.4 989.1,658.6 990.1,658.8 991.1,659.1 992.1,659.3 993.1,659.5 994.1,659.8 995.1,660.0 996.1,660.2 997.1,660.5 998.1,660.7 999.1,660.9 1000.1,661.2 1001.1,661.4 1002.1,661.6 1003.1,661.9 1004.1,662.1 1005.1,662.3 1006.1,662.6 1007.1,662.8 1008.1,663.1 1009.1,663.3 1010.1,663.6 1011.1,663.8 1012.1,664.0 1013.1,664.3 1014.1,664.5 1015.1,664.8 1016.1,665.0 1017.1,665.3 1018.1,665.5 1019.1,665.8 1020.1,666.0 1021.1,666.2 1022.1,666.5 1023.1,666.7 1024.1,667.0 1025.1,667.2 1026.1,667.5 1027.1,667.7 1028.1,668.0 1029.1,668.2 1030.1,668.5 1031.1,668.8 1032.1,669.0 1033.1,669.3 1034.1,669.5 1035.1,669.8 1036.1,670.0 1037.1,670.3 1038.1,670.5 1039.1,670.8 1040.1,671.1 1041.1,671.3 1042.1,671.6 1043.1,671.8 1044.1,672.1 1045.1,672.3 1046.1,672.6 1047.1,672.9 1048.1,673.1 1049.1,673.4 1050.1,673.6 1051.1,673.9 1052.1,674.2 1053.1,674.4 1054.1,674.7 1055.1,674.9 1056.1,675.2 1057.1,675.5 1058.1,675.7 1059.1,676.0 1060.1,676.3 1061.1,676.5 1062.1,676.8 1063.1,677.0 1064.1,677.3 1065.1,677.6 1066.1,677.8 1067.1,678.1 1068.1,678.4 1069.1,678.6 1070.1,678.9 1071.1,679.2 1072.1,679.4 1073.1,679.7 1074.1,680.0 1075.1,680.2 1076.1,680.5 1077.1,680.7 1078.1,681.0 1079.1,681.3 1080.1,681.5 1081.1,681.8 1082.1,682.1 1083.1,682.3 1084.1,682.6 1085.1,682.9 1086.1,683.2 1087.1,683.4 1088.1,683.7 1089.1,684.0 1090.1,684.2 1091.1,684.5 1092.1,684.8 1093.1,685.1 1094.1,685.3 1095.1,685.6 1096.1,685.9 1097.1,686.2 1098.1,686.4 1099.1,686.7 1100.1,687.0 1101.1,687.3 1102.1,687.6 1103.1,687.9 1104.1,688.1 1105.1,688.4 1106.1,688.7 1107.1,689.0 1108.1,689.3 1109.1,689.6 1110.1,689.9 1111.1,690.2 1112.1,690.5 1113.1,690.8 1114.1,691.1 1115.1,691.4 1116.1,691.7 1117.1,692.0 1118.1,692.3 1119.1,692.7 1120.1,693.0 1121.1,693.3 1122.1,693.6 1123.1,693.9 1124.1,694.3 1125.1,694.6 1126.1,694.9 1127.1,695.2 1128.1,695.6 1129.1,695.9 1130.1,696.2 1131.1,696.6 1132.1,696.9 1133.1,697.3 1134.1,697.6 1135.1,698.0 1136.1,698.3 1137.1,698.7 1138.1,699.1 1139.1,699.4 1140.1,699.8 1141.1,700.2 1142.1,700.6 1143.1,701.0 1144.1,701.3 1145.1,701.7 1146.1,702.1 1147.1,702.5 1148.1,702.9 1149.1,703.4 1150.1,703.8 1151.1,704.2 1152.1,704.6 1153.1,705.1 1154.1,705.5 1155.1,706.0 1156.1,706.4 1157.1,706.9 1158.1,707.4 1159.1,707.8 1160.1,708.3 1161.1,708.8 1162.1,709.3 1163.1,709.8 1164.1,710.3 1165.1,710.9 1166.1,711.4 1167.1,711.9 1168.1,712.5 1169.1,713.0 1170.1,713.6 1171.1,714.2 1172.1,714.8 1173.1,715.4 1174.1,716.0 1175.1,716.6 1176.1,717.3 1177.1,717.9 1178.1,718.6 1179.1,719.3 1180.1,719.9 1181.1,720.6 1182.1,721.3 1183.1,722.1 1184.1,722.8 1185.1,723.5 1186.1,724.2 1187.1,725.0 1188.1,725.8 1189.1,726.5 1190.1,727.3 1191.1,728.1 1192.1,728.9 1193.1,729.7 1194.1,730.5 1195.1,731.3 1196.1,732.1 1197.1,732.9 1198.1,733.7 1199.1,734.5 1200.1,735.4 1201.1,736.2 1202.1,737.0 1203.1,737.9 1204.1,738.7 1205.1,739.6 1206.1,740.4 1207.1,741.3 1208.1,742.1 1209.1,743.0 1210.1,743.8 1211.1,744.7 1212.1,745.5 1213.1,746.4 1214.1,747.3 1215.1,748.1 1216.1,749.0 1217.1,749.8 1218.1,750.7 1219.1,751.6 1220.1,752.4 1221.1,753.3 1222.1,754.2 1223.1,755.0 1224.1,755.9 1225.1,756.8 1226.1,757.6 1227.1,758.5 1228.1,759.4 1229.1,760.3 1230.1,761.2 1231.1,762.1 1232.1,763.0 1233.1,763.9 1234.1,764.8 1235.1,765.7 1236.1,766.6 1237.1,767.5 1238.1,768.4 1239.1,769.4 1240.1,770.3 1241.1,771.3 1242.1,772.2 1243.1,773.2 1244.1,774.2 1245.1,775.1 1246.1,776.1 1247.1,777.1 1248.1,778.1 1249.1,779.2 1250.1,780.2 1251.1,781.3 1252.1,782.3 1253.1,783.4 1254.1,784.5 1255.1,785.6 1256.1,786.7 1257.1,787.8 1258.1,789.0 1259.1,790.1 1260.1,791.3 1261.1,792.5 1262.1,793.7 1263.1,794.9 1264.1,796.1 1265.1,797.3 1266.1,798.5 1267.1,799.7 1268.1,800.9 1269.1,802.2 1270.1,803.4 1271.1,804.7 1272.1,805.9 1272.9,807.0 1273.8,808.2 1274.6,809.3 1275.5,810.5 1276.3,811.6 1277.2,812.9 1278.0,814.1 1278.9,815.3 1279.7,816.6 1280.6,818.0 1281.4,819.3 1282.3,820.7 1283.1,822.1 1284.0,823.6 1284.8,825.1 1285.7,826.6 1286.5,828.2 1287.4,829.8 1288.2,831.5 1289.1,833.2 1289.9,834.9 1290.8,836.8 1291.6,838.6 1292.5,840.6 1293.3,842.5 1294.2,844.6 1295.0,846.9 1295.9,849.4 1296.7,852.1 1297.6,855.2 1298.4,858.7 1299.3,862.5 1300.1,867.1 1301.0,873.1 1301.8,881.2 1302.7,889.0 1303.5,895.5 1304.4,902.6 1305.2,910.5 1306.1,919.4 1306.9,929.6 1307.8,941.5 1308.6,955.7 1309.5,973.5 1310.3,997.2 1311.2,1033.1 1312.0,1108.8 1312.9,1117.3 1313.7,1036.0 1314.6,999.0 1315.4,974.7 1316.3,956.6 1317.1,942.2 1318.0,930.3 1318.8,920.0 1319.7,911.0 1320.5,903.1 1321.4,895.9 1322.2,889.4 1323.1,885.2 1323.9,881.8 1324.8,878.5 1325.6,875.2 1326.5,872.0 1327.3,868.8 1328.2,865.6 1329.0,862.5 1329.9,859.4 1330.7,856.4 1331.6,853.4 1332.4,850.5 1333.3,847.6 1334.1,844.8 1335.0,842.1 1335.8,839.4 1336.7,836.8 1337.5,834.3 1338.4,831.8 1339.2,829.4 1340.1,827.1 1340.9,824.9 1341.8,822.7 1342.6,820.7 1343.5,818.7 1344.3,816.7 1345.2,814.9 1346.0,813.0 1346.9,811.2 1347.7,809.5 1348.6,807.7 1349.4,806.0 1350.3,804.4 1351.1,802.7 1352.0,801.1 1352.8,799.5 1353.7,798.0 1354.7,796.2 1355.7,794.5 1356.7,792.9 1357.7,791.2 1358.7,789.7 1359.7,788.1 1360.7,786.7 1361.7,785.2 1362.7,783.8 1363.7,782.5 1364.7,781.2 1365.7,780.0 1366.7,778.8 1367.7,777.6 1368.7,776.5 1369.7,775.5 1370.7,774.4 1371.7,773.4 1372.7,772.4 1373.7,771.4 1374.7,770.5 1375.7,769.5 1376.7,768.6 1377.7,767.7 1378.7,766.8 1379.7,766.0 1380.7,765.1 1381.7,764.3 1382.7,763.4 1383.7,762.6 1384.7,761.8 1385.7,761.0 1386.7,760.3 1387.7,759.5 1388.7,758.8 1389.7,758.0 1390.7,757.3 1391.7,756.6 1392.7,755.9 1393.7,755.2 1394.7,754.5 1395.7,753.8 1396.7,753.1 1397.7,752.4 1398.7,751.7 1399.7,751.1 1400.7,750.4 1401.7,749.8 1402.7,749.1 1403.7,748.4 1404.7,747.8 1405.7,747.1 1406.7,746.5 1407.7,745.8 1408.7,745.2 1409.7,744.5 1410.7,743.9 1411.7,743.3 1412.7,742.6 1413.7,742.0 1414.7,741.3 1415.7,740.7 1416.7,740.0 1417.7,739.4 1418.7,738.8 1419.7,738.1 1420.7,737.5 1421.7,736.9 1422.7,736.2 1423.7,735.6 1424.7,735.0 1425.7,734.3 1426.7,733.7 1427.7,733.1 1428.7,732.5 1429.7,731.9 1430.7,731.3 1431.7,730.6 1432.7,730.0 1433.7,729.4 1434.7,728.8 1435.7,728.2 1436.7,727.6 1437.7,727.0 1438.7,726.5 1439.7,725.9 1440.7,725.3 1441.7,724.7 1442.7,724.1 1443.7,723.5 1444.7,722.9 1445.7,722.4 1446.7,721.8 1447.7,721.2 1448.7,720.6 1449.7,720.0 1450.7,719.5 1451.7,718.9 1452.7,718.3 1453.7,717.7 1454.7,717.2 1455.7,716.6 1456.7,716.0 1457.7,715.4 1458.7,714.9 1459.7,714.3 1460.7,713.7 1461.7,713.2 1462.7,712.6 1463.7,712.0 1464.7,711.5 1465.7,710.9 1466.7,710.3 1467.7,709.8 1468.7,709.2 1469.7,708.7 1470.7,708.1 1471.7,707.6 1472.7,707.0 1473.7,706.4 1474.7,705.9 1475.7,705.4 1476.7,704.8 1477.7,704.3 1478.7,703.7 1479.7,703.2 1480.7,702.6 1481.7,702.1 1482.7,701.6 1483.7,701.0 1484.7,700.5 1485.7,699.9 1486.7,699.4 1487.7,698.9 1488.7,698.3 1489.7,697.8 1490.7,697.3 1491.7,696.7 1492.7,696.2 1493.7,695.6 1494.7,695.1 1495.7,694.6 1496.7,694.0 1497.7,693.5 1498.7,693.0 1499.7,692.4 1500.7,691.9 1501.7,691.3 1502.7,690.8 1503.7,690.2 1504.7,689.7 1505.7,689.2 1506.7,688.6 1507.7,688.1 1508.7,687.5 1509.7,687.0 1510.7,686.4 1511.7,685.8 1512.7,685.3 1513.7,684.7 1514.7,684.2 1515.7,683.6 1516.7,683.1 1517.7,682.5 1518.7,681.9 1519.7,681.4 1520.7,680.8 1521.7,680.3 1522.7,679.7 1523.7,679.1 1524.7,678.6 1525.7,678.0 1526.7,677.5 1527.7,676.9 1528.7,676.3 1529.7,675.8 1530.7,675.2 1531.7,674.7 1532.7,674.1 1533.7,673.5 1534.7,673.0 1535.7,672.4 1536.7,671.9 1537.7,671.3 1538.7,670.8 1539.7,670.2 1540.7,669.7 1541.7,669.1 1542.7,668.6 1543.7,668.1 1544.7,667.5 1545.7,667.0 1546.7,666.4 1547.7,665.9 1548.7,665.4 1549.7,664.9 1550.7,664.3 1551.7,663.8 1552.7,663.3 1553.7,662.8 1554.7,662.2 1555.7,661.7 1556.7,661.2 1557.7,660.7 1558.7,660.2 1559.7,659.7 1560.7,659.2 1561.7,658.7 1562.7,658.2 1563.7,657.7 1564.7,657.2 1565.7,656.7 1566.7,656.2 1567.7,655.7 1568.7,655.2 1569.7,654.7 1570.7,654.2 1571.7,653.7 1572.7,653.2 1573.7,652.8 1574.7,652.3 1575.7,651.8 1576.7,651.3 1577.7,650.8 1578.7,650.3 1579.7,649.8 1580.7,649.3 1581.7,648.9 1582.7,648.4 1583.7,647.9 1584.7,647.4 1585.7,646.9 1586.7,646.4 1587.7,646.0 1588.7,645.5 1589.7,645.0 1590.7,644.5 1591.7,644.0 1592.7,643.5 1593.7,643.0 1594.7,642.6 1595.7,642.1 1596.7,641.6 1597.7,641.1 1598.7,640.6 1599.7,640.1 1600.7,639.6 1601.7,639.1 1602.7,638.6 1603.7,638.1 1604.7,637.6 1605.7,637.1 1606.7,636.7 1607.7,636.2 1608.7,635.7 1609.7,635.2 1610.7,634.7 1611.7,634.2 1612.7,633.7 1613.7,633.2 1614.7,632.7 1615.7,632.2 1616.7,631.7 1617.7,631.2 1618.7,630.7 1619.7,630.2 1620.7,629.7 1621.7,629.2 1622.7,628.7 1623.7,628.2 1624.7,627.7 1625.7,627.2 1626.7,626.7 1627.7,626.2 1628.7,625.7 1629.7,625.2 1630.7,624.7 1631.7,624.2 1632.7,623.7 1633.7,623.2 1634.7,622.7 1635.7,622.2 1636.7,621.7 1637.7,621.2 1638.7,620.7 1639.7,620.2 1640.7,619.7 1641.7,619.2 1642.7,618.6 1643.7,618.1 1644.7,617.6 1645.7,617.1 1646.7,616.6 1647.7,616.1 1648.7,615.5 1649.7,615.0 1650.7,614.5 1651.7,614.0 1652.7,613.4 1653.7,612.9 1654.7,612.4 1655.7,611.9 1656.7,611.3 1657.7,610.8 1658.7,610.2 1659.7,609.7 1660.7,609.2 1661.7,608.6 1662.7,608.1 1663.7,607.5 1664.7,607.0 1665.7,606.4 1666.7,605.9 1667.7,605.3 1668.7,604.8 1669.7,604.2 1670.7,603.7 1671.7,603.1 1672.7,602.6 1673.7,602.0 1674.7,601.5 1675.7,600.9 1676.7,600.3 1677.7,599.8 1678.7,599.2 1679.7,598.6 1680.7,598.1 1681.7,597.5 1682.7,596.9 1683.7,596.4 1684.7,595.8 1685.7,595.2 1686.7,594.7 1687.7,594.1 1688.7,593.5 1689.7,593.0 1690.7,592.4 1691.7,591.8 1692.7,591.3 1693.7,590.7 1694.7,590.1 1695.7,589.6 1696.7,589.0 1697.7,588.4 1698.7,587.9 1699.7,587.3 1700.7,586.8 1701.7,586.2 1702.7,585.6 1703.7,585.1 1704.7,584.5 1705.7,584.0 1706.7,583.4 1707.7,582.9 1708.7,582.3 1709.7,581.8 1710.7,581.2 1711.7,580.7 1712.7,580.1 1713.7,579.6 1714.7,579.0 1715.7,578.5 1716.7,578.0 1717.7,577.4 1718.7,576.9 1719.7,576.3 1720.7,575.8 1721.7,575.3 1722.7,574.7 1723.7,574.2 1724.7,573.6 1725.7,573.1 1726.7,572.5 1727.7,572.0 1728.7,571.4 1729.7,570.9 1730.7,570.3 1731.7,569.8 1732.7,569.2 1733.7,568.6 1734.7,568.1 1735.7,567.5 1736.7,566.9 1737.7,566.4 1738.7,565.8 1739.7,565.2 1740.7,564.6 1741.7,564.0 1742.7,563.5 1743.7,562.9 1744.7,562.3 1745.7,561.7 1746.7,561.1 1747.7,560.4 1748.7,559.8 1749.7,559.2 1750.7,558.6 1751.7,558.0 1752.7,557.3 1753.7,556.7 1754.7,556.1 1755.7,555.4 1756.7,554.8 1757.7,554.1 1758.7,553.5 1759.7,552.8 1760.7,552.2 1761.7,551.5 1762.7,550.8 1763.7,550.2 1764.7,549.5 1765.7,548.8 1766.7,548.1 1767.7,547.5 1768.7,546.8 1769.7,546.1 1770.7,545.4 1771.7,544.7 1772.7,544.0 1773.7,543.3 1774.7,542.6 1775.7,541.9 1776.7,541.2 1777.7,540.4 1778.7,539.7 1779.7,539.0 1780.7,538.3 1781.7,537.5 1782.7,536.8 1783.7,536.0 1784.7,535.3 1785.7,534.6 1786.7,533.8 1787.7,533.0 1788.7,532.3 1789.7,531.5 1790.7,530.7 1791.7,530.0 1792.7,529.2 1793.7,528.4 1794.7,527.6 1795.7,526.8 1796.7,526.0 1797.7,525.2 1798.7,524.4 1799.7,523.6 1800.7,522.8 1801.7,521.9 1802.7,521.1 1803.7,520.3 1804.7,519.4 1805.7,518.6 1806.7,517.8 1807.7,516.9 1808.7,516.1 1809.7,515.2 1810.7,514.4 1811.7,513.5 1812.7,512.7 1813.7,511.8 1814.7,510.9 1815.7,510.1 1816.7,509.2 1817.7,508.4 1818.7,507.5 1819.7,506.7 1820.7,505.8 1821.7,504.9 1822.7,504.1 1823.7,503.2 1824.7,502.4 1825.7,501.5 1826.7,500.6 1827.7,499.8 1828.7,498.9 1829.7,498.1 1830.7,497.2 1831.7,496.4 1832.7,495.6 1833.7,494.7 1834.7,493.9 1835.7,493.0 1836.7,492.2 1837.7,491.3 1838.7,490.5 1839.7,489.7 1840.7,488.8 1841.7,488.0 1842.7,487.2 1843.7,486.3 1844.7,485.5 1845.7,484.7 1846.7,483.8 1847.7,483.0 1848.7,482.2 1849.7,481.3 1850.7,480.5 1851.7,479.7 1852.7,478.8 1853.7,478.0 1854.7,477.2 1855.7,476.3 1856.7,475.5 1857.7,474.6 1858.7,473.8 1859.7,473.0 1860.7,472.1 1861.7,471.3 1862.7,470.5 1863.7,469.6 1864.7,468.8 1865.7,467.9 1866.7,467.1 1867.7,466.3 1868.7,465.4 1869.7,464.6 1870.7,463.7 1871.7,462.9 1872.7,462.0 1873.7,461.2 1874.7,460.3 1875.7,459.5 1876.7,458.6 1877.7,457.8 1878.7,456.9 1879.7,456.1 1880.7,455.2 1881.7,454.3 1882.7,453.5 1883.7,452.6 1884.7,451.8 1885.7,450.9 1886.7,450.0 1887.7,449.2 1888.7,448.3 1889.7,447.4 1890.7,446.6 1891.7,445.7 1892.7,444.8 1893.7,444.0 1894.7,443.1 1895.7,442.3 1896.7,441.4 1897.7,440.6 1898.7,439.7 1899.7,438.9 1900.7,438.0 1901.7,437.2 1902.7,436.3 1903.7,435.5 1904.7,434.6 1905.7,433.8 1906.7,432.9 1907.7,432.1 1908.7,431.3 1909.7,430.4 1910.7,429.6 1911.7,428.8 1912.7,427.9 1913.7,427.1 1914.7,426.3 1915.7,425.4 1916.7,424.6 1917.7,423.8 1918.7,423.0 1919.7,422.1 1920.7,421.3 1921.7,420.5 1922.7,419.7 1923.7,418.9 1924.7,418.0 1925.7,417.2 1926.7,416.4 1927.7,415.6 1928.7,414.8 1929.7,414.0 1930.7,413.2 1931.7,412.3 1932.7,411.5 1933.7,410.7 1934.7,409.9 1935.7,409.1 1936.7,408.3 1937.7,407.5 1938.7,406.7 1939.7,405.9 1940.7,405.1 1941.7,404.3 1942.7,403.5 1943.7,402.7 1944.7,402.0 1945.7,401.2 1946.7,400.4 1947.7,399.6 1948.7,398.8 1949.7,398.0 1950.7,397.2 1951.7,396.4 1952.7,395.7 1953.7,394.9 1954.7,394.1 1955.7,393.3 1956.7,392.5 1957.7,391.7 1958.7,390.9 1959.7,390.1" fill="none" stroke="#8000ff" stroke-width="8.5" stroke-linejoin="round" marker-start="url(#m_purple)" marker-mid="url(#m_purple)" marker-end="url(#m_purple)"/>
</g>
<path d="M400.0 83V1568M369 1565H2379.0M369 86.5H400.0M383 201.3H400.0M383 172.4H400.0M383 151.9H400.0M383 136.0H400.0M383 122.9H400.0M383 111.9H400.0M383 102.4H400.0M383 94.0H400.0M369 250.8H400.0M383 365.6H400.0M383 336.7H400.0M383 316.2H400.0M383 300.2H400.0M383 287.2H400.0M383 276.2H400.0M383 266.7H400.0M383 258.3H400.0M369 415.1H400.0M383 529.9H400.0M383 501.0H400.0M383 480.4H400.0M383 464.5H400.0M383 451.5H400.0M383 440.5H400.0M383 431.0H400.0M383 422.6H400.0M369 579.3H400.0M383 694.2H400.0M383 665.2H400.0M383 644.7H400.0M383 628.8H400.0M383 615.8H400.0M383 604.8H400.0M383 595.3H400.0M383 586.9H400.0M369 743.6H400.0M383 858.4H400.0M383 829.5H400.0M383 809.0H400.0M383 793.1H400.0M383 780.1H400.0M383 769.1H400.0M383 759.5H400.0M383 751.1H400.0M369 907.9H400.0M383 1022.7H400.0M383 993.8H400.0M383 973.3H400.0M383 957.3H400.0M383 944.3H400.0M383 933.3H400.0M383 923.8H400.0M383 915.4H400.0M369 1072.2H400.0M383 1187.0H400.0M383 1158.1H400.0M383 1137.5H400.0M383 1121.6H400.0M383 1108.6H400.0M383 1097.6H400.0M383 1088.1H400.0M383 1079.7H400.0M369 1236.4H400.0M383 1351.3H400.0M383 1322.3H400.0M383 1301.8H400.0M383 1285.9H400.0M383 1272.9H400.0M383 1261.9H400.0M383 1252.4H400.0M383 1244.0H400.0M369 1400.7H400.0M383 1515.5H400.0M383 1486.6H400.0M383 1466.1H400.0M383 1450.2H400.0M383 1437.2H400.0M383 1426.2H400.0M383 1416.6H400.0M383 1408.2H400.0M369 1565.0H400.0M400.0 1565V1596M597.6 1565V1582M795.2 1565V1596M992.8 1565V1582M1190.4 1565V1596M1388.0 1565V1582M1585.6 1565V1596M1783.2 1565V1582M1980.8 1565V1596M2178.4 1565V1582M2376.0 1565V1596" stroke="#000" stroke-width="6" stroke-linecap="round" fill="none"/>
<rect x="1904.5" y="84.5" width="497" height="702" fill="#fff" stroke="#000" stroke-width="3"/>
<path d="M1966 191.0H2136" stroke="#000000" stroke-width="8.5" stroke-linecap="round"/>
<path transform="translate(2050.5 191.0)" d="M-11 -11H11V11H-11Z" fill="#000000"/>
<text x="2154.6" y="217.5" font-family="Liberation Serif, Times New Roman, serif" font-size="77">0 g·L</text>
<text x="2319" y="180.5" font-family="Liberation Serif, Times New Roman, serif" font-size="46">−1</text>
<path d="M1966 301.6H2136" stroke="#ff0000" stroke-width="8.5" stroke-linecap="round"/>
<path transform="translate(2050.5 301.6)" d="M0 -17L14.5 9L-14.5 9Z" fill="#ff0000"/>
<text x="2154.6" y="328.1" font-family="Liberation Serif, Times New Roman, serif" font-size="77">1 g·L</text>
<text x="2319" y="291.1" font-family="Liberation Serif, Times New Roman, serif" font-size="46">−1</text>
<path d="M1966 412.2H2136" stroke="#ff80ff" stroke-width="8.5" stroke-linecap="round"/>
<path transform="translate(2050.5 412.2)" d="M0 17L14.5 -8L-14.5 -8Z" fill="#ff80ff"/>
<text x="2154.6" y="438.7" font-family="Liberation Serif, Times New Roman, serif" font-size="77">2 g·L</text>
<text x="2319" y="401.7" font-family="Liberation Serif, Times New Roman, serif" font-size="46">−1</text>
<path d="M1966 522.8H2136" stroke="#808000" stroke-width="8.5" stroke-linecap="round"/>
<path transform="translate(2050.5 522.8)" d="M0 -15L11.75 0L0 15L-11.75 0Z" fill="#808000"/>
<text x="2154.6" y="549.3" font-family="Liberation Serif, Times New Roman, serif" font-size="77">3 g·L</text>
<text x="2319" y="512.3" font-family="Liberation Serif, Times New Roman, serif" font-size="46">−1</text>
<path d="M1966 633.4H2136" stroke="#ff8000" stroke-width="8.5" stroke-linecap="round"/>
<path transform="translate(2050.5 633.4)" d="M-11.5 0L8.5 -14.5L8.5 14.5Z" fill="#ff8000"/>
<text x="2154.6" y="659.9" font-family="Liberation Serif, Times New Roman, serif" font-size="77">4 g·L</text>
<text x="2319" y="622.9" font-family="Liberation Serif, Times New Roman, serif" font-size="46">−1</text>
<path d="M1966 744.0H2136" stroke="#8000ff" stroke-width="8.5" stroke-linecap="round"/>
<path transform="translate(2050.5 744.0)" d="M11.5 0L-8.5 -14.5L-8.5 14.5Z" fill="#8000ff"/>
<text x="2154.6" y="770.5" font-family="Liberation Serif, Times New Roman, serif" font-size="77">5 g·L</text>
<text x="2319" y="733.5" font-family="Liberation Serif, Times New Roman, serif" font-size="46">−1</text>
<text x="228" y="112.0" font-family="Liberation Serif, Times New Roman, serif" font-size="77">10</text>
<text x="302.5" y="75.0" font-family="Liberation Serif, Times New Roman, serif" font-size="46">−1</text>
<text x="228" y="276.3" font-family="Liberation Serif, Times New Roman, serif" font-size="77">10</text>
<text x="302.5" y="239.3" font-family="Liberation Serif, Times New Roman, serif" font-size="46">−2</text>
<text x="228" y="440.6" font-family="Liberation Serif, Times New Roman, serif" font-size="77">10</text>
<text x="302.5" y="403.6" font-family="Liberation Serif, Times New Roman, serif" font-size="46">−3</text>
<text x="228" y="604.8" font-family="Liberation Serif, Times New Roman, serif" font-size="77">10</text>
<text x="302.5" y="567.8" font-family="Liberation Serif, Times New Roman, serif" font-size="46">−4</text>
<text x="228" y="769.1" font-family="Liberation Serif, Times New Roman, serif" font-size="77">10</text>
<text x="302.5" y="732.1" font-family="Liberation Serif, Times New Roman, serif" font-size="46">−5</text>
<text x="228" y="933.4" font-family="Liberation Serif, Times New Roman, serif" font-size="77">10</text>
<text x="302.5" y="896.4" font-family="Liberation Serif, Times New Roman, serif" font-size="46">−6</text>
<text x="228" y="1097.7" font-family="Liberation Serif, Times New Roman, serif" font-size="77">10</text>
<text x="302.5" y="1060.7" font-family="Liberation Serif, Times New Roman, serif" font-size="46">−7</text>
<text x="228" y="1261.9" font-family="Liberation Serif, Times New Roman, serif" font-size="77">10</text>
<text x="302.5" y="1224.9" font-family="Liberation Serif, Times New Roman, serif" font-size="46">−8</text>
<text x="228" y="1426.2" font-family="Liberation Serif, Times New Roman, serif" font-size="77">10</text>
<text x="302.5" y="1389.2" font-family="Liberation Serif, Times New Roman, serif" font-size="46">−9</text>
<text x="228" y="1599.5" font-family="Liberation Serif, Times New Roman, serif" font-size="77">10</text>
<text x="302.5" y="1562.5" font-family="Liberation Serif, Times New Roman, serif" font-size="46">−10</text>
<text x="335.2" y="1682" font-family="Liberation Serif, Times New Roman, serif" font-size="77">−1.0</text>
<text x="723.2" y="1682" font-family="Liberation Serif, Times New Roman, serif" font-size="77">−0.8</text>
<text x="1120.2" y="1682" font-family="Liberation Serif, Times New Roman, serif" font-size="77">−0.6</text>
<text x="1514.2" y="1682" font-family="Liberation Serif, Times New Roman, serif" font-size="77">−0.4</text>
<text x="1914.2" y="1682" font-family="Liberation Serif, Times New Roman, serif" font-size="77">−0.2</text>
<text x="2330.3" y="1682" font-family="Liberation Serif, Times New Roman, serif" font-size="77">0.0</text>
<text x="949" y="1781" font-family="Liberation Serif, Times New Roman, serif" font-size="77">Corrosion potential E</text>
<text x="1603.8" y="1808" font-family="Liberation Serif, Times New Roman, serif" font-size="77">corr</text>
<text x="1725.8" y="1781" font-family="Liberation Serif, Times New Roman, serif" font-size="77">(V)</text>
<text transform="translate(119,1042) rotate(-90)" font-family="Liberation Serif, Times New Roman, serif" font-size="77">logi</text>
<text transform="translate(147,925) rotate(-90)" font-family="Liberation Serif, Times New Roman, serif" font-size="77">corr</text>
<text transform="translate(119,808) rotate(-90)" font-family="Liberation Serif, Times New Roman, serif" font-size="77">(A·cm</text>
<text transform="translate(82.5,612) rotate(-90)" font-family="Liberation Serif, Times New Roman, serif" font-size="77">−2</text>
<text transform="translate(119,529) rotate(-90)" font-family="Liberation Serif, Times New Roman, serif" font-size="77">)</text>
</svg></body></html>
